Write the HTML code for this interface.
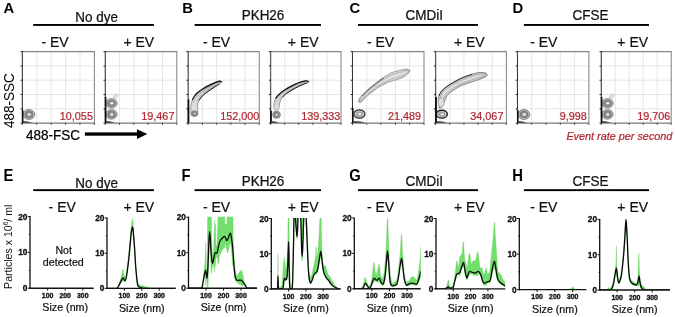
<!DOCTYPE html>
<html><head><meta charset="utf-8"><style>
html,body{margin:0;padding:0;background:#fff;}
body{width:675px;height:317px;overflow:hidden;}
svg{display:block;font-family:"Liberation Sans", sans-serif;filter:blur(0.3px);}
</style></head><body>
<svg width="675" height="317" viewBox="0 0 675 317">
<defs><linearGradient id="bg" gradientUnits="userSpaceOnUse" x1="0" y1="82" x2="0" y2="113"><stop offset="0" stop-color="#9a9a9a"/><stop offset="0.45" stop-color="#c4c4c4"/><stop offset="1" stop-color="#eeeeee"/></linearGradient><filter id="bl" filterUnits="userSpaceOnUse" x="0" y="0" width="675" height="317"><feGaussianBlur stdDeviation="0.35"/></filter></defs>
<rect width="675" height="317" fill="#fff"/>
<text transform="translate(3.6,13.1) scale(1,1.05)" x="0" y="0" font-size="14.8" text-anchor="start" font-weight="bold" font-style="normal" fill="#000" >A</text>
<text transform="translate(182.3,13.1) scale(1,1.05)" x="0" y="0" font-size="14.8" text-anchor="start" font-weight="bold" font-style="normal" fill="#000" >B</text>
<text transform="translate(349.5,13.1) scale(1,1.05)" x="0" y="0" font-size="14.8" text-anchor="start" font-weight="bold" font-style="normal" fill="#000" >C</text>
<text transform="translate(512.5,13.1) scale(1,1.05)" x="0" y="0" font-size="14.8" text-anchor="start" font-weight="bold" font-style="normal" fill="#000" >D</text>
<text transform="translate(3.6,180.9) scale(1,1.08)" x="0" y="0" font-size="14.8" text-anchor="start" font-weight="bold" font-style="normal" fill="#000" >E</text>
<text transform="translate(181.4,180.9) scale(1,1.08)" x="0" y="0" font-size="14.8" text-anchor="start" font-weight="bold" font-style="normal" fill="#000" >F</text>
<text transform="translate(349.3,180.9) scale(1,1.08)" x="0" y="0" font-size="14.8" text-anchor="start" font-weight="bold" font-style="normal" fill="#000" >G</text>
<text transform="translate(512.3,180.9) scale(1,1.08)" x="0" y="0" font-size="14.8" text-anchor="start" font-weight="bold" font-style="normal" fill="#000" >H</text>
<text transform="translate(96.6,21.7) scale(1,1.05)" x="0" y="0" font-size="13.5" text-anchor="middle" font-weight="normal" font-style="normal" fill="#111"  stroke="#111" stroke-width="0.22">No dye</text>
<rect x="33.2" y="24" width="120.7" height="1.9" fill="#000"/>
<text transform="translate(263,20.0) scale(1,1.05)" x="0" y="0" font-size="13.5" text-anchor="middle" font-weight="normal" font-style="normal" fill="#111"  stroke="#111" stroke-width="0.22">PKH26</text>
<rect x="194.6" y="24" width="126.4" height="1.9" fill="#000"/>
<text transform="translate(424.3,20.0) scale(1,1.05)" x="0" y="0" font-size="13.5" text-anchor="middle" font-weight="normal" font-style="normal" fill="#111"  stroke="#111" stroke-width="0.22">CMDiI</text>
<rect x="358" y="24" width="120" height="1.9" fill="#000"/>
<text transform="translate(590.5,20.0) scale(1,1.05)" x="0" y="0" font-size="13.5" text-anchor="middle" font-weight="normal" font-style="normal" fill="#111"  stroke="#111" stroke-width="0.22">CFSE</text>
<rect x="523.9" y="24" width="125.10000000000002" height="1.9" fill="#000"/>
<text transform="translate(96.6,187.5) scale(1,1.05)" x="0" y="0" font-size="13.5" text-anchor="middle" font-weight="normal" font-style="normal" fill="#111"  stroke="#111" stroke-width="0.22">No dye</text>
<rect x="33.2" y="189.2" width="120.7" height="1.9" fill="#000"/>
<text transform="translate(263,185.8) scale(1,1.05)" x="0" y="0" font-size="13.5" text-anchor="middle" font-weight="normal" font-style="normal" fill="#111"  stroke="#111" stroke-width="0.22">PKH26</text>
<rect x="194.6" y="189.2" width="126.4" height="1.9" fill="#000"/>
<text transform="translate(424.3,185.8) scale(1,1.05)" x="0" y="0" font-size="13.5" text-anchor="middle" font-weight="normal" font-style="normal" fill="#111"  stroke="#111" stroke-width="0.22">CMDiI</text>
<rect x="358" y="189.2" width="120" height="1.9" fill="#000"/>
<text transform="translate(590.5,185.8) scale(1,1.05)" x="0" y="0" font-size="13.5" text-anchor="middle" font-weight="normal" font-style="normal" fill="#111"  stroke="#111" stroke-width="0.22">CFSE</text>
<rect x="523.9" y="189.2" width="125.10000000000002" height="1.9" fill="#000"/>
<text transform="translate(55,46.7) scale(1,1.05)" x="0" y="0" font-size="14" text-anchor="middle" font-weight="normal" font-style="normal" fill="#111"  stroke="#111" stroke-width="0.22">- EV</text>
<text transform="translate(138.75,46.7) scale(1,1.05)" x="0" y="0" font-size="14" text-anchor="middle" font-weight="normal" font-style="normal" fill="#111"  stroke="#111" stroke-width="0.22">+ EV</text>
<text transform="translate(216.6,46.7) scale(1,1.05)" x="0" y="0" font-size="14" text-anchor="middle" font-weight="normal" font-style="normal" fill="#111"  stroke="#111" stroke-width="0.22">- EV</text>
<text transform="translate(303.2,46.7) scale(1,1.05)" x="0" y="0" font-size="14" text-anchor="middle" font-weight="normal" font-style="normal" fill="#111"  stroke="#111" stroke-width="0.22">+ EV</text>
<text transform="translate(380.5,46.7) scale(1,1.05)" x="0" y="0" font-size="14" text-anchor="middle" font-weight="normal" font-style="normal" fill="#111"  stroke="#111" stroke-width="0.22">- EV</text>
<text transform="translate(469.3,46.7) scale(1,1.05)" x="0" y="0" font-size="14" text-anchor="middle" font-weight="normal" font-style="normal" fill="#111"  stroke="#111" stroke-width="0.22">+ EV</text>
<text transform="translate(543.8,46.7) scale(1,1.05)" x="0" y="0" font-size="14" text-anchor="middle" font-weight="normal" font-style="normal" fill="#111"  stroke="#111" stroke-width="0.22">- EV</text>
<text transform="translate(632.7,46.7) scale(1,1.05)" x="0" y="0" font-size="14" text-anchor="middle" font-weight="normal" font-style="normal" fill="#111"  stroke="#111" stroke-width="0.22">+ EV</text>
<text transform="translate(62.2,212.0) scale(1,1.05)" x="0" y="0" font-size="14" text-anchor="middle" font-weight="normal" font-style="normal" fill="#111"  stroke="#111" stroke-width="0.22">- EV</text>
<text transform="translate(138.75,212.0) scale(1,1.05)" x="0" y="0" font-size="14" text-anchor="middle" font-weight="normal" font-style="normal" fill="#111"  stroke="#111" stroke-width="0.22">+ EV</text>
<text transform="translate(216.6,212.0) scale(1,1.05)" x="0" y="0" font-size="14" text-anchor="middle" font-weight="normal" font-style="normal" fill="#111"  stroke="#111" stroke-width="0.22">- EV</text>
<text transform="translate(303.2,212.0) scale(1,1.05)" x="0" y="0" font-size="14" text-anchor="middle" font-weight="normal" font-style="normal" fill="#111"  stroke="#111" stroke-width="0.22">+ EV</text>
<text transform="translate(380.5,212.0) scale(1,1.05)" x="0" y="0" font-size="14" text-anchor="middle" font-weight="normal" font-style="normal" fill="#111"  stroke="#111" stroke-width="0.22">- EV</text>
<text transform="translate(469.3,212.0) scale(1,1.05)" x="0" y="0" font-size="14" text-anchor="middle" font-weight="normal" font-style="normal" fill="#111"  stroke="#111" stroke-width="0.22">+ EV</text>
<text transform="translate(543.8,212.0) scale(1,1.05)" x="0" y="0" font-size="14" text-anchor="middle" font-weight="normal" font-style="normal" fill="#111"  stroke="#111" stroke-width="0.22">- EV</text>
<text transform="translate(632.7,212.0) scale(1,1.05)" x="0" y="0" font-size="14" text-anchor="middle" font-weight="normal" font-style="normal" fill="#111"  stroke="#111" stroke-width="0.22">+ EV</text>
<rect x="22.4" y="51.6" width="72.0" height="71.5" fill="#fff"/>
<line x1="36.80" y1="51.6" x2="36.80" y2="123.1" stroke="#e0e0e0" stroke-width="0.85"/>
<line x1="22.4" y1="65.90" x2="94.4" y2="65.90" stroke="#e0e0e0" stroke-width="0.85"/>
<line x1="51.20" y1="51.6" x2="51.20" y2="123.1" stroke="#e0e0e0" stroke-width="0.85"/>
<line x1="22.4" y1="80.20" x2="94.4" y2="80.20" stroke="#e0e0e0" stroke-width="0.85"/>
<line x1="65.60" y1="51.6" x2="65.60" y2="123.1" stroke="#e0e0e0" stroke-width="0.85"/>
<line x1="22.4" y1="94.50" x2="94.4" y2="94.50" stroke="#e0e0e0" stroke-width="0.85"/>
<line x1="80.00" y1="51.6" x2="80.00" y2="123.1" stroke="#e0e0e0" stroke-width="0.85"/>
<line x1="22.4" y1="108.80" x2="94.4" y2="108.80" stroke="#e0e0e0" stroke-width="0.85"/>
<polyline points="22.4,51.6 94.4,51.6 94.4,123.1" fill="none" stroke="#858585" stroke-width="1.05"/>
<line x1="22.4" y1="51.2" x2="22.4" y2="123.6" stroke="#2a2a2a" stroke-width="1"/>
<line x1="21.9" y1="123.1" x2="94.4" y2="123.1" stroke="#4a4a4a" stroke-width="0.9"/>
<line x1="20.599999999999998" y1="123.10" x2="22.4" y2="123.10" stroke="#222" stroke-width="1"/>
<line x1="22.40" y1="123.1" x2="22.40" y2="124.89999999999999" stroke="#333" stroke-width="0.9"/>
<line x1="21.4" y1="118.80" x2="22.4" y2="118.80" stroke="#999" stroke-width="0.5"/>
<line x1="26.73" y1="123.1" x2="26.73" y2="124.1" stroke="#888" stroke-width="0.5"/>
<line x1="21.4" y1="116.28" x2="22.4" y2="116.28" stroke="#999" stroke-width="0.5"/>
<line x1="29.27" y1="123.1" x2="29.27" y2="124.1" stroke="#888" stroke-width="0.5"/>
<line x1="21.4" y1="114.49" x2="22.4" y2="114.49" stroke="#999" stroke-width="0.5"/>
<line x1="31.07" y1="123.1" x2="31.07" y2="124.1" stroke="#888" stroke-width="0.5"/>
<line x1="21.4" y1="113.10" x2="22.4" y2="113.10" stroke="#999" stroke-width="0.5"/>
<line x1="32.47" y1="123.1" x2="32.47" y2="124.1" stroke="#888" stroke-width="0.5"/>
<line x1="21.4" y1="111.97" x2="22.4" y2="111.97" stroke="#999" stroke-width="0.5"/>
<line x1="33.61" y1="123.1" x2="33.61" y2="124.1" stroke="#888" stroke-width="0.5"/>
<line x1="21.4" y1="111.02" x2="22.4" y2="111.02" stroke="#999" stroke-width="0.5"/>
<line x1="34.57" y1="123.1" x2="34.57" y2="124.1" stroke="#888" stroke-width="0.5"/>
<line x1="21.4" y1="110.19" x2="22.4" y2="110.19" stroke="#999" stroke-width="0.5"/>
<line x1="35.40" y1="123.1" x2="35.40" y2="124.1" stroke="#888" stroke-width="0.5"/>
<line x1="21.4" y1="109.45" x2="22.4" y2="109.45" stroke="#999" stroke-width="0.5"/>
<line x1="36.14" y1="123.1" x2="36.14" y2="124.1" stroke="#888" stroke-width="0.5"/>
<line x1="20.599999999999998" y1="108.80" x2="22.4" y2="108.80" stroke="#222" stroke-width="1"/>
<line x1="36.80" y1="123.1" x2="36.80" y2="124.89999999999999" stroke="#333" stroke-width="0.9"/>
<line x1="21.4" y1="104.50" x2="22.4" y2="104.50" stroke="#999" stroke-width="0.5"/>
<line x1="41.13" y1="123.1" x2="41.13" y2="124.1" stroke="#888" stroke-width="0.5"/>
<line x1="21.4" y1="101.98" x2="22.4" y2="101.98" stroke="#999" stroke-width="0.5"/>
<line x1="43.67" y1="123.1" x2="43.67" y2="124.1" stroke="#888" stroke-width="0.5"/>
<line x1="21.4" y1="100.19" x2="22.4" y2="100.19" stroke="#999" stroke-width="0.5"/>
<line x1="45.47" y1="123.1" x2="45.47" y2="124.1" stroke="#888" stroke-width="0.5"/>
<line x1="21.4" y1="98.80" x2="22.4" y2="98.80" stroke="#999" stroke-width="0.5"/>
<line x1="46.87" y1="123.1" x2="46.87" y2="124.1" stroke="#888" stroke-width="0.5"/>
<line x1="21.4" y1="97.67" x2="22.4" y2="97.67" stroke="#999" stroke-width="0.5"/>
<line x1="48.01" y1="123.1" x2="48.01" y2="124.1" stroke="#888" stroke-width="0.5"/>
<line x1="21.4" y1="96.72" x2="22.4" y2="96.72" stroke="#999" stroke-width="0.5"/>
<line x1="48.97" y1="123.1" x2="48.97" y2="124.1" stroke="#888" stroke-width="0.5"/>
<line x1="21.4" y1="95.89" x2="22.4" y2="95.89" stroke="#999" stroke-width="0.5"/>
<line x1="49.80" y1="123.1" x2="49.80" y2="124.1" stroke="#888" stroke-width="0.5"/>
<line x1="21.4" y1="95.15" x2="22.4" y2="95.15" stroke="#999" stroke-width="0.5"/>
<line x1="50.54" y1="123.1" x2="50.54" y2="124.1" stroke="#888" stroke-width="0.5"/>
<line x1="20.599999999999998" y1="94.50" x2="22.4" y2="94.50" stroke="#222" stroke-width="1"/>
<line x1="51.20" y1="123.1" x2="51.20" y2="124.89999999999999" stroke="#333" stroke-width="0.9"/>
<line x1="21.4" y1="90.20" x2="22.4" y2="90.20" stroke="#999" stroke-width="0.5"/>
<line x1="55.53" y1="123.1" x2="55.53" y2="124.1" stroke="#888" stroke-width="0.5"/>
<line x1="21.4" y1="87.68" x2="22.4" y2="87.68" stroke="#999" stroke-width="0.5"/>
<line x1="58.07" y1="123.1" x2="58.07" y2="124.1" stroke="#888" stroke-width="0.5"/>
<line x1="21.4" y1="85.89" x2="22.4" y2="85.89" stroke="#999" stroke-width="0.5"/>
<line x1="59.87" y1="123.1" x2="59.87" y2="124.1" stroke="#888" stroke-width="0.5"/>
<line x1="21.4" y1="84.50" x2="22.4" y2="84.50" stroke="#999" stroke-width="0.5"/>
<line x1="61.27" y1="123.1" x2="61.27" y2="124.1" stroke="#888" stroke-width="0.5"/>
<line x1="21.4" y1="83.37" x2="22.4" y2="83.37" stroke="#999" stroke-width="0.5"/>
<line x1="62.41" y1="123.1" x2="62.41" y2="124.1" stroke="#888" stroke-width="0.5"/>
<line x1="21.4" y1="82.42" x2="22.4" y2="82.42" stroke="#999" stroke-width="0.5"/>
<line x1="63.37" y1="123.1" x2="63.37" y2="124.1" stroke="#888" stroke-width="0.5"/>
<line x1="21.4" y1="81.59" x2="22.4" y2="81.59" stroke="#999" stroke-width="0.5"/>
<line x1="64.20" y1="123.1" x2="64.20" y2="124.1" stroke="#888" stroke-width="0.5"/>
<line x1="21.4" y1="80.85" x2="22.4" y2="80.85" stroke="#999" stroke-width="0.5"/>
<line x1="64.94" y1="123.1" x2="64.94" y2="124.1" stroke="#888" stroke-width="0.5"/>
<line x1="20.599999999999998" y1="80.20" x2="22.4" y2="80.20" stroke="#222" stroke-width="1"/>
<line x1="65.60" y1="123.1" x2="65.60" y2="124.89999999999999" stroke="#333" stroke-width="0.9"/>
<line x1="21.4" y1="75.90" x2="22.4" y2="75.90" stroke="#999" stroke-width="0.5"/>
<line x1="69.93" y1="123.1" x2="69.93" y2="124.1" stroke="#888" stroke-width="0.5"/>
<line x1="21.4" y1="73.38" x2="22.4" y2="73.38" stroke="#999" stroke-width="0.5"/>
<line x1="72.47" y1="123.1" x2="72.47" y2="124.1" stroke="#888" stroke-width="0.5"/>
<line x1="21.4" y1="71.59" x2="22.4" y2="71.59" stroke="#999" stroke-width="0.5"/>
<line x1="74.27" y1="123.1" x2="74.27" y2="124.1" stroke="#888" stroke-width="0.5"/>
<line x1="21.4" y1="70.20" x2="22.4" y2="70.20" stroke="#999" stroke-width="0.5"/>
<line x1="75.67" y1="123.1" x2="75.67" y2="124.1" stroke="#888" stroke-width="0.5"/>
<line x1="21.4" y1="69.07" x2="22.4" y2="69.07" stroke="#999" stroke-width="0.5"/>
<line x1="76.81" y1="123.1" x2="76.81" y2="124.1" stroke="#888" stroke-width="0.5"/>
<line x1="21.4" y1="68.12" x2="22.4" y2="68.12" stroke="#999" stroke-width="0.5"/>
<line x1="77.77" y1="123.1" x2="77.77" y2="124.1" stroke="#888" stroke-width="0.5"/>
<line x1="21.4" y1="67.29" x2="22.4" y2="67.29" stroke="#999" stroke-width="0.5"/>
<line x1="78.60" y1="123.1" x2="78.60" y2="124.1" stroke="#888" stroke-width="0.5"/>
<line x1="21.4" y1="66.55" x2="22.4" y2="66.55" stroke="#999" stroke-width="0.5"/>
<line x1="79.34" y1="123.1" x2="79.34" y2="124.1" stroke="#888" stroke-width="0.5"/>
<line x1="20.599999999999998" y1="65.90" x2="22.4" y2="65.90" stroke="#222" stroke-width="1"/>
<line x1="80.00" y1="123.1" x2="80.00" y2="124.89999999999999" stroke="#333" stroke-width="0.9"/>
<line x1="21.4" y1="61.60" x2="22.4" y2="61.60" stroke="#999" stroke-width="0.5"/>
<line x1="84.33" y1="123.1" x2="84.33" y2="124.1" stroke="#888" stroke-width="0.5"/>
<line x1="21.4" y1="59.08" x2="22.4" y2="59.08" stroke="#999" stroke-width="0.5"/>
<line x1="86.87" y1="123.1" x2="86.87" y2="124.1" stroke="#888" stroke-width="0.5"/>
<line x1="21.4" y1="57.29" x2="22.4" y2="57.29" stroke="#999" stroke-width="0.5"/>
<line x1="88.67" y1="123.1" x2="88.67" y2="124.1" stroke="#888" stroke-width="0.5"/>
<line x1="21.4" y1="55.90" x2="22.4" y2="55.90" stroke="#999" stroke-width="0.5"/>
<line x1="90.07" y1="123.1" x2="90.07" y2="124.1" stroke="#888" stroke-width="0.5"/>
<line x1="21.4" y1="54.77" x2="22.4" y2="54.77" stroke="#999" stroke-width="0.5"/>
<line x1="91.21" y1="123.1" x2="91.21" y2="124.1" stroke="#888" stroke-width="0.5"/>
<line x1="21.4" y1="53.82" x2="22.4" y2="53.82" stroke="#999" stroke-width="0.5"/>
<line x1="92.17" y1="123.1" x2="92.17" y2="124.1" stroke="#888" stroke-width="0.5"/>
<line x1="21.4" y1="52.99" x2="22.4" y2="52.99" stroke="#999" stroke-width="0.5"/>
<line x1="93.00" y1="123.1" x2="93.00" y2="124.1" stroke="#888" stroke-width="0.5"/>
<line x1="21.4" y1="52.25" x2="22.4" y2="52.25" stroke="#999" stroke-width="0.5"/>
<line x1="93.74" y1="123.1" x2="93.74" y2="124.1" stroke="#888" stroke-width="0.5"/>
<line x1="20.599999999999998" y1="51.60" x2="22.4" y2="51.60" stroke="#222" stroke-width="1"/>
<line x1="94.40" y1="123.1" x2="94.40" y2="124.89999999999999" stroke="#333" stroke-width="0.9"/>
<text x="92.9" y="119.8" font-size="10.8" text-anchor="end" font-weight="normal" font-style="normal" fill="#b0242e" stroke="#b0242e" stroke-width="0.2">10,055</text>
<rect x="105.3" y="51.6" width="71.50000000000001" height="71.5" fill="#fff"/>
<line x1="119.60" y1="51.6" x2="119.60" y2="123.1" stroke="#e0e0e0" stroke-width="0.85"/>
<line x1="105.3" y1="65.90" x2="176.8" y2="65.90" stroke="#e0e0e0" stroke-width="0.85"/>
<line x1="133.90" y1="51.6" x2="133.90" y2="123.1" stroke="#e0e0e0" stroke-width="0.85"/>
<line x1="105.3" y1="80.20" x2="176.8" y2="80.20" stroke="#e0e0e0" stroke-width="0.85"/>
<line x1="148.20" y1="51.6" x2="148.20" y2="123.1" stroke="#e0e0e0" stroke-width="0.85"/>
<line x1="105.3" y1="94.50" x2="176.8" y2="94.50" stroke="#e0e0e0" stroke-width="0.85"/>
<line x1="162.50" y1="51.6" x2="162.50" y2="123.1" stroke="#e0e0e0" stroke-width="0.85"/>
<line x1="105.3" y1="108.80" x2="176.8" y2="108.80" stroke="#e0e0e0" stroke-width="0.85"/>
<polyline points="105.3,51.6 176.8,51.6 176.8,123.1" fill="none" stroke="#858585" stroke-width="1.05"/>
<line x1="105.3" y1="51.2" x2="105.3" y2="123.6" stroke="#2a2a2a" stroke-width="1"/>
<line x1="104.8" y1="123.1" x2="176.8" y2="123.1" stroke="#4a4a4a" stroke-width="0.9"/>
<line x1="103.5" y1="123.10" x2="105.3" y2="123.10" stroke="#222" stroke-width="1"/>
<line x1="105.30" y1="123.1" x2="105.30" y2="124.89999999999999" stroke="#333" stroke-width="0.9"/>
<line x1="104.3" y1="118.80" x2="105.3" y2="118.80" stroke="#999" stroke-width="0.5"/>
<line x1="109.60" y1="123.1" x2="109.60" y2="124.1" stroke="#888" stroke-width="0.5"/>
<line x1="104.3" y1="116.28" x2="105.3" y2="116.28" stroke="#999" stroke-width="0.5"/>
<line x1="112.12" y1="123.1" x2="112.12" y2="124.1" stroke="#888" stroke-width="0.5"/>
<line x1="104.3" y1="114.49" x2="105.3" y2="114.49" stroke="#999" stroke-width="0.5"/>
<line x1="113.91" y1="123.1" x2="113.91" y2="124.1" stroke="#888" stroke-width="0.5"/>
<line x1="104.3" y1="113.10" x2="105.3" y2="113.10" stroke="#999" stroke-width="0.5"/>
<line x1="115.30" y1="123.1" x2="115.30" y2="124.1" stroke="#888" stroke-width="0.5"/>
<line x1="104.3" y1="111.97" x2="105.3" y2="111.97" stroke="#999" stroke-width="0.5"/>
<line x1="116.43" y1="123.1" x2="116.43" y2="124.1" stroke="#888" stroke-width="0.5"/>
<line x1="104.3" y1="111.02" x2="105.3" y2="111.02" stroke="#999" stroke-width="0.5"/>
<line x1="117.38" y1="123.1" x2="117.38" y2="124.1" stroke="#888" stroke-width="0.5"/>
<line x1="104.3" y1="110.19" x2="105.3" y2="110.19" stroke="#999" stroke-width="0.5"/>
<line x1="118.21" y1="123.1" x2="118.21" y2="124.1" stroke="#888" stroke-width="0.5"/>
<line x1="104.3" y1="109.45" x2="105.3" y2="109.45" stroke="#999" stroke-width="0.5"/>
<line x1="118.95" y1="123.1" x2="118.95" y2="124.1" stroke="#888" stroke-width="0.5"/>
<line x1="103.5" y1="108.80" x2="105.3" y2="108.80" stroke="#222" stroke-width="1"/>
<line x1="119.60" y1="123.1" x2="119.60" y2="124.89999999999999" stroke="#333" stroke-width="0.9"/>
<line x1="104.3" y1="104.50" x2="105.3" y2="104.50" stroke="#999" stroke-width="0.5"/>
<line x1="123.90" y1="123.1" x2="123.90" y2="124.1" stroke="#888" stroke-width="0.5"/>
<line x1="104.3" y1="101.98" x2="105.3" y2="101.98" stroke="#999" stroke-width="0.5"/>
<line x1="126.42" y1="123.1" x2="126.42" y2="124.1" stroke="#888" stroke-width="0.5"/>
<line x1="104.3" y1="100.19" x2="105.3" y2="100.19" stroke="#999" stroke-width="0.5"/>
<line x1="128.21" y1="123.1" x2="128.21" y2="124.1" stroke="#888" stroke-width="0.5"/>
<line x1="104.3" y1="98.80" x2="105.3" y2="98.80" stroke="#999" stroke-width="0.5"/>
<line x1="129.60" y1="123.1" x2="129.60" y2="124.1" stroke="#888" stroke-width="0.5"/>
<line x1="104.3" y1="97.67" x2="105.3" y2="97.67" stroke="#999" stroke-width="0.5"/>
<line x1="130.73" y1="123.1" x2="130.73" y2="124.1" stroke="#888" stroke-width="0.5"/>
<line x1="104.3" y1="96.72" x2="105.3" y2="96.72" stroke="#999" stroke-width="0.5"/>
<line x1="131.68" y1="123.1" x2="131.68" y2="124.1" stroke="#888" stroke-width="0.5"/>
<line x1="104.3" y1="95.89" x2="105.3" y2="95.89" stroke="#999" stroke-width="0.5"/>
<line x1="132.51" y1="123.1" x2="132.51" y2="124.1" stroke="#888" stroke-width="0.5"/>
<line x1="104.3" y1="95.15" x2="105.3" y2="95.15" stroke="#999" stroke-width="0.5"/>
<line x1="133.25" y1="123.1" x2="133.25" y2="124.1" stroke="#888" stroke-width="0.5"/>
<line x1="103.5" y1="94.50" x2="105.3" y2="94.50" stroke="#222" stroke-width="1"/>
<line x1="133.90" y1="123.1" x2="133.90" y2="124.89999999999999" stroke="#333" stroke-width="0.9"/>
<line x1="104.3" y1="90.20" x2="105.3" y2="90.20" stroke="#999" stroke-width="0.5"/>
<line x1="138.20" y1="123.1" x2="138.20" y2="124.1" stroke="#888" stroke-width="0.5"/>
<line x1="104.3" y1="87.68" x2="105.3" y2="87.68" stroke="#999" stroke-width="0.5"/>
<line x1="140.72" y1="123.1" x2="140.72" y2="124.1" stroke="#888" stroke-width="0.5"/>
<line x1="104.3" y1="85.89" x2="105.3" y2="85.89" stroke="#999" stroke-width="0.5"/>
<line x1="142.51" y1="123.1" x2="142.51" y2="124.1" stroke="#888" stroke-width="0.5"/>
<line x1="104.3" y1="84.50" x2="105.3" y2="84.50" stroke="#999" stroke-width="0.5"/>
<line x1="143.90" y1="123.1" x2="143.90" y2="124.1" stroke="#888" stroke-width="0.5"/>
<line x1="104.3" y1="83.37" x2="105.3" y2="83.37" stroke="#999" stroke-width="0.5"/>
<line x1="145.03" y1="123.1" x2="145.03" y2="124.1" stroke="#888" stroke-width="0.5"/>
<line x1="104.3" y1="82.42" x2="105.3" y2="82.42" stroke="#999" stroke-width="0.5"/>
<line x1="145.98" y1="123.1" x2="145.98" y2="124.1" stroke="#888" stroke-width="0.5"/>
<line x1="104.3" y1="81.59" x2="105.3" y2="81.59" stroke="#999" stroke-width="0.5"/>
<line x1="146.81" y1="123.1" x2="146.81" y2="124.1" stroke="#888" stroke-width="0.5"/>
<line x1="104.3" y1="80.85" x2="105.3" y2="80.85" stroke="#999" stroke-width="0.5"/>
<line x1="147.55" y1="123.1" x2="147.55" y2="124.1" stroke="#888" stroke-width="0.5"/>
<line x1="103.5" y1="80.20" x2="105.3" y2="80.20" stroke="#222" stroke-width="1"/>
<line x1="148.20" y1="123.1" x2="148.20" y2="124.89999999999999" stroke="#333" stroke-width="0.9"/>
<line x1="104.3" y1="75.90" x2="105.3" y2="75.90" stroke="#999" stroke-width="0.5"/>
<line x1="152.50" y1="123.1" x2="152.50" y2="124.1" stroke="#888" stroke-width="0.5"/>
<line x1="104.3" y1="73.38" x2="105.3" y2="73.38" stroke="#999" stroke-width="0.5"/>
<line x1="155.02" y1="123.1" x2="155.02" y2="124.1" stroke="#888" stroke-width="0.5"/>
<line x1="104.3" y1="71.59" x2="105.3" y2="71.59" stroke="#999" stroke-width="0.5"/>
<line x1="156.81" y1="123.1" x2="156.81" y2="124.1" stroke="#888" stroke-width="0.5"/>
<line x1="104.3" y1="70.20" x2="105.3" y2="70.20" stroke="#999" stroke-width="0.5"/>
<line x1="158.20" y1="123.1" x2="158.20" y2="124.1" stroke="#888" stroke-width="0.5"/>
<line x1="104.3" y1="69.07" x2="105.3" y2="69.07" stroke="#999" stroke-width="0.5"/>
<line x1="159.33" y1="123.1" x2="159.33" y2="124.1" stroke="#888" stroke-width="0.5"/>
<line x1="104.3" y1="68.12" x2="105.3" y2="68.12" stroke="#999" stroke-width="0.5"/>
<line x1="160.28" y1="123.1" x2="160.28" y2="124.1" stroke="#888" stroke-width="0.5"/>
<line x1="104.3" y1="67.29" x2="105.3" y2="67.29" stroke="#999" stroke-width="0.5"/>
<line x1="161.11" y1="123.1" x2="161.11" y2="124.1" stroke="#888" stroke-width="0.5"/>
<line x1="104.3" y1="66.55" x2="105.3" y2="66.55" stroke="#999" stroke-width="0.5"/>
<line x1="161.85" y1="123.1" x2="161.85" y2="124.1" stroke="#888" stroke-width="0.5"/>
<line x1="103.5" y1="65.90" x2="105.3" y2="65.90" stroke="#222" stroke-width="1"/>
<line x1="162.50" y1="123.1" x2="162.50" y2="124.89999999999999" stroke="#333" stroke-width="0.9"/>
<line x1="104.3" y1="61.60" x2="105.3" y2="61.60" stroke="#999" stroke-width="0.5"/>
<line x1="166.80" y1="123.1" x2="166.80" y2="124.1" stroke="#888" stroke-width="0.5"/>
<line x1="104.3" y1="59.08" x2="105.3" y2="59.08" stroke="#999" stroke-width="0.5"/>
<line x1="169.32" y1="123.1" x2="169.32" y2="124.1" stroke="#888" stroke-width="0.5"/>
<line x1="104.3" y1="57.29" x2="105.3" y2="57.29" stroke="#999" stroke-width="0.5"/>
<line x1="171.11" y1="123.1" x2="171.11" y2="124.1" stroke="#888" stroke-width="0.5"/>
<line x1="104.3" y1="55.90" x2="105.3" y2="55.90" stroke="#999" stroke-width="0.5"/>
<line x1="172.50" y1="123.1" x2="172.50" y2="124.1" stroke="#888" stroke-width="0.5"/>
<line x1="104.3" y1="54.77" x2="105.3" y2="54.77" stroke="#999" stroke-width="0.5"/>
<line x1="173.63" y1="123.1" x2="173.63" y2="124.1" stroke="#888" stroke-width="0.5"/>
<line x1="104.3" y1="53.82" x2="105.3" y2="53.82" stroke="#999" stroke-width="0.5"/>
<line x1="174.58" y1="123.1" x2="174.58" y2="124.1" stroke="#888" stroke-width="0.5"/>
<line x1="104.3" y1="52.99" x2="105.3" y2="52.99" stroke="#999" stroke-width="0.5"/>
<line x1="175.41" y1="123.1" x2="175.41" y2="124.1" stroke="#888" stroke-width="0.5"/>
<line x1="104.3" y1="52.25" x2="105.3" y2="52.25" stroke="#999" stroke-width="0.5"/>
<line x1="176.15" y1="123.1" x2="176.15" y2="124.1" stroke="#888" stroke-width="0.5"/>
<line x1="103.5" y1="51.60" x2="105.3" y2="51.60" stroke="#222" stroke-width="1"/>
<line x1="176.80" y1="123.1" x2="176.80" y2="124.89999999999999" stroke="#333" stroke-width="0.9"/>
<text x="174.4" y="119.8" font-size="10.8" text-anchor="end" font-weight="normal" font-style="normal" fill="#b0242e" stroke="#b0242e" stroke-width="0.2">19,467</text>
<rect x="188.2" y="51.6" width="71.10000000000002" height="71.5" fill="#fff"/>
<line x1="202.42" y1="51.6" x2="202.42" y2="123.1" stroke="#e0e0e0" stroke-width="0.85"/>
<line x1="188.2" y1="65.90" x2="259.3" y2="65.90" stroke="#e0e0e0" stroke-width="0.85"/>
<line x1="216.64" y1="51.6" x2="216.64" y2="123.1" stroke="#e0e0e0" stroke-width="0.85"/>
<line x1="188.2" y1="80.20" x2="259.3" y2="80.20" stroke="#e0e0e0" stroke-width="0.85"/>
<line x1="230.86" y1="51.6" x2="230.86" y2="123.1" stroke="#e0e0e0" stroke-width="0.85"/>
<line x1="188.2" y1="94.50" x2="259.3" y2="94.50" stroke="#e0e0e0" stroke-width="0.85"/>
<line x1="245.08" y1="51.6" x2="245.08" y2="123.1" stroke="#e0e0e0" stroke-width="0.85"/>
<line x1="188.2" y1="108.80" x2="259.3" y2="108.80" stroke="#e0e0e0" stroke-width="0.85"/>
<polyline points="188.2,51.6 259.3,51.6 259.3,123.1" fill="none" stroke="#858585" stroke-width="1.05"/>
<line x1="188.2" y1="51.2" x2="188.2" y2="123.6" stroke="#2a2a2a" stroke-width="1"/>
<line x1="187.7" y1="123.1" x2="259.3" y2="123.1" stroke="#4a4a4a" stroke-width="0.9"/>
<line x1="186.39999999999998" y1="123.10" x2="188.2" y2="123.10" stroke="#222" stroke-width="1"/>
<line x1="188.20" y1="123.1" x2="188.20" y2="124.89999999999999" stroke="#333" stroke-width="0.9"/>
<line x1="187.2" y1="118.80" x2="188.2" y2="118.80" stroke="#999" stroke-width="0.5"/>
<line x1="192.48" y1="123.1" x2="192.48" y2="124.1" stroke="#888" stroke-width="0.5"/>
<line x1="187.2" y1="116.28" x2="188.2" y2="116.28" stroke="#999" stroke-width="0.5"/>
<line x1="194.98" y1="123.1" x2="194.98" y2="124.1" stroke="#888" stroke-width="0.5"/>
<line x1="187.2" y1="114.49" x2="188.2" y2="114.49" stroke="#999" stroke-width="0.5"/>
<line x1="196.76" y1="123.1" x2="196.76" y2="124.1" stroke="#888" stroke-width="0.5"/>
<line x1="187.2" y1="113.10" x2="188.2" y2="113.10" stroke="#999" stroke-width="0.5"/>
<line x1="198.14" y1="123.1" x2="198.14" y2="124.1" stroke="#888" stroke-width="0.5"/>
<line x1="187.2" y1="111.97" x2="188.2" y2="111.97" stroke="#999" stroke-width="0.5"/>
<line x1="199.27" y1="123.1" x2="199.27" y2="124.1" stroke="#888" stroke-width="0.5"/>
<line x1="187.2" y1="111.02" x2="188.2" y2="111.02" stroke="#999" stroke-width="0.5"/>
<line x1="200.22" y1="123.1" x2="200.22" y2="124.1" stroke="#888" stroke-width="0.5"/>
<line x1="187.2" y1="110.19" x2="188.2" y2="110.19" stroke="#999" stroke-width="0.5"/>
<line x1="201.04" y1="123.1" x2="201.04" y2="124.1" stroke="#888" stroke-width="0.5"/>
<line x1="187.2" y1="109.45" x2="188.2" y2="109.45" stroke="#999" stroke-width="0.5"/>
<line x1="201.77" y1="123.1" x2="201.77" y2="124.1" stroke="#888" stroke-width="0.5"/>
<line x1="186.39999999999998" y1="108.80" x2="188.2" y2="108.80" stroke="#222" stroke-width="1"/>
<line x1="202.42" y1="123.1" x2="202.42" y2="124.89999999999999" stroke="#333" stroke-width="0.9"/>
<line x1="187.2" y1="104.50" x2="188.2" y2="104.50" stroke="#999" stroke-width="0.5"/>
<line x1="206.70" y1="123.1" x2="206.70" y2="124.1" stroke="#888" stroke-width="0.5"/>
<line x1="187.2" y1="101.98" x2="188.2" y2="101.98" stroke="#999" stroke-width="0.5"/>
<line x1="209.20" y1="123.1" x2="209.20" y2="124.1" stroke="#888" stroke-width="0.5"/>
<line x1="187.2" y1="100.19" x2="188.2" y2="100.19" stroke="#999" stroke-width="0.5"/>
<line x1="210.98" y1="123.1" x2="210.98" y2="124.1" stroke="#888" stroke-width="0.5"/>
<line x1="187.2" y1="98.80" x2="188.2" y2="98.80" stroke="#999" stroke-width="0.5"/>
<line x1="212.36" y1="123.1" x2="212.36" y2="124.1" stroke="#888" stroke-width="0.5"/>
<line x1="187.2" y1="97.67" x2="188.2" y2="97.67" stroke="#999" stroke-width="0.5"/>
<line x1="213.49" y1="123.1" x2="213.49" y2="124.1" stroke="#888" stroke-width="0.5"/>
<line x1="187.2" y1="96.72" x2="188.2" y2="96.72" stroke="#999" stroke-width="0.5"/>
<line x1="214.44" y1="123.1" x2="214.44" y2="124.1" stroke="#888" stroke-width="0.5"/>
<line x1="187.2" y1="95.89" x2="188.2" y2="95.89" stroke="#999" stroke-width="0.5"/>
<line x1="215.26" y1="123.1" x2="215.26" y2="124.1" stroke="#888" stroke-width="0.5"/>
<line x1="187.2" y1="95.15" x2="188.2" y2="95.15" stroke="#999" stroke-width="0.5"/>
<line x1="215.99" y1="123.1" x2="215.99" y2="124.1" stroke="#888" stroke-width="0.5"/>
<line x1="186.39999999999998" y1="94.50" x2="188.2" y2="94.50" stroke="#222" stroke-width="1"/>
<line x1="216.64" y1="123.1" x2="216.64" y2="124.89999999999999" stroke="#333" stroke-width="0.9"/>
<line x1="187.2" y1="90.20" x2="188.2" y2="90.20" stroke="#999" stroke-width="0.5"/>
<line x1="220.92" y1="123.1" x2="220.92" y2="124.1" stroke="#888" stroke-width="0.5"/>
<line x1="187.2" y1="87.68" x2="188.2" y2="87.68" stroke="#999" stroke-width="0.5"/>
<line x1="223.42" y1="123.1" x2="223.42" y2="124.1" stroke="#888" stroke-width="0.5"/>
<line x1="187.2" y1="85.89" x2="188.2" y2="85.89" stroke="#999" stroke-width="0.5"/>
<line x1="225.20" y1="123.1" x2="225.20" y2="124.1" stroke="#888" stroke-width="0.5"/>
<line x1="187.2" y1="84.50" x2="188.2" y2="84.50" stroke="#999" stroke-width="0.5"/>
<line x1="226.58" y1="123.1" x2="226.58" y2="124.1" stroke="#888" stroke-width="0.5"/>
<line x1="187.2" y1="83.37" x2="188.2" y2="83.37" stroke="#999" stroke-width="0.5"/>
<line x1="227.71" y1="123.1" x2="227.71" y2="124.1" stroke="#888" stroke-width="0.5"/>
<line x1="187.2" y1="82.42" x2="188.2" y2="82.42" stroke="#999" stroke-width="0.5"/>
<line x1="228.66" y1="123.1" x2="228.66" y2="124.1" stroke="#888" stroke-width="0.5"/>
<line x1="187.2" y1="81.59" x2="188.2" y2="81.59" stroke="#999" stroke-width="0.5"/>
<line x1="229.48" y1="123.1" x2="229.48" y2="124.1" stroke="#888" stroke-width="0.5"/>
<line x1="187.2" y1="80.85" x2="188.2" y2="80.85" stroke="#999" stroke-width="0.5"/>
<line x1="230.21" y1="123.1" x2="230.21" y2="124.1" stroke="#888" stroke-width="0.5"/>
<line x1="186.39999999999998" y1="80.20" x2="188.2" y2="80.20" stroke="#222" stroke-width="1"/>
<line x1="230.86" y1="123.1" x2="230.86" y2="124.89999999999999" stroke="#333" stroke-width="0.9"/>
<line x1="187.2" y1="75.90" x2="188.2" y2="75.90" stroke="#999" stroke-width="0.5"/>
<line x1="235.14" y1="123.1" x2="235.14" y2="124.1" stroke="#888" stroke-width="0.5"/>
<line x1="187.2" y1="73.38" x2="188.2" y2="73.38" stroke="#999" stroke-width="0.5"/>
<line x1="237.64" y1="123.1" x2="237.64" y2="124.1" stroke="#888" stroke-width="0.5"/>
<line x1="187.2" y1="71.59" x2="188.2" y2="71.59" stroke="#999" stroke-width="0.5"/>
<line x1="239.42" y1="123.1" x2="239.42" y2="124.1" stroke="#888" stroke-width="0.5"/>
<line x1="187.2" y1="70.20" x2="188.2" y2="70.20" stroke="#999" stroke-width="0.5"/>
<line x1="240.80" y1="123.1" x2="240.80" y2="124.1" stroke="#888" stroke-width="0.5"/>
<line x1="187.2" y1="69.07" x2="188.2" y2="69.07" stroke="#999" stroke-width="0.5"/>
<line x1="241.93" y1="123.1" x2="241.93" y2="124.1" stroke="#888" stroke-width="0.5"/>
<line x1="187.2" y1="68.12" x2="188.2" y2="68.12" stroke="#999" stroke-width="0.5"/>
<line x1="242.88" y1="123.1" x2="242.88" y2="124.1" stroke="#888" stroke-width="0.5"/>
<line x1="187.2" y1="67.29" x2="188.2" y2="67.29" stroke="#999" stroke-width="0.5"/>
<line x1="243.70" y1="123.1" x2="243.70" y2="124.1" stroke="#888" stroke-width="0.5"/>
<line x1="187.2" y1="66.55" x2="188.2" y2="66.55" stroke="#999" stroke-width="0.5"/>
<line x1="244.43" y1="123.1" x2="244.43" y2="124.1" stroke="#888" stroke-width="0.5"/>
<line x1="186.39999999999998" y1="65.90" x2="188.2" y2="65.90" stroke="#222" stroke-width="1"/>
<line x1="245.08" y1="123.1" x2="245.08" y2="124.89999999999999" stroke="#333" stroke-width="0.9"/>
<line x1="187.2" y1="61.60" x2="188.2" y2="61.60" stroke="#999" stroke-width="0.5"/>
<line x1="249.36" y1="123.1" x2="249.36" y2="124.1" stroke="#888" stroke-width="0.5"/>
<line x1="187.2" y1="59.08" x2="188.2" y2="59.08" stroke="#999" stroke-width="0.5"/>
<line x1="251.86" y1="123.1" x2="251.86" y2="124.1" stroke="#888" stroke-width="0.5"/>
<line x1="187.2" y1="57.29" x2="188.2" y2="57.29" stroke="#999" stroke-width="0.5"/>
<line x1="253.64" y1="123.1" x2="253.64" y2="124.1" stroke="#888" stroke-width="0.5"/>
<line x1="187.2" y1="55.90" x2="188.2" y2="55.90" stroke="#999" stroke-width="0.5"/>
<line x1="255.02" y1="123.1" x2="255.02" y2="124.1" stroke="#888" stroke-width="0.5"/>
<line x1="187.2" y1="54.77" x2="188.2" y2="54.77" stroke="#999" stroke-width="0.5"/>
<line x1="256.15" y1="123.1" x2="256.15" y2="124.1" stroke="#888" stroke-width="0.5"/>
<line x1="187.2" y1="53.82" x2="188.2" y2="53.82" stroke="#999" stroke-width="0.5"/>
<line x1="257.10" y1="123.1" x2="257.10" y2="124.1" stroke="#888" stroke-width="0.5"/>
<line x1="187.2" y1="52.99" x2="188.2" y2="52.99" stroke="#999" stroke-width="0.5"/>
<line x1="257.92" y1="123.1" x2="257.92" y2="124.1" stroke="#888" stroke-width="0.5"/>
<line x1="187.2" y1="52.25" x2="188.2" y2="52.25" stroke="#999" stroke-width="0.5"/>
<line x1="258.65" y1="123.1" x2="258.65" y2="124.1" stroke="#888" stroke-width="0.5"/>
<line x1="186.39999999999998" y1="51.60" x2="188.2" y2="51.60" stroke="#222" stroke-width="1"/>
<line x1="259.30" y1="123.1" x2="259.30" y2="124.89999999999999" stroke="#333" stroke-width="0.9"/>
<text x="259.2" y="119.8" font-size="10.8" text-anchor="end" font-weight="normal" font-style="normal" fill="#b0242e" stroke="#b0242e" stroke-width="0.2">152,000</text>
<rect x="270.7" y="51.6" width="70.30000000000001" height="71.5" fill="#fff"/>
<line x1="284.76" y1="51.6" x2="284.76" y2="123.1" stroke="#e0e0e0" stroke-width="0.85"/>
<line x1="270.7" y1="65.90" x2="341.0" y2="65.90" stroke="#e0e0e0" stroke-width="0.85"/>
<line x1="298.82" y1="51.6" x2="298.82" y2="123.1" stroke="#e0e0e0" stroke-width="0.85"/>
<line x1="270.7" y1="80.20" x2="341.0" y2="80.20" stroke="#e0e0e0" stroke-width="0.85"/>
<line x1="312.88" y1="51.6" x2="312.88" y2="123.1" stroke="#e0e0e0" stroke-width="0.85"/>
<line x1="270.7" y1="94.50" x2="341.0" y2="94.50" stroke="#e0e0e0" stroke-width="0.85"/>
<line x1="326.94" y1="51.6" x2="326.94" y2="123.1" stroke="#e0e0e0" stroke-width="0.85"/>
<line x1="270.7" y1="108.80" x2="341.0" y2="108.80" stroke="#e0e0e0" stroke-width="0.85"/>
<polyline points="270.7,51.6 341.0,51.6 341.0,123.1" fill="none" stroke="#858585" stroke-width="1.05"/>
<line x1="270.7" y1="51.2" x2="270.7" y2="123.6" stroke="#2a2a2a" stroke-width="1"/>
<line x1="270.2" y1="123.1" x2="341.0" y2="123.1" stroke="#4a4a4a" stroke-width="0.9"/>
<line x1="268.9" y1="123.10" x2="270.7" y2="123.10" stroke="#222" stroke-width="1"/>
<line x1="270.70" y1="123.1" x2="270.70" y2="124.89999999999999" stroke="#333" stroke-width="0.9"/>
<line x1="269.7" y1="118.80" x2="270.7" y2="118.80" stroke="#999" stroke-width="0.5"/>
<line x1="274.93" y1="123.1" x2="274.93" y2="124.1" stroke="#888" stroke-width="0.5"/>
<line x1="269.7" y1="116.28" x2="270.7" y2="116.28" stroke="#999" stroke-width="0.5"/>
<line x1="277.41" y1="123.1" x2="277.41" y2="124.1" stroke="#888" stroke-width="0.5"/>
<line x1="269.7" y1="114.49" x2="270.7" y2="114.49" stroke="#999" stroke-width="0.5"/>
<line x1="279.16" y1="123.1" x2="279.16" y2="124.1" stroke="#888" stroke-width="0.5"/>
<line x1="269.7" y1="113.10" x2="270.7" y2="113.10" stroke="#999" stroke-width="0.5"/>
<line x1="280.53" y1="123.1" x2="280.53" y2="124.1" stroke="#888" stroke-width="0.5"/>
<line x1="269.7" y1="111.97" x2="270.7" y2="111.97" stroke="#999" stroke-width="0.5"/>
<line x1="281.64" y1="123.1" x2="281.64" y2="124.1" stroke="#888" stroke-width="0.5"/>
<line x1="269.7" y1="111.02" x2="270.7" y2="111.02" stroke="#999" stroke-width="0.5"/>
<line x1="282.58" y1="123.1" x2="282.58" y2="124.1" stroke="#888" stroke-width="0.5"/>
<line x1="269.7" y1="110.19" x2="270.7" y2="110.19" stroke="#999" stroke-width="0.5"/>
<line x1="283.40" y1="123.1" x2="283.40" y2="124.1" stroke="#888" stroke-width="0.5"/>
<line x1="269.7" y1="109.45" x2="270.7" y2="109.45" stroke="#999" stroke-width="0.5"/>
<line x1="284.12" y1="123.1" x2="284.12" y2="124.1" stroke="#888" stroke-width="0.5"/>
<line x1="268.9" y1="108.80" x2="270.7" y2="108.80" stroke="#222" stroke-width="1"/>
<line x1="284.76" y1="123.1" x2="284.76" y2="124.89999999999999" stroke="#333" stroke-width="0.9"/>
<line x1="269.7" y1="104.50" x2="270.7" y2="104.50" stroke="#999" stroke-width="0.5"/>
<line x1="288.99" y1="123.1" x2="288.99" y2="124.1" stroke="#888" stroke-width="0.5"/>
<line x1="269.7" y1="101.98" x2="270.7" y2="101.98" stroke="#999" stroke-width="0.5"/>
<line x1="291.47" y1="123.1" x2="291.47" y2="124.1" stroke="#888" stroke-width="0.5"/>
<line x1="269.7" y1="100.19" x2="270.7" y2="100.19" stroke="#999" stroke-width="0.5"/>
<line x1="293.22" y1="123.1" x2="293.22" y2="124.1" stroke="#888" stroke-width="0.5"/>
<line x1="269.7" y1="98.80" x2="270.7" y2="98.80" stroke="#999" stroke-width="0.5"/>
<line x1="294.59" y1="123.1" x2="294.59" y2="124.1" stroke="#888" stroke-width="0.5"/>
<line x1="269.7" y1="97.67" x2="270.7" y2="97.67" stroke="#999" stroke-width="0.5"/>
<line x1="295.70" y1="123.1" x2="295.70" y2="124.1" stroke="#888" stroke-width="0.5"/>
<line x1="269.7" y1="96.72" x2="270.7" y2="96.72" stroke="#999" stroke-width="0.5"/>
<line x1="296.64" y1="123.1" x2="296.64" y2="124.1" stroke="#888" stroke-width="0.5"/>
<line x1="269.7" y1="95.89" x2="270.7" y2="95.89" stroke="#999" stroke-width="0.5"/>
<line x1="297.46" y1="123.1" x2="297.46" y2="124.1" stroke="#888" stroke-width="0.5"/>
<line x1="269.7" y1="95.15" x2="270.7" y2="95.15" stroke="#999" stroke-width="0.5"/>
<line x1="298.18" y1="123.1" x2="298.18" y2="124.1" stroke="#888" stroke-width="0.5"/>
<line x1="268.9" y1="94.50" x2="270.7" y2="94.50" stroke="#222" stroke-width="1"/>
<line x1="298.82" y1="123.1" x2="298.82" y2="124.89999999999999" stroke="#333" stroke-width="0.9"/>
<line x1="269.7" y1="90.20" x2="270.7" y2="90.20" stroke="#999" stroke-width="0.5"/>
<line x1="303.05" y1="123.1" x2="303.05" y2="124.1" stroke="#888" stroke-width="0.5"/>
<line x1="269.7" y1="87.68" x2="270.7" y2="87.68" stroke="#999" stroke-width="0.5"/>
<line x1="305.53" y1="123.1" x2="305.53" y2="124.1" stroke="#888" stroke-width="0.5"/>
<line x1="269.7" y1="85.89" x2="270.7" y2="85.89" stroke="#999" stroke-width="0.5"/>
<line x1="307.28" y1="123.1" x2="307.28" y2="124.1" stroke="#888" stroke-width="0.5"/>
<line x1="269.7" y1="84.50" x2="270.7" y2="84.50" stroke="#999" stroke-width="0.5"/>
<line x1="308.65" y1="123.1" x2="308.65" y2="124.1" stroke="#888" stroke-width="0.5"/>
<line x1="269.7" y1="83.37" x2="270.7" y2="83.37" stroke="#999" stroke-width="0.5"/>
<line x1="309.76" y1="123.1" x2="309.76" y2="124.1" stroke="#888" stroke-width="0.5"/>
<line x1="269.7" y1="82.42" x2="270.7" y2="82.42" stroke="#999" stroke-width="0.5"/>
<line x1="310.70" y1="123.1" x2="310.70" y2="124.1" stroke="#888" stroke-width="0.5"/>
<line x1="269.7" y1="81.59" x2="270.7" y2="81.59" stroke="#999" stroke-width="0.5"/>
<line x1="311.52" y1="123.1" x2="311.52" y2="124.1" stroke="#888" stroke-width="0.5"/>
<line x1="269.7" y1="80.85" x2="270.7" y2="80.85" stroke="#999" stroke-width="0.5"/>
<line x1="312.24" y1="123.1" x2="312.24" y2="124.1" stroke="#888" stroke-width="0.5"/>
<line x1="268.9" y1="80.20" x2="270.7" y2="80.20" stroke="#222" stroke-width="1"/>
<line x1="312.88" y1="123.1" x2="312.88" y2="124.89999999999999" stroke="#333" stroke-width="0.9"/>
<line x1="269.7" y1="75.90" x2="270.7" y2="75.90" stroke="#999" stroke-width="0.5"/>
<line x1="317.11" y1="123.1" x2="317.11" y2="124.1" stroke="#888" stroke-width="0.5"/>
<line x1="269.7" y1="73.38" x2="270.7" y2="73.38" stroke="#999" stroke-width="0.5"/>
<line x1="319.59" y1="123.1" x2="319.59" y2="124.1" stroke="#888" stroke-width="0.5"/>
<line x1="269.7" y1="71.59" x2="270.7" y2="71.59" stroke="#999" stroke-width="0.5"/>
<line x1="321.34" y1="123.1" x2="321.34" y2="124.1" stroke="#888" stroke-width="0.5"/>
<line x1="269.7" y1="70.20" x2="270.7" y2="70.20" stroke="#999" stroke-width="0.5"/>
<line x1="322.71" y1="123.1" x2="322.71" y2="124.1" stroke="#888" stroke-width="0.5"/>
<line x1="269.7" y1="69.07" x2="270.7" y2="69.07" stroke="#999" stroke-width="0.5"/>
<line x1="323.82" y1="123.1" x2="323.82" y2="124.1" stroke="#888" stroke-width="0.5"/>
<line x1="269.7" y1="68.12" x2="270.7" y2="68.12" stroke="#999" stroke-width="0.5"/>
<line x1="324.76" y1="123.1" x2="324.76" y2="124.1" stroke="#888" stroke-width="0.5"/>
<line x1="269.7" y1="67.29" x2="270.7" y2="67.29" stroke="#999" stroke-width="0.5"/>
<line x1="325.58" y1="123.1" x2="325.58" y2="124.1" stroke="#888" stroke-width="0.5"/>
<line x1="269.7" y1="66.55" x2="270.7" y2="66.55" stroke="#999" stroke-width="0.5"/>
<line x1="326.30" y1="123.1" x2="326.30" y2="124.1" stroke="#888" stroke-width="0.5"/>
<line x1="268.9" y1="65.90" x2="270.7" y2="65.90" stroke="#222" stroke-width="1"/>
<line x1="326.94" y1="123.1" x2="326.94" y2="124.89999999999999" stroke="#333" stroke-width="0.9"/>
<line x1="269.7" y1="61.60" x2="270.7" y2="61.60" stroke="#999" stroke-width="0.5"/>
<line x1="331.17" y1="123.1" x2="331.17" y2="124.1" stroke="#888" stroke-width="0.5"/>
<line x1="269.7" y1="59.08" x2="270.7" y2="59.08" stroke="#999" stroke-width="0.5"/>
<line x1="333.65" y1="123.1" x2="333.65" y2="124.1" stroke="#888" stroke-width="0.5"/>
<line x1="269.7" y1="57.29" x2="270.7" y2="57.29" stroke="#999" stroke-width="0.5"/>
<line x1="335.40" y1="123.1" x2="335.40" y2="124.1" stroke="#888" stroke-width="0.5"/>
<line x1="269.7" y1="55.90" x2="270.7" y2="55.90" stroke="#999" stroke-width="0.5"/>
<line x1="336.77" y1="123.1" x2="336.77" y2="124.1" stroke="#888" stroke-width="0.5"/>
<line x1="269.7" y1="54.77" x2="270.7" y2="54.77" stroke="#999" stroke-width="0.5"/>
<line x1="337.88" y1="123.1" x2="337.88" y2="124.1" stroke="#888" stroke-width="0.5"/>
<line x1="269.7" y1="53.82" x2="270.7" y2="53.82" stroke="#999" stroke-width="0.5"/>
<line x1="338.82" y1="123.1" x2="338.82" y2="124.1" stroke="#888" stroke-width="0.5"/>
<line x1="269.7" y1="52.99" x2="270.7" y2="52.99" stroke="#999" stroke-width="0.5"/>
<line x1="339.64" y1="123.1" x2="339.64" y2="124.1" stroke="#888" stroke-width="0.5"/>
<line x1="269.7" y1="52.25" x2="270.7" y2="52.25" stroke="#999" stroke-width="0.5"/>
<line x1="340.36" y1="123.1" x2="340.36" y2="124.1" stroke="#888" stroke-width="0.5"/>
<line x1="268.9" y1="51.60" x2="270.7" y2="51.60" stroke="#222" stroke-width="1"/>
<line x1="341.00" y1="123.1" x2="341.00" y2="124.89999999999999" stroke="#333" stroke-width="0.9"/>
<text x="340.3" y="119.8" font-size="10.8" text-anchor="end" font-weight="normal" font-style="normal" fill="#b0242e" stroke="#b0242e" stroke-width="0.2">139,333</text>
<rect x="352.5" y="51.6" width="71.5" height="71.5" fill="#fff"/>
<line x1="366.80" y1="51.6" x2="366.80" y2="123.1" stroke="#e0e0e0" stroke-width="0.85"/>
<line x1="352.5" y1="65.90" x2="424.0" y2="65.90" stroke="#e0e0e0" stroke-width="0.85"/>
<line x1="381.10" y1="51.6" x2="381.10" y2="123.1" stroke="#e0e0e0" stroke-width="0.85"/>
<line x1="352.5" y1="80.20" x2="424.0" y2="80.20" stroke="#e0e0e0" stroke-width="0.85"/>
<line x1="395.40" y1="51.6" x2="395.40" y2="123.1" stroke="#e0e0e0" stroke-width="0.85"/>
<line x1="352.5" y1="94.50" x2="424.0" y2="94.50" stroke="#e0e0e0" stroke-width="0.85"/>
<line x1="409.70" y1="51.6" x2="409.70" y2="123.1" stroke="#e0e0e0" stroke-width="0.85"/>
<line x1="352.5" y1="108.80" x2="424.0" y2="108.80" stroke="#e0e0e0" stroke-width="0.85"/>
<polyline points="352.5,51.6 424.0,51.6 424.0,123.1" fill="none" stroke="#858585" stroke-width="1.05"/>
<line x1="352.5" y1="51.2" x2="352.5" y2="123.6" stroke="#2a2a2a" stroke-width="1"/>
<line x1="352.0" y1="123.1" x2="424.0" y2="123.1" stroke="#4a4a4a" stroke-width="0.9"/>
<line x1="350.7" y1="123.10" x2="352.5" y2="123.10" stroke="#222" stroke-width="1"/>
<line x1="352.50" y1="123.1" x2="352.50" y2="124.89999999999999" stroke="#333" stroke-width="0.9"/>
<line x1="351.5" y1="118.80" x2="352.5" y2="118.80" stroke="#999" stroke-width="0.5"/>
<line x1="356.80" y1="123.1" x2="356.80" y2="124.1" stroke="#888" stroke-width="0.5"/>
<line x1="351.5" y1="116.28" x2="352.5" y2="116.28" stroke="#999" stroke-width="0.5"/>
<line x1="359.32" y1="123.1" x2="359.32" y2="124.1" stroke="#888" stroke-width="0.5"/>
<line x1="351.5" y1="114.49" x2="352.5" y2="114.49" stroke="#999" stroke-width="0.5"/>
<line x1="361.11" y1="123.1" x2="361.11" y2="124.1" stroke="#888" stroke-width="0.5"/>
<line x1="351.5" y1="113.10" x2="352.5" y2="113.10" stroke="#999" stroke-width="0.5"/>
<line x1="362.50" y1="123.1" x2="362.50" y2="124.1" stroke="#888" stroke-width="0.5"/>
<line x1="351.5" y1="111.97" x2="352.5" y2="111.97" stroke="#999" stroke-width="0.5"/>
<line x1="363.63" y1="123.1" x2="363.63" y2="124.1" stroke="#888" stroke-width="0.5"/>
<line x1="351.5" y1="111.02" x2="352.5" y2="111.02" stroke="#999" stroke-width="0.5"/>
<line x1="364.58" y1="123.1" x2="364.58" y2="124.1" stroke="#888" stroke-width="0.5"/>
<line x1="351.5" y1="110.19" x2="352.5" y2="110.19" stroke="#999" stroke-width="0.5"/>
<line x1="365.41" y1="123.1" x2="365.41" y2="124.1" stroke="#888" stroke-width="0.5"/>
<line x1="351.5" y1="109.45" x2="352.5" y2="109.45" stroke="#999" stroke-width="0.5"/>
<line x1="366.15" y1="123.1" x2="366.15" y2="124.1" stroke="#888" stroke-width="0.5"/>
<line x1="350.7" y1="108.80" x2="352.5" y2="108.80" stroke="#222" stroke-width="1"/>
<line x1="366.80" y1="123.1" x2="366.80" y2="124.89999999999999" stroke="#333" stroke-width="0.9"/>
<line x1="351.5" y1="104.50" x2="352.5" y2="104.50" stroke="#999" stroke-width="0.5"/>
<line x1="371.10" y1="123.1" x2="371.10" y2="124.1" stroke="#888" stroke-width="0.5"/>
<line x1="351.5" y1="101.98" x2="352.5" y2="101.98" stroke="#999" stroke-width="0.5"/>
<line x1="373.62" y1="123.1" x2="373.62" y2="124.1" stroke="#888" stroke-width="0.5"/>
<line x1="351.5" y1="100.19" x2="352.5" y2="100.19" stroke="#999" stroke-width="0.5"/>
<line x1="375.41" y1="123.1" x2="375.41" y2="124.1" stroke="#888" stroke-width="0.5"/>
<line x1="351.5" y1="98.80" x2="352.5" y2="98.80" stroke="#999" stroke-width="0.5"/>
<line x1="376.80" y1="123.1" x2="376.80" y2="124.1" stroke="#888" stroke-width="0.5"/>
<line x1="351.5" y1="97.67" x2="352.5" y2="97.67" stroke="#999" stroke-width="0.5"/>
<line x1="377.93" y1="123.1" x2="377.93" y2="124.1" stroke="#888" stroke-width="0.5"/>
<line x1="351.5" y1="96.72" x2="352.5" y2="96.72" stroke="#999" stroke-width="0.5"/>
<line x1="378.88" y1="123.1" x2="378.88" y2="124.1" stroke="#888" stroke-width="0.5"/>
<line x1="351.5" y1="95.89" x2="352.5" y2="95.89" stroke="#999" stroke-width="0.5"/>
<line x1="379.71" y1="123.1" x2="379.71" y2="124.1" stroke="#888" stroke-width="0.5"/>
<line x1="351.5" y1="95.15" x2="352.5" y2="95.15" stroke="#999" stroke-width="0.5"/>
<line x1="380.45" y1="123.1" x2="380.45" y2="124.1" stroke="#888" stroke-width="0.5"/>
<line x1="350.7" y1="94.50" x2="352.5" y2="94.50" stroke="#222" stroke-width="1"/>
<line x1="381.10" y1="123.1" x2="381.10" y2="124.89999999999999" stroke="#333" stroke-width="0.9"/>
<line x1="351.5" y1="90.20" x2="352.5" y2="90.20" stroke="#999" stroke-width="0.5"/>
<line x1="385.40" y1="123.1" x2="385.40" y2="124.1" stroke="#888" stroke-width="0.5"/>
<line x1="351.5" y1="87.68" x2="352.5" y2="87.68" stroke="#999" stroke-width="0.5"/>
<line x1="387.92" y1="123.1" x2="387.92" y2="124.1" stroke="#888" stroke-width="0.5"/>
<line x1="351.5" y1="85.89" x2="352.5" y2="85.89" stroke="#999" stroke-width="0.5"/>
<line x1="389.71" y1="123.1" x2="389.71" y2="124.1" stroke="#888" stroke-width="0.5"/>
<line x1="351.5" y1="84.50" x2="352.5" y2="84.50" stroke="#999" stroke-width="0.5"/>
<line x1="391.10" y1="123.1" x2="391.10" y2="124.1" stroke="#888" stroke-width="0.5"/>
<line x1="351.5" y1="83.37" x2="352.5" y2="83.37" stroke="#999" stroke-width="0.5"/>
<line x1="392.23" y1="123.1" x2="392.23" y2="124.1" stroke="#888" stroke-width="0.5"/>
<line x1="351.5" y1="82.42" x2="352.5" y2="82.42" stroke="#999" stroke-width="0.5"/>
<line x1="393.18" y1="123.1" x2="393.18" y2="124.1" stroke="#888" stroke-width="0.5"/>
<line x1="351.5" y1="81.59" x2="352.5" y2="81.59" stroke="#999" stroke-width="0.5"/>
<line x1="394.01" y1="123.1" x2="394.01" y2="124.1" stroke="#888" stroke-width="0.5"/>
<line x1="351.5" y1="80.85" x2="352.5" y2="80.85" stroke="#999" stroke-width="0.5"/>
<line x1="394.75" y1="123.1" x2="394.75" y2="124.1" stroke="#888" stroke-width="0.5"/>
<line x1="350.7" y1="80.20" x2="352.5" y2="80.20" stroke="#222" stroke-width="1"/>
<line x1="395.40" y1="123.1" x2="395.40" y2="124.89999999999999" stroke="#333" stroke-width="0.9"/>
<line x1="351.5" y1="75.90" x2="352.5" y2="75.90" stroke="#999" stroke-width="0.5"/>
<line x1="399.70" y1="123.1" x2="399.70" y2="124.1" stroke="#888" stroke-width="0.5"/>
<line x1="351.5" y1="73.38" x2="352.5" y2="73.38" stroke="#999" stroke-width="0.5"/>
<line x1="402.22" y1="123.1" x2="402.22" y2="124.1" stroke="#888" stroke-width="0.5"/>
<line x1="351.5" y1="71.59" x2="352.5" y2="71.59" stroke="#999" stroke-width="0.5"/>
<line x1="404.01" y1="123.1" x2="404.01" y2="124.1" stroke="#888" stroke-width="0.5"/>
<line x1="351.5" y1="70.20" x2="352.5" y2="70.20" stroke="#999" stroke-width="0.5"/>
<line x1="405.40" y1="123.1" x2="405.40" y2="124.1" stroke="#888" stroke-width="0.5"/>
<line x1="351.5" y1="69.07" x2="352.5" y2="69.07" stroke="#999" stroke-width="0.5"/>
<line x1="406.53" y1="123.1" x2="406.53" y2="124.1" stroke="#888" stroke-width="0.5"/>
<line x1="351.5" y1="68.12" x2="352.5" y2="68.12" stroke="#999" stroke-width="0.5"/>
<line x1="407.48" y1="123.1" x2="407.48" y2="124.1" stroke="#888" stroke-width="0.5"/>
<line x1="351.5" y1="67.29" x2="352.5" y2="67.29" stroke="#999" stroke-width="0.5"/>
<line x1="408.31" y1="123.1" x2="408.31" y2="124.1" stroke="#888" stroke-width="0.5"/>
<line x1="351.5" y1="66.55" x2="352.5" y2="66.55" stroke="#999" stroke-width="0.5"/>
<line x1="409.05" y1="123.1" x2="409.05" y2="124.1" stroke="#888" stroke-width="0.5"/>
<line x1="350.7" y1="65.90" x2="352.5" y2="65.90" stroke="#222" stroke-width="1"/>
<line x1="409.70" y1="123.1" x2="409.70" y2="124.89999999999999" stroke="#333" stroke-width="0.9"/>
<line x1="351.5" y1="61.60" x2="352.5" y2="61.60" stroke="#999" stroke-width="0.5"/>
<line x1="414.00" y1="123.1" x2="414.00" y2="124.1" stroke="#888" stroke-width="0.5"/>
<line x1="351.5" y1="59.08" x2="352.5" y2="59.08" stroke="#999" stroke-width="0.5"/>
<line x1="416.52" y1="123.1" x2="416.52" y2="124.1" stroke="#888" stroke-width="0.5"/>
<line x1="351.5" y1="57.29" x2="352.5" y2="57.29" stroke="#999" stroke-width="0.5"/>
<line x1="418.31" y1="123.1" x2="418.31" y2="124.1" stroke="#888" stroke-width="0.5"/>
<line x1="351.5" y1="55.90" x2="352.5" y2="55.90" stroke="#999" stroke-width="0.5"/>
<line x1="419.70" y1="123.1" x2="419.70" y2="124.1" stroke="#888" stroke-width="0.5"/>
<line x1="351.5" y1="54.77" x2="352.5" y2="54.77" stroke="#999" stroke-width="0.5"/>
<line x1="420.83" y1="123.1" x2="420.83" y2="124.1" stroke="#888" stroke-width="0.5"/>
<line x1="351.5" y1="53.82" x2="352.5" y2="53.82" stroke="#999" stroke-width="0.5"/>
<line x1="421.78" y1="123.1" x2="421.78" y2="124.1" stroke="#888" stroke-width="0.5"/>
<line x1="351.5" y1="52.99" x2="352.5" y2="52.99" stroke="#999" stroke-width="0.5"/>
<line x1="422.61" y1="123.1" x2="422.61" y2="124.1" stroke="#888" stroke-width="0.5"/>
<line x1="351.5" y1="52.25" x2="352.5" y2="52.25" stroke="#999" stroke-width="0.5"/>
<line x1="423.35" y1="123.1" x2="423.35" y2="124.1" stroke="#888" stroke-width="0.5"/>
<line x1="350.7" y1="51.60" x2="352.5" y2="51.60" stroke="#222" stroke-width="1"/>
<line x1="424.00" y1="123.1" x2="424.00" y2="124.89999999999999" stroke="#333" stroke-width="0.9"/>
<text x="421.1" y="119.8" font-size="10.8" text-anchor="end" font-weight="normal" font-style="normal" fill="#b0242e" stroke="#b0242e" stroke-width="0.2">21,489</text>
<rect x="435.7" y="51.6" width="70.69999999999999" height="71.5" fill="#fff"/>
<line x1="449.84" y1="51.6" x2="449.84" y2="123.1" stroke="#e0e0e0" stroke-width="0.85"/>
<line x1="435.7" y1="65.90" x2="506.4" y2="65.90" stroke="#e0e0e0" stroke-width="0.85"/>
<line x1="463.98" y1="51.6" x2="463.98" y2="123.1" stroke="#e0e0e0" stroke-width="0.85"/>
<line x1="435.7" y1="80.20" x2="506.4" y2="80.20" stroke="#e0e0e0" stroke-width="0.85"/>
<line x1="478.12" y1="51.6" x2="478.12" y2="123.1" stroke="#e0e0e0" stroke-width="0.85"/>
<line x1="435.7" y1="94.50" x2="506.4" y2="94.50" stroke="#e0e0e0" stroke-width="0.85"/>
<line x1="492.26" y1="51.6" x2="492.26" y2="123.1" stroke="#e0e0e0" stroke-width="0.85"/>
<line x1="435.7" y1="108.80" x2="506.4" y2="108.80" stroke="#e0e0e0" stroke-width="0.85"/>
<polyline points="435.7,51.6 506.4,51.6 506.4,123.1" fill="none" stroke="#858585" stroke-width="1.05"/>
<line x1="435.7" y1="51.2" x2="435.7" y2="123.6" stroke="#2a2a2a" stroke-width="1"/>
<line x1="435.2" y1="123.1" x2="506.4" y2="123.1" stroke="#4a4a4a" stroke-width="0.9"/>
<line x1="433.9" y1="123.10" x2="435.7" y2="123.10" stroke="#222" stroke-width="1"/>
<line x1="435.70" y1="123.1" x2="435.70" y2="124.89999999999999" stroke="#333" stroke-width="0.9"/>
<line x1="434.7" y1="118.80" x2="435.7" y2="118.80" stroke="#999" stroke-width="0.5"/>
<line x1="439.96" y1="123.1" x2="439.96" y2="124.1" stroke="#888" stroke-width="0.5"/>
<line x1="434.7" y1="116.28" x2="435.7" y2="116.28" stroke="#999" stroke-width="0.5"/>
<line x1="442.45" y1="123.1" x2="442.45" y2="124.1" stroke="#888" stroke-width="0.5"/>
<line x1="434.7" y1="114.49" x2="435.7" y2="114.49" stroke="#999" stroke-width="0.5"/>
<line x1="444.21" y1="123.1" x2="444.21" y2="124.1" stroke="#888" stroke-width="0.5"/>
<line x1="434.7" y1="113.10" x2="435.7" y2="113.10" stroke="#999" stroke-width="0.5"/>
<line x1="445.58" y1="123.1" x2="445.58" y2="124.1" stroke="#888" stroke-width="0.5"/>
<line x1="434.7" y1="111.97" x2="435.7" y2="111.97" stroke="#999" stroke-width="0.5"/>
<line x1="446.70" y1="123.1" x2="446.70" y2="124.1" stroke="#888" stroke-width="0.5"/>
<line x1="434.7" y1="111.02" x2="435.7" y2="111.02" stroke="#999" stroke-width="0.5"/>
<line x1="447.65" y1="123.1" x2="447.65" y2="124.1" stroke="#888" stroke-width="0.5"/>
<line x1="434.7" y1="110.19" x2="435.7" y2="110.19" stroke="#999" stroke-width="0.5"/>
<line x1="448.47" y1="123.1" x2="448.47" y2="124.1" stroke="#888" stroke-width="0.5"/>
<line x1="434.7" y1="109.45" x2="435.7" y2="109.45" stroke="#999" stroke-width="0.5"/>
<line x1="449.19" y1="123.1" x2="449.19" y2="124.1" stroke="#888" stroke-width="0.5"/>
<line x1="433.9" y1="108.80" x2="435.7" y2="108.80" stroke="#222" stroke-width="1"/>
<line x1="449.84" y1="123.1" x2="449.84" y2="124.89999999999999" stroke="#333" stroke-width="0.9"/>
<line x1="434.7" y1="104.50" x2="435.7" y2="104.50" stroke="#999" stroke-width="0.5"/>
<line x1="454.10" y1="123.1" x2="454.10" y2="124.1" stroke="#888" stroke-width="0.5"/>
<line x1="434.7" y1="101.98" x2="435.7" y2="101.98" stroke="#999" stroke-width="0.5"/>
<line x1="456.59" y1="123.1" x2="456.59" y2="124.1" stroke="#888" stroke-width="0.5"/>
<line x1="434.7" y1="100.19" x2="435.7" y2="100.19" stroke="#999" stroke-width="0.5"/>
<line x1="458.35" y1="123.1" x2="458.35" y2="124.1" stroke="#888" stroke-width="0.5"/>
<line x1="434.7" y1="98.80" x2="435.7" y2="98.80" stroke="#999" stroke-width="0.5"/>
<line x1="459.72" y1="123.1" x2="459.72" y2="124.1" stroke="#888" stroke-width="0.5"/>
<line x1="434.7" y1="97.67" x2="435.7" y2="97.67" stroke="#999" stroke-width="0.5"/>
<line x1="460.84" y1="123.1" x2="460.84" y2="124.1" stroke="#888" stroke-width="0.5"/>
<line x1="434.7" y1="96.72" x2="435.7" y2="96.72" stroke="#999" stroke-width="0.5"/>
<line x1="461.79" y1="123.1" x2="461.79" y2="124.1" stroke="#888" stroke-width="0.5"/>
<line x1="434.7" y1="95.89" x2="435.7" y2="95.89" stroke="#999" stroke-width="0.5"/>
<line x1="462.61" y1="123.1" x2="462.61" y2="124.1" stroke="#888" stroke-width="0.5"/>
<line x1="434.7" y1="95.15" x2="435.7" y2="95.15" stroke="#999" stroke-width="0.5"/>
<line x1="463.33" y1="123.1" x2="463.33" y2="124.1" stroke="#888" stroke-width="0.5"/>
<line x1="433.9" y1="94.50" x2="435.7" y2="94.50" stroke="#222" stroke-width="1"/>
<line x1="463.98" y1="123.1" x2="463.98" y2="124.89999999999999" stroke="#333" stroke-width="0.9"/>
<line x1="434.7" y1="90.20" x2="435.7" y2="90.20" stroke="#999" stroke-width="0.5"/>
<line x1="468.24" y1="123.1" x2="468.24" y2="124.1" stroke="#888" stroke-width="0.5"/>
<line x1="434.7" y1="87.68" x2="435.7" y2="87.68" stroke="#999" stroke-width="0.5"/>
<line x1="470.73" y1="123.1" x2="470.73" y2="124.1" stroke="#888" stroke-width="0.5"/>
<line x1="434.7" y1="85.89" x2="435.7" y2="85.89" stroke="#999" stroke-width="0.5"/>
<line x1="472.49" y1="123.1" x2="472.49" y2="124.1" stroke="#888" stroke-width="0.5"/>
<line x1="434.7" y1="84.50" x2="435.7" y2="84.50" stroke="#999" stroke-width="0.5"/>
<line x1="473.86" y1="123.1" x2="473.86" y2="124.1" stroke="#888" stroke-width="0.5"/>
<line x1="434.7" y1="83.37" x2="435.7" y2="83.37" stroke="#999" stroke-width="0.5"/>
<line x1="474.98" y1="123.1" x2="474.98" y2="124.1" stroke="#888" stroke-width="0.5"/>
<line x1="434.7" y1="82.42" x2="435.7" y2="82.42" stroke="#999" stroke-width="0.5"/>
<line x1="475.93" y1="123.1" x2="475.93" y2="124.1" stroke="#888" stroke-width="0.5"/>
<line x1="434.7" y1="81.59" x2="435.7" y2="81.59" stroke="#999" stroke-width="0.5"/>
<line x1="476.75" y1="123.1" x2="476.75" y2="124.1" stroke="#888" stroke-width="0.5"/>
<line x1="434.7" y1="80.85" x2="435.7" y2="80.85" stroke="#999" stroke-width="0.5"/>
<line x1="477.47" y1="123.1" x2="477.47" y2="124.1" stroke="#888" stroke-width="0.5"/>
<line x1="433.9" y1="80.20" x2="435.7" y2="80.20" stroke="#222" stroke-width="1"/>
<line x1="478.12" y1="123.1" x2="478.12" y2="124.89999999999999" stroke="#333" stroke-width="0.9"/>
<line x1="434.7" y1="75.90" x2="435.7" y2="75.90" stroke="#999" stroke-width="0.5"/>
<line x1="482.38" y1="123.1" x2="482.38" y2="124.1" stroke="#888" stroke-width="0.5"/>
<line x1="434.7" y1="73.38" x2="435.7" y2="73.38" stroke="#999" stroke-width="0.5"/>
<line x1="484.87" y1="123.1" x2="484.87" y2="124.1" stroke="#888" stroke-width="0.5"/>
<line x1="434.7" y1="71.59" x2="435.7" y2="71.59" stroke="#999" stroke-width="0.5"/>
<line x1="486.63" y1="123.1" x2="486.63" y2="124.1" stroke="#888" stroke-width="0.5"/>
<line x1="434.7" y1="70.20" x2="435.7" y2="70.20" stroke="#999" stroke-width="0.5"/>
<line x1="488.00" y1="123.1" x2="488.00" y2="124.1" stroke="#888" stroke-width="0.5"/>
<line x1="434.7" y1="69.07" x2="435.7" y2="69.07" stroke="#999" stroke-width="0.5"/>
<line x1="489.12" y1="123.1" x2="489.12" y2="124.1" stroke="#888" stroke-width="0.5"/>
<line x1="434.7" y1="68.12" x2="435.7" y2="68.12" stroke="#999" stroke-width="0.5"/>
<line x1="490.07" y1="123.1" x2="490.07" y2="124.1" stroke="#888" stroke-width="0.5"/>
<line x1="434.7" y1="67.29" x2="435.7" y2="67.29" stroke="#999" stroke-width="0.5"/>
<line x1="490.89" y1="123.1" x2="490.89" y2="124.1" stroke="#888" stroke-width="0.5"/>
<line x1="434.7" y1="66.55" x2="435.7" y2="66.55" stroke="#999" stroke-width="0.5"/>
<line x1="491.61" y1="123.1" x2="491.61" y2="124.1" stroke="#888" stroke-width="0.5"/>
<line x1="433.9" y1="65.90" x2="435.7" y2="65.90" stroke="#222" stroke-width="1"/>
<line x1="492.26" y1="123.1" x2="492.26" y2="124.89999999999999" stroke="#333" stroke-width="0.9"/>
<line x1="434.7" y1="61.60" x2="435.7" y2="61.60" stroke="#999" stroke-width="0.5"/>
<line x1="496.52" y1="123.1" x2="496.52" y2="124.1" stroke="#888" stroke-width="0.5"/>
<line x1="434.7" y1="59.08" x2="435.7" y2="59.08" stroke="#999" stroke-width="0.5"/>
<line x1="499.01" y1="123.1" x2="499.01" y2="124.1" stroke="#888" stroke-width="0.5"/>
<line x1="434.7" y1="57.29" x2="435.7" y2="57.29" stroke="#999" stroke-width="0.5"/>
<line x1="500.77" y1="123.1" x2="500.77" y2="124.1" stroke="#888" stroke-width="0.5"/>
<line x1="434.7" y1="55.90" x2="435.7" y2="55.90" stroke="#999" stroke-width="0.5"/>
<line x1="502.14" y1="123.1" x2="502.14" y2="124.1" stroke="#888" stroke-width="0.5"/>
<line x1="434.7" y1="54.77" x2="435.7" y2="54.77" stroke="#999" stroke-width="0.5"/>
<line x1="503.26" y1="123.1" x2="503.26" y2="124.1" stroke="#888" stroke-width="0.5"/>
<line x1="434.7" y1="53.82" x2="435.7" y2="53.82" stroke="#999" stroke-width="0.5"/>
<line x1="504.21" y1="123.1" x2="504.21" y2="124.1" stroke="#888" stroke-width="0.5"/>
<line x1="434.7" y1="52.99" x2="435.7" y2="52.99" stroke="#999" stroke-width="0.5"/>
<line x1="505.03" y1="123.1" x2="505.03" y2="124.1" stroke="#888" stroke-width="0.5"/>
<line x1="434.7" y1="52.25" x2="435.7" y2="52.25" stroke="#999" stroke-width="0.5"/>
<line x1="505.75" y1="123.1" x2="505.75" y2="124.1" stroke="#888" stroke-width="0.5"/>
<line x1="433.9" y1="51.60" x2="435.7" y2="51.60" stroke="#222" stroke-width="1"/>
<line x1="506.40" y1="123.1" x2="506.40" y2="124.89999999999999" stroke="#333" stroke-width="0.9"/>
<text x="503.4" y="119.8" font-size="10.8" text-anchor="end" font-weight="normal" font-style="normal" fill="#b0242e" stroke="#b0242e" stroke-width="0.2">34,067</text>
<rect x="517.5" y="51.6" width="71.39999999999998" height="71.5" fill="#fff"/>
<line x1="531.78" y1="51.6" x2="531.78" y2="123.1" stroke="#e0e0e0" stroke-width="0.85"/>
<line x1="517.5" y1="65.90" x2="588.9" y2="65.90" stroke="#e0e0e0" stroke-width="0.85"/>
<line x1="546.06" y1="51.6" x2="546.06" y2="123.1" stroke="#e0e0e0" stroke-width="0.85"/>
<line x1="517.5" y1="80.20" x2="588.9" y2="80.20" stroke="#e0e0e0" stroke-width="0.85"/>
<line x1="560.34" y1="51.6" x2="560.34" y2="123.1" stroke="#e0e0e0" stroke-width="0.85"/>
<line x1="517.5" y1="94.50" x2="588.9" y2="94.50" stroke="#e0e0e0" stroke-width="0.85"/>
<line x1="574.62" y1="51.6" x2="574.62" y2="123.1" stroke="#e0e0e0" stroke-width="0.85"/>
<line x1="517.5" y1="108.80" x2="588.9" y2="108.80" stroke="#e0e0e0" stroke-width="0.85"/>
<polyline points="517.5,51.6 588.9,51.6 588.9,123.1" fill="none" stroke="#858585" stroke-width="1.05"/>
<line x1="517.5" y1="51.2" x2="517.5" y2="123.6" stroke="#2a2a2a" stroke-width="1"/>
<line x1="517.0" y1="123.1" x2="588.9" y2="123.1" stroke="#4a4a4a" stroke-width="0.9"/>
<line x1="515.7" y1="123.10" x2="517.5" y2="123.10" stroke="#222" stroke-width="1"/>
<line x1="517.50" y1="123.1" x2="517.50" y2="124.89999999999999" stroke="#333" stroke-width="0.9"/>
<line x1="516.5" y1="118.80" x2="517.5" y2="118.80" stroke="#999" stroke-width="0.5"/>
<line x1="521.80" y1="123.1" x2="521.80" y2="124.1" stroke="#888" stroke-width="0.5"/>
<line x1="516.5" y1="116.28" x2="517.5" y2="116.28" stroke="#999" stroke-width="0.5"/>
<line x1="524.31" y1="123.1" x2="524.31" y2="124.1" stroke="#888" stroke-width="0.5"/>
<line x1="516.5" y1="114.49" x2="517.5" y2="114.49" stroke="#999" stroke-width="0.5"/>
<line x1="526.10" y1="123.1" x2="526.10" y2="124.1" stroke="#888" stroke-width="0.5"/>
<line x1="516.5" y1="113.10" x2="517.5" y2="113.10" stroke="#999" stroke-width="0.5"/>
<line x1="527.48" y1="123.1" x2="527.48" y2="124.1" stroke="#888" stroke-width="0.5"/>
<line x1="516.5" y1="111.97" x2="517.5" y2="111.97" stroke="#999" stroke-width="0.5"/>
<line x1="528.61" y1="123.1" x2="528.61" y2="124.1" stroke="#888" stroke-width="0.5"/>
<line x1="516.5" y1="111.02" x2="517.5" y2="111.02" stroke="#999" stroke-width="0.5"/>
<line x1="529.57" y1="123.1" x2="529.57" y2="124.1" stroke="#888" stroke-width="0.5"/>
<line x1="516.5" y1="110.19" x2="517.5" y2="110.19" stroke="#999" stroke-width="0.5"/>
<line x1="530.40" y1="123.1" x2="530.40" y2="124.1" stroke="#888" stroke-width="0.5"/>
<line x1="516.5" y1="109.45" x2="517.5" y2="109.45" stroke="#999" stroke-width="0.5"/>
<line x1="531.13" y1="123.1" x2="531.13" y2="124.1" stroke="#888" stroke-width="0.5"/>
<line x1="515.7" y1="108.80" x2="517.5" y2="108.80" stroke="#222" stroke-width="1"/>
<line x1="531.78" y1="123.1" x2="531.78" y2="124.89999999999999" stroke="#333" stroke-width="0.9"/>
<line x1="516.5" y1="104.50" x2="517.5" y2="104.50" stroke="#999" stroke-width="0.5"/>
<line x1="536.08" y1="123.1" x2="536.08" y2="124.1" stroke="#888" stroke-width="0.5"/>
<line x1="516.5" y1="101.98" x2="517.5" y2="101.98" stroke="#999" stroke-width="0.5"/>
<line x1="538.59" y1="123.1" x2="538.59" y2="124.1" stroke="#888" stroke-width="0.5"/>
<line x1="516.5" y1="100.19" x2="517.5" y2="100.19" stroke="#999" stroke-width="0.5"/>
<line x1="540.38" y1="123.1" x2="540.38" y2="124.1" stroke="#888" stroke-width="0.5"/>
<line x1="516.5" y1="98.80" x2="517.5" y2="98.80" stroke="#999" stroke-width="0.5"/>
<line x1="541.76" y1="123.1" x2="541.76" y2="124.1" stroke="#888" stroke-width="0.5"/>
<line x1="516.5" y1="97.67" x2="517.5" y2="97.67" stroke="#999" stroke-width="0.5"/>
<line x1="542.89" y1="123.1" x2="542.89" y2="124.1" stroke="#888" stroke-width="0.5"/>
<line x1="516.5" y1="96.72" x2="517.5" y2="96.72" stroke="#999" stroke-width="0.5"/>
<line x1="543.85" y1="123.1" x2="543.85" y2="124.1" stroke="#888" stroke-width="0.5"/>
<line x1="516.5" y1="95.89" x2="517.5" y2="95.89" stroke="#999" stroke-width="0.5"/>
<line x1="544.68" y1="123.1" x2="544.68" y2="124.1" stroke="#888" stroke-width="0.5"/>
<line x1="516.5" y1="95.15" x2="517.5" y2="95.15" stroke="#999" stroke-width="0.5"/>
<line x1="545.41" y1="123.1" x2="545.41" y2="124.1" stroke="#888" stroke-width="0.5"/>
<line x1="515.7" y1="94.50" x2="517.5" y2="94.50" stroke="#222" stroke-width="1"/>
<line x1="546.06" y1="123.1" x2="546.06" y2="124.89999999999999" stroke="#333" stroke-width="0.9"/>
<line x1="516.5" y1="90.20" x2="517.5" y2="90.20" stroke="#999" stroke-width="0.5"/>
<line x1="550.36" y1="123.1" x2="550.36" y2="124.1" stroke="#888" stroke-width="0.5"/>
<line x1="516.5" y1="87.68" x2="517.5" y2="87.68" stroke="#999" stroke-width="0.5"/>
<line x1="552.87" y1="123.1" x2="552.87" y2="124.1" stroke="#888" stroke-width="0.5"/>
<line x1="516.5" y1="85.89" x2="517.5" y2="85.89" stroke="#999" stroke-width="0.5"/>
<line x1="554.66" y1="123.1" x2="554.66" y2="124.1" stroke="#888" stroke-width="0.5"/>
<line x1="516.5" y1="84.50" x2="517.5" y2="84.50" stroke="#999" stroke-width="0.5"/>
<line x1="556.04" y1="123.1" x2="556.04" y2="124.1" stroke="#888" stroke-width="0.5"/>
<line x1="516.5" y1="83.37" x2="517.5" y2="83.37" stroke="#999" stroke-width="0.5"/>
<line x1="557.17" y1="123.1" x2="557.17" y2="124.1" stroke="#888" stroke-width="0.5"/>
<line x1="516.5" y1="82.42" x2="517.5" y2="82.42" stroke="#999" stroke-width="0.5"/>
<line x1="558.13" y1="123.1" x2="558.13" y2="124.1" stroke="#888" stroke-width="0.5"/>
<line x1="516.5" y1="81.59" x2="517.5" y2="81.59" stroke="#999" stroke-width="0.5"/>
<line x1="558.96" y1="123.1" x2="558.96" y2="124.1" stroke="#888" stroke-width="0.5"/>
<line x1="516.5" y1="80.85" x2="517.5" y2="80.85" stroke="#999" stroke-width="0.5"/>
<line x1="559.69" y1="123.1" x2="559.69" y2="124.1" stroke="#888" stroke-width="0.5"/>
<line x1="515.7" y1="80.20" x2="517.5" y2="80.20" stroke="#222" stroke-width="1"/>
<line x1="560.34" y1="123.1" x2="560.34" y2="124.89999999999999" stroke="#333" stroke-width="0.9"/>
<line x1="516.5" y1="75.90" x2="517.5" y2="75.90" stroke="#999" stroke-width="0.5"/>
<line x1="564.64" y1="123.1" x2="564.64" y2="124.1" stroke="#888" stroke-width="0.5"/>
<line x1="516.5" y1="73.38" x2="517.5" y2="73.38" stroke="#999" stroke-width="0.5"/>
<line x1="567.15" y1="123.1" x2="567.15" y2="124.1" stroke="#888" stroke-width="0.5"/>
<line x1="516.5" y1="71.59" x2="517.5" y2="71.59" stroke="#999" stroke-width="0.5"/>
<line x1="568.94" y1="123.1" x2="568.94" y2="124.1" stroke="#888" stroke-width="0.5"/>
<line x1="516.5" y1="70.20" x2="517.5" y2="70.20" stroke="#999" stroke-width="0.5"/>
<line x1="570.32" y1="123.1" x2="570.32" y2="124.1" stroke="#888" stroke-width="0.5"/>
<line x1="516.5" y1="69.07" x2="517.5" y2="69.07" stroke="#999" stroke-width="0.5"/>
<line x1="571.45" y1="123.1" x2="571.45" y2="124.1" stroke="#888" stroke-width="0.5"/>
<line x1="516.5" y1="68.12" x2="517.5" y2="68.12" stroke="#999" stroke-width="0.5"/>
<line x1="572.41" y1="123.1" x2="572.41" y2="124.1" stroke="#888" stroke-width="0.5"/>
<line x1="516.5" y1="67.29" x2="517.5" y2="67.29" stroke="#999" stroke-width="0.5"/>
<line x1="573.24" y1="123.1" x2="573.24" y2="124.1" stroke="#888" stroke-width="0.5"/>
<line x1="516.5" y1="66.55" x2="517.5" y2="66.55" stroke="#999" stroke-width="0.5"/>
<line x1="573.97" y1="123.1" x2="573.97" y2="124.1" stroke="#888" stroke-width="0.5"/>
<line x1="515.7" y1="65.90" x2="517.5" y2="65.90" stroke="#222" stroke-width="1"/>
<line x1="574.62" y1="123.1" x2="574.62" y2="124.89999999999999" stroke="#333" stroke-width="0.9"/>
<line x1="516.5" y1="61.60" x2="517.5" y2="61.60" stroke="#999" stroke-width="0.5"/>
<line x1="578.92" y1="123.1" x2="578.92" y2="124.1" stroke="#888" stroke-width="0.5"/>
<line x1="516.5" y1="59.08" x2="517.5" y2="59.08" stroke="#999" stroke-width="0.5"/>
<line x1="581.43" y1="123.1" x2="581.43" y2="124.1" stroke="#888" stroke-width="0.5"/>
<line x1="516.5" y1="57.29" x2="517.5" y2="57.29" stroke="#999" stroke-width="0.5"/>
<line x1="583.22" y1="123.1" x2="583.22" y2="124.1" stroke="#888" stroke-width="0.5"/>
<line x1="516.5" y1="55.90" x2="517.5" y2="55.90" stroke="#999" stroke-width="0.5"/>
<line x1="584.60" y1="123.1" x2="584.60" y2="124.1" stroke="#888" stroke-width="0.5"/>
<line x1="516.5" y1="54.77" x2="517.5" y2="54.77" stroke="#999" stroke-width="0.5"/>
<line x1="585.73" y1="123.1" x2="585.73" y2="124.1" stroke="#888" stroke-width="0.5"/>
<line x1="516.5" y1="53.82" x2="517.5" y2="53.82" stroke="#999" stroke-width="0.5"/>
<line x1="586.69" y1="123.1" x2="586.69" y2="124.1" stroke="#888" stroke-width="0.5"/>
<line x1="516.5" y1="52.99" x2="517.5" y2="52.99" stroke="#999" stroke-width="0.5"/>
<line x1="587.52" y1="123.1" x2="587.52" y2="124.1" stroke="#888" stroke-width="0.5"/>
<line x1="516.5" y1="52.25" x2="517.5" y2="52.25" stroke="#999" stroke-width="0.5"/>
<line x1="588.25" y1="123.1" x2="588.25" y2="124.1" stroke="#888" stroke-width="0.5"/>
<line x1="515.7" y1="51.60" x2="517.5" y2="51.60" stroke="#222" stroke-width="1"/>
<line x1="588.90" y1="123.1" x2="588.90" y2="124.89999999999999" stroke="#333" stroke-width="0.9"/>
<text x="586.7" y="119.8" font-size="10.8" text-anchor="end" font-weight="normal" font-style="normal" fill="#b0242e" stroke="#b0242e" stroke-width="0.2">9,998</text>
<rect x="601.3" y="51.6" width="69.90000000000009" height="71.5" fill="#fff"/>
<line x1="615.28" y1="51.6" x2="615.28" y2="123.1" stroke="#e0e0e0" stroke-width="0.85"/>
<line x1="601.3" y1="65.90" x2="671.2" y2="65.90" stroke="#e0e0e0" stroke-width="0.85"/>
<line x1="629.26" y1="51.6" x2="629.26" y2="123.1" stroke="#e0e0e0" stroke-width="0.85"/>
<line x1="601.3" y1="80.20" x2="671.2" y2="80.20" stroke="#e0e0e0" stroke-width="0.85"/>
<line x1="643.24" y1="51.6" x2="643.24" y2="123.1" stroke="#e0e0e0" stroke-width="0.85"/>
<line x1="601.3" y1="94.50" x2="671.2" y2="94.50" stroke="#e0e0e0" stroke-width="0.85"/>
<line x1="657.22" y1="51.6" x2="657.22" y2="123.1" stroke="#e0e0e0" stroke-width="0.85"/>
<line x1="601.3" y1="108.80" x2="671.2" y2="108.80" stroke="#e0e0e0" stroke-width="0.85"/>
<polyline points="601.3,51.6 671.2,51.6 671.2,123.1" fill="none" stroke="#858585" stroke-width="1.05"/>
<line x1="601.3" y1="51.2" x2="601.3" y2="123.6" stroke="#2a2a2a" stroke-width="1"/>
<line x1="600.8" y1="123.1" x2="671.2" y2="123.1" stroke="#4a4a4a" stroke-width="0.9"/>
<line x1="599.5" y1="123.10" x2="601.3" y2="123.10" stroke="#222" stroke-width="1"/>
<line x1="601.30" y1="123.1" x2="601.30" y2="124.89999999999999" stroke="#333" stroke-width="0.9"/>
<line x1="600.3" y1="118.80" x2="601.3" y2="118.80" stroke="#999" stroke-width="0.5"/>
<line x1="605.51" y1="123.1" x2="605.51" y2="124.1" stroke="#888" stroke-width="0.5"/>
<line x1="600.3" y1="116.28" x2="601.3" y2="116.28" stroke="#999" stroke-width="0.5"/>
<line x1="607.97" y1="123.1" x2="607.97" y2="124.1" stroke="#888" stroke-width="0.5"/>
<line x1="600.3" y1="114.49" x2="601.3" y2="114.49" stroke="#999" stroke-width="0.5"/>
<line x1="609.72" y1="123.1" x2="609.72" y2="124.1" stroke="#888" stroke-width="0.5"/>
<line x1="600.3" y1="113.10" x2="601.3" y2="113.10" stroke="#999" stroke-width="0.5"/>
<line x1="611.07" y1="123.1" x2="611.07" y2="124.1" stroke="#888" stroke-width="0.5"/>
<line x1="600.3" y1="111.97" x2="601.3" y2="111.97" stroke="#999" stroke-width="0.5"/>
<line x1="612.18" y1="123.1" x2="612.18" y2="124.1" stroke="#888" stroke-width="0.5"/>
<line x1="600.3" y1="111.02" x2="601.3" y2="111.02" stroke="#999" stroke-width="0.5"/>
<line x1="613.11" y1="123.1" x2="613.11" y2="124.1" stroke="#888" stroke-width="0.5"/>
<line x1="600.3" y1="110.19" x2="601.3" y2="110.19" stroke="#999" stroke-width="0.5"/>
<line x1="613.93" y1="123.1" x2="613.93" y2="124.1" stroke="#888" stroke-width="0.5"/>
<line x1="600.3" y1="109.45" x2="601.3" y2="109.45" stroke="#999" stroke-width="0.5"/>
<line x1="614.64" y1="123.1" x2="614.64" y2="124.1" stroke="#888" stroke-width="0.5"/>
<line x1="599.5" y1="108.80" x2="601.3" y2="108.80" stroke="#222" stroke-width="1"/>
<line x1="615.28" y1="123.1" x2="615.28" y2="124.89999999999999" stroke="#333" stroke-width="0.9"/>
<line x1="600.3" y1="104.50" x2="601.3" y2="104.50" stroke="#999" stroke-width="0.5"/>
<line x1="619.49" y1="123.1" x2="619.49" y2="124.1" stroke="#888" stroke-width="0.5"/>
<line x1="600.3" y1="101.98" x2="601.3" y2="101.98" stroke="#999" stroke-width="0.5"/>
<line x1="621.95" y1="123.1" x2="621.95" y2="124.1" stroke="#888" stroke-width="0.5"/>
<line x1="600.3" y1="100.19" x2="601.3" y2="100.19" stroke="#999" stroke-width="0.5"/>
<line x1="623.70" y1="123.1" x2="623.70" y2="124.1" stroke="#888" stroke-width="0.5"/>
<line x1="600.3" y1="98.80" x2="601.3" y2="98.80" stroke="#999" stroke-width="0.5"/>
<line x1="625.05" y1="123.1" x2="625.05" y2="124.1" stroke="#888" stroke-width="0.5"/>
<line x1="600.3" y1="97.67" x2="601.3" y2="97.67" stroke="#999" stroke-width="0.5"/>
<line x1="626.16" y1="123.1" x2="626.16" y2="124.1" stroke="#888" stroke-width="0.5"/>
<line x1="600.3" y1="96.72" x2="601.3" y2="96.72" stroke="#999" stroke-width="0.5"/>
<line x1="627.09" y1="123.1" x2="627.09" y2="124.1" stroke="#888" stroke-width="0.5"/>
<line x1="600.3" y1="95.89" x2="601.3" y2="95.89" stroke="#999" stroke-width="0.5"/>
<line x1="627.91" y1="123.1" x2="627.91" y2="124.1" stroke="#888" stroke-width="0.5"/>
<line x1="600.3" y1="95.15" x2="601.3" y2="95.15" stroke="#999" stroke-width="0.5"/>
<line x1="628.62" y1="123.1" x2="628.62" y2="124.1" stroke="#888" stroke-width="0.5"/>
<line x1="599.5" y1="94.50" x2="601.3" y2="94.50" stroke="#222" stroke-width="1"/>
<line x1="629.26" y1="123.1" x2="629.26" y2="124.89999999999999" stroke="#333" stroke-width="0.9"/>
<line x1="600.3" y1="90.20" x2="601.3" y2="90.20" stroke="#999" stroke-width="0.5"/>
<line x1="633.47" y1="123.1" x2="633.47" y2="124.1" stroke="#888" stroke-width="0.5"/>
<line x1="600.3" y1="87.68" x2="601.3" y2="87.68" stroke="#999" stroke-width="0.5"/>
<line x1="635.93" y1="123.1" x2="635.93" y2="124.1" stroke="#888" stroke-width="0.5"/>
<line x1="600.3" y1="85.89" x2="601.3" y2="85.89" stroke="#999" stroke-width="0.5"/>
<line x1="637.68" y1="123.1" x2="637.68" y2="124.1" stroke="#888" stroke-width="0.5"/>
<line x1="600.3" y1="84.50" x2="601.3" y2="84.50" stroke="#999" stroke-width="0.5"/>
<line x1="639.03" y1="123.1" x2="639.03" y2="124.1" stroke="#888" stroke-width="0.5"/>
<line x1="600.3" y1="83.37" x2="601.3" y2="83.37" stroke="#999" stroke-width="0.5"/>
<line x1="640.14" y1="123.1" x2="640.14" y2="124.1" stroke="#888" stroke-width="0.5"/>
<line x1="600.3" y1="82.42" x2="601.3" y2="82.42" stroke="#999" stroke-width="0.5"/>
<line x1="641.07" y1="123.1" x2="641.07" y2="124.1" stroke="#888" stroke-width="0.5"/>
<line x1="600.3" y1="81.59" x2="601.3" y2="81.59" stroke="#999" stroke-width="0.5"/>
<line x1="641.89" y1="123.1" x2="641.89" y2="124.1" stroke="#888" stroke-width="0.5"/>
<line x1="600.3" y1="80.85" x2="601.3" y2="80.85" stroke="#999" stroke-width="0.5"/>
<line x1="642.60" y1="123.1" x2="642.60" y2="124.1" stroke="#888" stroke-width="0.5"/>
<line x1="599.5" y1="80.20" x2="601.3" y2="80.20" stroke="#222" stroke-width="1"/>
<line x1="643.24" y1="123.1" x2="643.24" y2="124.89999999999999" stroke="#333" stroke-width="0.9"/>
<line x1="600.3" y1="75.90" x2="601.3" y2="75.90" stroke="#999" stroke-width="0.5"/>
<line x1="647.45" y1="123.1" x2="647.45" y2="124.1" stroke="#888" stroke-width="0.5"/>
<line x1="600.3" y1="73.38" x2="601.3" y2="73.38" stroke="#999" stroke-width="0.5"/>
<line x1="649.91" y1="123.1" x2="649.91" y2="124.1" stroke="#888" stroke-width="0.5"/>
<line x1="600.3" y1="71.59" x2="601.3" y2="71.59" stroke="#999" stroke-width="0.5"/>
<line x1="651.66" y1="123.1" x2="651.66" y2="124.1" stroke="#888" stroke-width="0.5"/>
<line x1="600.3" y1="70.20" x2="601.3" y2="70.20" stroke="#999" stroke-width="0.5"/>
<line x1="653.01" y1="123.1" x2="653.01" y2="124.1" stroke="#888" stroke-width="0.5"/>
<line x1="600.3" y1="69.07" x2="601.3" y2="69.07" stroke="#999" stroke-width="0.5"/>
<line x1="654.12" y1="123.1" x2="654.12" y2="124.1" stroke="#888" stroke-width="0.5"/>
<line x1="600.3" y1="68.12" x2="601.3" y2="68.12" stroke="#999" stroke-width="0.5"/>
<line x1="655.05" y1="123.1" x2="655.05" y2="124.1" stroke="#888" stroke-width="0.5"/>
<line x1="600.3" y1="67.29" x2="601.3" y2="67.29" stroke="#999" stroke-width="0.5"/>
<line x1="655.87" y1="123.1" x2="655.87" y2="124.1" stroke="#888" stroke-width="0.5"/>
<line x1="600.3" y1="66.55" x2="601.3" y2="66.55" stroke="#999" stroke-width="0.5"/>
<line x1="656.58" y1="123.1" x2="656.58" y2="124.1" stroke="#888" stroke-width="0.5"/>
<line x1="599.5" y1="65.90" x2="601.3" y2="65.90" stroke="#222" stroke-width="1"/>
<line x1="657.22" y1="123.1" x2="657.22" y2="124.89999999999999" stroke="#333" stroke-width="0.9"/>
<line x1="600.3" y1="61.60" x2="601.3" y2="61.60" stroke="#999" stroke-width="0.5"/>
<line x1="661.43" y1="123.1" x2="661.43" y2="124.1" stroke="#888" stroke-width="0.5"/>
<line x1="600.3" y1="59.08" x2="601.3" y2="59.08" stroke="#999" stroke-width="0.5"/>
<line x1="663.89" y1="123.1" x2="663.89" y2="124.1" stroke="#888" stroke-width="0.5"/>
<line x1="600.3" y1="57.29" x2="601.3" y2="57.29" stroke="#999" stroke-width="0.5"/>
<line x1="665.64" y1="123.1" x2="665.64" y2="124.1" stroke="#888" stroke-width="0.5"/>
<line x1="600.3" y1="55.90" x2="601.3" y2="55.90" stroke="#999" stroke-width="0.5"/>
<line x1="666.99" y1="123.1" x2="666.99" y2="124.1" stroke="#888" stroke-width="0.5"/>
<line x1="600.3" y1="54.77" x2="601.3" y2="54.77" stroke="#999" stroke-width="0.5"/>
<line x1="668.10" y1="123.1" x2="668.10" y2="124.1" stroke="#888" stroke-width="0.5"/>
<line x1="600.3" y1="53.82" x2="601.3" y2="53.82" stroke="#999" stroke-width="0.5"/>
<line x1="669.03" y1="123.1" x2="669.03" y2="124.1" stroke="#888" stroke-width="0.5"/>
<line x1="600.3" y1="52.99" x2="601.3" y2="52.99" stroke="#999" stroke-width="0.5"/>
<line x1="669.85" y1="123.1" x2="669.85" y2="124.1" stroke="#888" stroke-width="0.5"/>
<line x1="600.3" y1="52.25" x2="601.3" y2="52.25" stroke="#999" stroke-width="0.5"/>
<line x1="670.56" y1="123.1" x2="670.56" y2="124.1" stroke="#888" stroke-width="0.5"/>
<line x1="599.5" y1="51.60" x2="601.3" y2="51.60" stroke="#222" stroke-width="1"/>
<line x1="671.20" y1="123.1" x2="671.20" y2="124.89999999999999" stroke="#333" stroke-width="0.9"/>
<text x="670.2" y="119.8" font-size="10.8" text-anchor="end" font-weight="normal" font-style="normal" fill="#b0242e" stroke="#b0242e" stroke-width="0.2">19,706</text>
<g filter="url(#bl)"><ellipse cx="28.9" cy="114.5" rx="5.9" ry="5.0" fill="#b4b4b4" stroke="#777" stroke-width="0.8"/><ellipse cx="28.9" cy="114.5" rx="3.8940000000000006" ry="3.3000000000000003" fill="#8e8e8e" stroke="#6a6a6a" stroke-width="0.7"/><ellipse cx="29.2" cy="114.5" rx="1.5340000000000003" ry="1.3" fill="#f2f2f2"/></g>
<line x1="22.7" y1="110" x2="22.7" y2="122.5" stroke="#111" stroke-width="1.6" filter="url(#bl)"/>
<path d="M22.4,121.5 Q25.2,120.89999999999999 32,122.5 L22.4,122.69999999999999 Z" fill="#222" filter="url(#bl)"/>
<g filter="url(#bl)"><ellipse cx="111.5" cy="103.3" rx="5.7" ry="4.7" fill="#b4b4b4" stroke="#777" stroke-width="0.8"/><ellipse cx="111.5" cy="103.3" rx="3.7620000000000005" ry="3.1020000000000003" fill="#8e8e8e" stroke="#6a6a6a" stroke-width="0.7"/><ellipse cx="111.8" cy="103.3" rx="1.4820000000000002" ry="1.2220000000000002" fill="#f2f2f2"/></g>
<g filter="url(#bl)"><ellipse cx="111.5" cy="114.4" rx="5.7" ry="4.8" fill="#b4b4b4" stroke="#777" stroke-width="0.8"/><ellipse cx="111.5" cy="114.4" rx="3.7620000000000005" ry="3.168" fill="#8e8e8e" stroke="#6a6a6a" stroke-width="0.7"/><ellipse cx="111.8" cy="114.4" rx="1.4820000000000002" ry="1.248" fill="#f2f2f2"/></g>
<line x1="105.6" y1="97" x2="105.6" y2="122.5" stroke="#111" stroke-width="1.6" filter="url(#bl)"/>
<path d="M105.3,121.5 Q108.15,120.89999999999999 115,122.5 L105.3,122.69999999999999 Z" fill="#222" filter="url(#bl)"/>
<ellipse cx="115.6" cy="96.6" rx="2.8" ry="1.5" transform="rotate(-55 115.6 96.6)" fill="#eee" stroke="#aaa" stroke-width="0.7" filter="url(#bl)"/>
<g filter="url(#bl)"><ellipse cx="524.0" cy="114.5" rx="5.9" ry="5.0" fill="#b4b4b4" stroke="#777" stroke-width="0.8"/><ellipse cx="524.0" cy="114.5" rx="3.8940000000000006" ry="3.3000000000000003" fill="#8e8e8e" stroke="#6a6a6a" stroke-width="0.7"/><ellipse cx="524.3" cy="114.5" rx="1.5340000000000003" ry="1.3" fill="#f2f2f2"/></g>
<line x1="517.8" y1="110" x2="517.8" y2="122.5" stroke="#111" stroke-width="1.6" filter="url(#bl)"/>
<path d="M517.5,121.5 Q520.25,120.89999999999999 527,122.5 L517.5,122.69999999999999 Z" fill="#222" filter="url(#bl)"/>
<g filter="url(#bl)"><ellipse cx="607.5" cy="103.3" rx="5.7" ry="4.7" fill="#b4b4b4" stroke="#777" stroke-width="0.8"/><ellipse cx="607.5" cy="103.3" rx="3.7620000000000005" ry="3.1020000000000003" fill="#8e8e8e" stroke="#6a6a6a" stroke-width="0.7"/><ellipse cx="607.8" cy="103.3" rx="1.4820000000000002" ry="1.2220000000000002" fill="#f2f2f2"/></g>
<g filter="url(#bl)"><ellipse cx="607.5" cy="114.4" rx="5.7" ry="4.8" fill="#b4b4b4" stroke="#777" stroke-width="0.8"/><ellipse cx="607.5" cy="114.4" rx="3.7620000000000005" ry="3.168" fill="#8e8e8e" stroke="#6a6a6a" stroke-width="0.7"/><ellipse cx="607.8" cy="114.4" rx="1.4820000000000002" ry="1.248" fill="#f2f2f2"/></g>
<line x1="601.5999999999999" y1="97" x2="601.5999999999999" y2="122.5" stroke="#111" stroke-width="1.6" filter="url(#bl)"/>
<path d="M601.3,121.5 Q604.15,120.89999999999999 611,122.5 L601.3,122.69999999999999 Z" fill="#222" filter="url(#bl)"/>
<ellipse cx="611.6" cy="96.6" rx="2.8" ry="1.5" transform="rotate(-55 611.6 96.6)" fill="#eee" stroke="#aaa" stroke-width="0.7" filter="url(#bl)"/>
<g filter="url(#bl)"><path d="M221.80,81.80 C221.67,81.45 220.63,81.07 219.50,81.20 C218.37,81.33 216.75,81.90 215.00,82.60 C213.25,83.30 211.00,84.38 209.00,85.40 C207.00,86.42 204.83,87.57 203.00,88.70 C201.17,89.83 199.42,90.98 198.00,92.20 C196.58,93.42 195.45,94.70 194.50,96.00 C193.55,97.30 192.85,98.58 192.30,100.00 C191.75,101.42 191.43,103.00 191.20,104.50 C190.97,106.00 190.87,107.58 190.90,109.00 C190.93,110.42 190.32,112.33 191.40,113.00 C192.48,113.67 196.37,113.83 197.40,113.00 C198.43,112.17 197.53,109.50 197.60,108.00 C197.67,106.50 197.57,105.25 197.80,104.00 C198.03,102.75 198.38,101.67 199.00,100.50 C199.62,99.33 200.42,98.20 201.50,97.00 C202.58,95.80 203.92,94.55 205.50,93.30 C207.08,92.05 209.17,90.75 211.00,89.50 C212.83,88.25 214.95,86.83 216.50,85.80 C218.05,84.77 219.42,83.97 220.30,83.30 C221.18,82.63 221.93,82.15 221.80,81.80 Z" fill="url(#bg)" stroke="#777" stroke-width="0.7"/><path d="M221.80,81.80 C221.42,81.70 220.63,81.07 219.50,81.20 C218.37,81.33 216.75,81.90 215.00,82.60 C213.25,83.30 211.00,84.38 209.00,85.40 C207.00,86.42 204.83,87.57 203.00,88.70 C201.17,89.83 199.42,90.98 198.00,92.20 C196.58,93.42 195.45,94.70 194.50,96.00 C193.55,97.30 192.67,99.33 192.30,100.00" fill="none" stroke="#111" stroke-width="1.2"/><path d="M199.00,100.50 C199.42,99.92 200.42,98.20 201.50,97.00 C202.58,95.80 203.92,94.55 205.50,93.30 C207.08,92.05 209.17,90.75 211.00,89.50 C212.83,88.25 214.95,86.83 216.50,85.80 C218.05,84.77 219.67,83.72 220.30,83.30" fill="none" stroke="#222" stroke-width="1.0"/><path d="M221.05,82.55 C220.54,82.71 219.34,82.92 218.00,83.50 C216.66,84.08 214.79,85.08 213.00,86.05 C211.21,87.02 209.04,88.22 207.25,89.35 C205.46,90.48 203.71,91.68 202.25,92.85 C200.79,94.02 199.52,95.16 198.50,96.35 C197.48,97.54 196.74,98.72 196.15,100.00 C195.56,101.28 195.15,103.33 194.95,104.00" fill="none" stroke="#e8e8e8" stroke-width="0.6"/></g>
<g filter="url(#bl)"><ellipse cx="194.4" cy="113.6" rx="3.6" ry="2.9" fill="#b4b4b4" stroke="#777" stroke-width="0.8"/><ellipse cx="194.4" cy="113.6" rx="2.3760000000000003" ry="1.914" fill="#8e8e8e" stroke="#6a6a6a" stroke-width="0.7"/><ellipse cx="194.70000000000002" cy="113.6" rx="0.936" ry="0.754" fill="#f2f2f2"/></g>
<line x1="188.5" y1="99.5" x2="188.5" y2="122.5" stroke="#111" stroke-width="1.7" filter="url(#bl)"/>
<g filter="url(#bl)"><path d="M309.00,81.80 C308.72,81.50 307.33,80.82 305.80,80.90 C304.27,80.98 302.07,81.52 299.80,82.30 C297.53,83.08 294.73,84.30 292.20,85.60 C289.67,86.90 286.80,88.62 284.60,90.10 C282.40,91.58 280.50,93.10 279.00,94.50 C277.50,95.90 276.42,97.08 275.60,98.50 C274.78,99.92 274.38,101.67 274.10,103.00 C273.82,104.33 273.78,105.42 273.90,106.50 C274.02,107.58 274.07,109.00 274.80,109.50 C275.53,110.00 277.55,110.25 278.30,109.50 C279.05,108.75 278.93,106.50 279.30,105.00 C279.67,103.50 279.95,101.83 280.50,100.50 C281.05,99.17 281.60,98.17 282.60,97.00 C283.60,95.83 284.93,94.67 286.50,93.50 C288.07,92.33 290.00,91.17 292.00,90.00 C294.00,88.83 296.50,87.50 298.50,86.50 C300.50,85.50 302.50,84.63 304.00,84.00 C305.50,83.37 306.67,83.07 307.50,82.70 C308.33,82.33 309.28,82.10 309.00,81.80 Z" fill="url(#bg)" stroke="#777" stroke-width="0.7"/><path d="M309.00,81.80 C308.47,81.65 307.33,80.82 305.80,80.90 C304.27,80.98 302.07,81.52 299.80,82.30 C297.53,83.08 294.73,84.30 292.20,85.60 C289.67,86.90 286.80,88.62 284.60,90.10 C282.40,91.58 280.50,93.10 279.00,94.50 C277.50,95.90 276.17,97.83 275.60,98.50" fill="none" stroke="#111" stroke-width="1.2"/><path d="M282.60,97.00 C283.25,96.42 284.93,94.67 286.50,93.50 C288.07,92.33 290.00,91.17 292.00,90.00 C294.00,88.83 296.50,87.50 298.50,86.50 C300.50,85.50 302.50,84.63 304.00,84.00 C305.50,83.37 306.92,82.92 307.50,82.70" fill="none" stroke="#222" stroke-width="1.0"/><path d="M308.25,82.25 C307.69,82.28 306.42,82.09 304.90,82.45 C303.38,82.81 301.28,83.51 299.15,84.40 C297.02,85.29 294.37,86.57 292.10,87.80 C289.83,89.03 287.43,90.47 285.55,91.80 C283.67,93.12 282.05,94.47 280.80,95.75 C279.55,97.03 278.51,98.88 278.05,99.50" fill="none" stroke="#e8e8e8" stroke-width="0.6"/></g>
<g filter="url(#bl)"><ellipse cx="276.5" cy="114.7" rx="3.9" ry="3.7" fill="#b4b4b4" stroke="#777" stroke-width="0.8"/><ellipse cx="276.5" cy="114.7" rx="2.574" ry="2.442" fill="#8e8e8e" stroke="#6a6a6a" stroke-width="0.7"/><ellipse cx="276.8" cy="114.7" rx="1.014" ry="0.9620000000000001" fill="#f2f2f2"/></g>
<line x1="271.0" y1="110.5" x2="271.0" y2="122.5" stroke="#111" stroke-width="1.7" filter="url(#bl)"/>
<path d="M270.7,121.5 Q272.85,120.89999999999999 279,122.5 L270.7,122.69999999999999 Z" fill="#222" filter="url(#bl)"/>
<g filter="url(#bl)"><path d="M358.40,101.40 C358.19,100.88 358.80,99.97 359.08,99.30 C359.36,98.63 359.66,97.98 360.08,97.40 C360.51,96.82 361.11,96.35 361.62,95.82 C362.14,95.29 362.64,94.76 363.16,94.24 C363.68,93.72 364.21,93.21 364.73,92.69 C365.26,92.18 365.78,91.66 366.31,91.15 C366.83,90.63 367.34,90.10 367.88,89.60 C368.42,89.11 368.98,88.63 369.54,88.15 C370.11,87.68 370.69,87.23 371.26,86.77 C371.83,86.30 372.40,85.84 372.97,85.38 C373.54,84.91 374.11,84.45 374.68,83.99 C375.26,83.53 375.83,83.06 376.40,82.60 C376.97,82.14 377.53,81.67 378.11,81.22 C378.69,80.76 379.28,80.32 379.88,79.90 C380.48,79.47 381.09,79.06 381.70,78.65 C382.30,78.23 382.90,77.80 383.52,77.40 C384.13,77.00 384.76,76.62 385.39,76.23 C386.02,75.85 386.65,75.48 387.28,75.11 C387.92,74.73 388.55,74.36 389.18,73.98 C389.81,73.60 390.41,73.16 391.08,72.85 C391.74,72.55 392.45,72.35 393.15,72.13 C393.85,71.92 394.56,71.74 395.27,71.54 C395.98,71.34 396.68,71.14 397.39,70.94 C398.10,70.74 398.80,70.52 399.51,70.34 C400.23,70.16 400.95,70.02 401.67,69.87 C402.39,69.72 403.11,69.54 403.83,69.43 C404.56,69.32 405.30,69.19 406.01,69.20 C406.73,69.21 407.49,69.19 408.12,69.47 C408.75,69.75 409.68,70.34 409.80,70.90 C409.92,71.46 409.29,72.25 408.87,72.82 C408.45,73.38 407.82,73.79 407.29,74.28 C406.76,74.77 406.27,75.31 405.71,75.75 C405.15,76.18 404.56,76.57 403.92,76.89 C403.29,77.21 402.59,77.42 401.92,77.68 C401.25,77.95 400.59,78.21 399.92,78.48 C399.25,78.74 398.59,79.04 397.92,79.27 C397.24,79.51 396.55,79.70 395.86,79.91 C395.17,80.11 394.48,80.31 393.79,80.51 C393.10,80.71 392.41,80.91 391.72,81.11 C391.03,81.31 390.32,81.47 389.65,81.71 C388.98,81.95 388.33,82.26 387.68,82.56 C387.03,82.86 386.39,83.20 385.75,83.53 C385.11,83.85 384.46,84.17 383.82,84.49 C383.18,84.81 382.54,85.13 381.89,85.45 C381.25,85.77 380.59,86.06 379.97,86.42 C379.34,86.77 378.75,87.17 378.16,87.57 C377.57,87.98 377.01,88.43 376.43,88.86 C375.86,89.29 375.28,89.72 374.70,90.15 C374.13,90.58 373.55,91.01 372.98,91.44 C372.40,91.87 371.82,92.29 371.25,92.72 C370.67,93.15 370.07,93.56 369.52,94.01 C368.96,94.47 368.45,94.97 367.91,95.45 C367.38,95.93 366.85,96.41 366.32,96.90 C365.79,97.38 365.23,97.84 364.72,98.34 C364.21,98.85 363.72,99.37 363.24,99.90 C362.76,100.44 362.35,101.14 361.86,101.56 C361.37,101.97 360.89,102.42 360.31,102.39 C359.74,102.37 358.61,101.92 358.40,101.40 Z" fill="#f6f6f6" stroke="#777" stroke-width="0.7" stroke-linejoin="round"/><path d="M358.40,101.40 C358.25,101.01 358.92,100.27 359.23,99.69 C359.55,99.11 359.87,98.48 360.31,97.92 C360.74,97.36 361.32,96.86 361.83,96.33 C362.33,95.80 362.84,95.27 363.36,94.75 C363.88,94.23 364.41,93.73 364.93,93.22 C365.46,92.71 365.98,92.20 366.51,91.69 C367.04,91.18 367.55,90.65 368.09,90.16 C368.63,89.66 369.19,89.19 369.76,88.73 C370.32,88.26 370.90,87.81 371.47,87.35 C372.04,86.89 372.62,86.43 373.19,85.97 C373.76,85.52 374.33,85.06 374.90,84.60 C375.47,84.14 376.05,83.68 376.62,83.22 C377.19,82.77 377.76,82.30 378.35,81.87 C378.93,81.43 379.53,81.01 380.13,80.59 C380.73,80.18 381.35,79.78 381.96,79.38 C382.57,78.97 383.18,78.56 383.80,78.17 C384.41,77.77 385.04,77.40 385.67,77.03 C386.30,76.65 386.94,76.29 387.58,75.93 C388.22,75.57 388.86,75.22 389.50,74.87 C390.14,74.52 390.75,74.10 391.41,73.81 C392.08,73.52 392.79,73.32 393.49,73.11 C394.18,72.89 394.90,72.71 395.60,72.50 C396.30,72.30 397.01,72.09 397.71,71.88 C398.41,71.67 399.11,71.44 399.82,71.26 C400.52,71.07 401.24,70.92 401.95,70.74 C402.66,70.57 403.36,70.37 404.07,70.22 C404.77,70.07 405.48,69.89 406.17,69.84 C406.86,69.78 407.61,69.71 408.21,69.89 C408.82,70.07 409.71,70.48 409.80,70.90 C409.89,71.32 409.22,71.94 408.77,72.40 C408.33,72.86 407.68,73.22 407.13,73.65 C406.58,74.07 406.06,74.56 405.47,74.96 C404.89,75.35 404.28,75.71 403.64,76.01 C403.00,76.31 402.29,76.51 401.62,76.76 C400.95,77.02 400.28,77.28 399.60,77.54 C398.93,77.79 398.27,78.07 397.59,78.31 C396.90,78.54 396.21,78.73 395.52,78.94 C394.83,79.14 394.14,79.34 393.45,79.55 C392.76,79.77 392.08,80.00 391.40,80.22 C390.72,80.44 390.02,80.63 389.35,80.89 C388.69,81.14 388.04,81.46 387.39,81.77 C386.74,82.08 386.11,82.43 385.47,82.76 C384.83,83.09 384.19,83.43 383.56,83.76 C382.92,84.09 382.28,84.42 381.64,84.76 C381.01,85.09 380.35,85.40 379.74,85.77 C379.12,86.13 378.53,86.54 377.94,86.95 C377.35,87.37 376.79,87.82 376.21,88.25 C375.64,88.69 375.06,89.12 374.49,89.55 C373.91,89.99 373.34,90.42 372.76,90.85 C372.19,91.29 371.61,91.72 371.03,92.15 C370.46,92.59 369.87,93.00 369.31,93.46 C368.76,93.92 368.25,94.43 367.71,94.91 C367.18,95.40 366.65,95.88 366.12,96.37 C365.59,96.86 365.04,97.33 364.53,97.83 C364.01,98.34 363.52,98.86 363.04,99.39 C362.56,99.93 362.12,100.60 361.64,101.04 C361.16,101.47 360.70,101.95 360.16,102.01 C359.62,102.07 358.55,101.79 358.40,101.40 Z" fill="none" stroke="#999" stroke-width="0.5" stroke-linejoin="round"/><path d="M358.40,101.40 C358.30,101.14 359.03,100.57 359.39,100.07 C359.74,99.58 360.09,98.98 360.53,98.44 C360.97,97.90 361.52,97.37 362.03,96.84 C362.53,96.31 363.04,95.78 363.55,95.27 C364.07,94.75 364.60,94.25 365.13,93.74 C365.66,93.24 366.18,92.73 366.71,92.22 C367.24,91.72 367.75,91.19 368.29,90.71 C368.84,90.22 369.40,89.76 369.97,89.30 C370.53,88.84 371.11,88.39 371.69,87.93 C372.26,87.48 372.83,87.02 373.40,86.57 C373.98,86.12 374.55,85.66 375.12,85.21 C375.69,84.75 376.26,84.29 376.84,83.85 C377.42,83.40 377.99,82.94 378.58,82.52 C379.17,82.09 379.77,81.69 380.38,81.29 C380.99,80.88 381.61,80.50 382.23,80.11 C382.84,79.72 383.45,79.31 384.08,78.93 C384.70,78.55 385.33,78.18 385.96,77.82 C386.59,77.45 387.23,77.10 387.88,76.76 C388.52,76.42 389.17,76.09 389.81,75.76 C390.46,75.43 391.09,75.05 391.75,74.77 C392.42,74.49 393.13,74.29 393.82,74.08 C394.52,73.86 395.23,73.68 395.93,73.47 C396.63,73.26 397.33,73.04 398.02,72.82 C398.72,72.61 399.42,72.37 400.12,72.17 C400.82,71.97 401.54,71.82 402.23,71.62 C402.93,71.43 403.62,71.20 404.30,71.01 C404.98,70.82 405.66,70.59 406.33,70.47 C407.00,70.35 407.73,70.24 408.31,70.31 C408.88,70.38 409.74,70.62 409.80,70.90 C409.86,71.18 409.15,71.63 408.68,71.98 C408.21,72.33 407.54,72.65 406.97,73.01 C406.40,73.38 405.84,73.82 405.24,74.17 C404.64,74.52 404.01,74.85 403.36,75.13 C402.71,75.41 402.00,75.60 401.32,75.85 C400.64,76.09 399.96,76.34 399.29,76.59 C398.61,76.84 397.94,77.11 397.25,77.34 C396.57,77.57 395.87,77.75 395.18,77.96 C394.49,78.17 393.79,78.37 393.11,78.59 C392.43,78.82 391.76,79.08 391.08,79.33 C390.41,79.57 389.72,79.78 389.06,80.06 C388.39,80.34 387.75,80.66 387.10,80.98 C386.46,81.30 385.83,81.65 385.19,81.99 C384.56,82.34 383.92,82.68 383.29,83.03 C382.66,83.37 382.02,83.72 381.39,84.06 C380.76,84.41 380.12,84.74 379.50,85.12 C378.89,85.49 378.30,85.91 377.72,86.33 C377.13,86.75 376.57,87.21 375.99,87.64 C375.42,88.08 374.85,88.52 374.27,88.96 C373.70,89.39 373.12,89.83 372.55,90.27 C371.97,90.71 371.39,91.14 370.82,91.58 C370.25,92.02 369.66,92.44 369.11,92.91 C368.56,93.37 368.04,93.88 367.51,94.37 C366.98,94.86 366.45,95.35 365.92,95.85 C365.39,96.34 364.85,96.81 364.33,97.32 C363.82,97.82 363.32,98.35 362.84,98.88 C362.35,99.42 361.89,100.06 361.41,100.52 C360.94,100.97 360.51,101.47 360.00,101.62 C359.50,101.77 358.50,101.66 358.40,101.40 Z" fill="none" stroke="#888" stroke-width="0.5" stroke-linejoin="round"/><path d="M358.40,101.40 C358.35,101.27 359.15,100.87 359.54,100.46 C359.93,100.05 360.30,99.48 360.75,98.96 C361.20,98.44 361.73,97.88 362.23,97.35 C362.73,96.82 363.23,96.29 363.75,95.78 C364.26,95.27 364.80,94.77 365.33,94.27 C365.86,93.77 366.38,93.26 366.91,92.76 C367.44,92.26 367.95,91.74 368.50,91.26 C369.04,90.77 369.61,90.32 370.18,89.87 C370.75,89.41 371.33,88.97 371.90,88.52 C372.47,88.07 373.05,87.62 373.62,87.17 C374.19,86.72 374.77,86.27 375.34,85.82 C375.91,85.37 376.48,84.91 377.06,84.47 C377.64,84.03 378.21,83.58 378.81,83.17 C379.41,82.75 380.02,82.37 380.64,81.98 C381.25,81.59 381.88,81.22 382.49,80.84 C383.11,80.46 383.73,80.07 384.35,79.70 C384.98,79.33 385.61,78.96 386.25,78.61 C386.88,78.25 387.52,77.91 388.17,77.58 C388.82,77.26 389.48,76.96 390.13,76.65 C390.79,76.34 391.42,75.99 392.09,75.72 C392.76,75.46 393.47,75.26 394.16,75.05 C394.86,74.84 395.57,74.65 396.26,74.44 C396.96,74.22 397.65,73.99 398.34,73.76 C399.03,73.54 399.72,73.30 400.42,73.09 C401.11,72.88 401.83,72.71 402.51,72.50 C403.20,72.28 403.87,72.03 404.54,71.80 C405.20,71.57 405.85,71.29 406.49,71.11 C407.14,70.93 407.85,70.76 408.40,70.73 C408.95,70.69 409.77,70.76 409.80,70.90 C409.83,71.04 409.09,71.32 408.59,71.56 C408.09,71.81 407.41,72.07 406.81,72.38 C406.21,72.68 405.63,73.07 405.01,73.38 C404.38,73.69 403.74,74.00 403.08,74.25 C402.41,74.51 401.70,74.70 401.02,74.93 C400.33,75.16 399.65,75.41 398.97,75.65 C398.29,75.89 397.61,76.15 396.92,76.37 C396.24,76.60 395.53,76.78 394.84,76.99 C394.15,77.20 393.45,77.40 392.77,77.64 C392.09,77.88 391.43,78.17 390.77,78.44 C390.10,78.70 389.42,78.94 388.76,79.23 C388.10,79.53 387.46,79.86 386.82,80.19 C386.18,80.52 385.54,80.88 384.91,81.23 C384.28,81.58 383.65,81.94 383.03,82.30 C382.40,82.66 381.76,83.01 381.14,83.37 C380.51,83.73 379.88,84.08 379.27,84.47 C378.67,84.86 378.08,85.28 377.50,85.71 C376.92,86.14 376.35,86.59 375.78,87.03 C375.20,87.48 374.63,87.92 374.05,88.36 C373.48,88.80 372.91,89.24 372.33,89.69 C371.76,90.13 371.18,90.57 370.61,91.01 C370.04,91.46 369.46,91.89 368.91,92.36 C368.36,92.83 367.84,93.34 367.31,93.84 C366.78,94.33 366.25,94.83 365.72,95.32 C365.20,95.82 364.65,96.30 364.14,96.81 C363.62,97.31 363.13,97.84 362.64,98.37 C362.14,98.90 361.66,99.52 361.19,100.00 C360.73,100.47 360.32,101.00 359.85,101.23 C359.38,101.47 358.45,101.53 358.40,101.40 Z" fill="none" stroke="#999" stroke-width="0.5" stroke-linejoin="round"/></g>
<path d="M362,96 C368,89.5 375,84 384,77.8" fill="none" stroke="#555" stroke-width="0.9" filter="url(#bl)"/>
<g filter="url(#bl)"><ellipse cx="359.4" cy="114.0" rx="5.6" ry="4.2" fill="#cfcfcf" stroke="#333" stroke-width="1.2"/><ellipse cx="359.4" cy="114.0" rx="3.36" ry="2.3100000000000005" fill="#a8a8a8" stroke="#888" stroke-width="0.5"/><ellipse cx="359.79999999999995" cy="114.0" rx="1.568" ry="1.05" fill="#f4f4f4"/></g>
<line x1="352.8" y1="108" x2="352.8" y2="122.5" stroke="#111" stroke-width="1.6" filter="url(#bl)"/>
<path d="M352.5,121.5 Q357.25,120.89999999999999 366,122.5 L352.5,122.69999999999999 Z" fill="#222" filter="url(#bl)"/>
<g filter="url(#bl)"><path d="M439.50,108.00 C439.09,107.76 439.13,106.45 438.94,105.67 C438.76,104.90 438.50,104.13 438.38,103.35 C438.27,102.56 438.26,101.76 438.25,100.96 C438.24,100.17 438.20,99.37 438.32,98.59 C438.44,97.81 438.75,97.05 438.98,96.29 C439.22,95.53 439.43,94.76 439.73,94.02 C440.03,93.29 440.36,92.53 440.78,91.87 C441.20,91.21 441.68,90.60 442.24,90.05 C442.79,89.49 443.48,89.05 444.10,88.55 C444.72,88.05 445.33,87.53 445.97,87.05 C446.60,86.57 447.27,86.13 447.93,85.69 C448.59,85.24 449.26,84.81 449.93,84.37 C450.59,83.93 451.24,83.46 451.92,83.05 C452.60,82.63 453.31,82.26 454.02,81.89 C454.72,81.52 455.44,81.18 456.16,80.82 C456.87,80.47 457.58,80.11 458.30,79.75 C459.01,79.40 459.71,79.01 460.44,78.68 C461.16,78.35 461.90,78.06 462.64,77.76 C463.38,77.46 464.12,77.16 464.86,76.87 C465.60,76.57 466.34,76.27 467.08,75.97 C467.82,75.68 468.56,75.37 469.30,75.08 C470.05,74.80 470.79,74.50 471.55,74.26 C472.31,74.03 473.09,73.87 473.87,73.67 C474.64,73.48 475.41,73.28 476.19,73.09 C476.96,72.89 477.73,72.61 478.51,72.50 C479.29,72.39 480.08,72.39 480.87,72.40 C481.66,72.41 482.48,72.48 483.26,72.56 C484.04,72.64 484.93,72.52 485.55,72.90 C486.17,73.27 486.91,74.19 487.00,74.80 C487.09,75.41 486.57,76.14 486.09,76.58 C485.61,77.01 484.79,77.14 484.14,77.42 C483.49,77.70 482.84,77.98 482.19,78.26 C481.54,78.54 480.89,78.83 480.24,79.10 C479.58,79.36 478.92,79.61 478.25,79.84 C477.58,80.08 476.90,80.28 476.23,80.50 C475.56,80.72 474.88,80.94 474.21,81.16 C473.54,81.37 472.86,81.59 472.19,81.81 C471.52,82.03 470.85,82.26 470.18,82.48 C469.51,82.71 468.84,82.94 468.17,83.17 C467.50,83.40 466.83,83.63 466.16,83.86 C465.49,84.09 464.82,84.32 464.15,84.55 C463.48,84.78 462.80,84.99 462.14,85.24 C461.48,85.49 460.82,85.75 460.20,86.07 C459.58,86.40 459.00,86.82 458.40,87.19 C457.80,87.57 457.19,87.94 456.59,88.32 C455.99,88.69 455.39,89.06 454.79,89.44 C454.19,89.81 453.57,90.16 452.99,90.56 C452.41,90.96 451.86,91.41 451.30,91.85 C450.74,92.28 450.20,92.73 449.64,93.18 C449.09,93.62 448.46,94.00 447.99,94.51 C447.52,95.02 447.18,95.63 446.82,96.23 C446.47,96.84 446.18,97.50 445.86,98.13 C445.54,98.76 445.18,99.37 444.90,100.02 C444.62,100.67 444.38,101.33 444.19,102.00 C444.00,102.68 443.89,103.39 443.75,104.08 C443.60,104.77 443.70,105.66 443.31,106.16 C442.92,106.66 442.05,106.78 441.42,107.09 C440.78,107.40 439.91,108.24 439.50,108.00 Z" fill="#f2f2f2" stroke="#555" stroke-width="0.7" stroke-linejoin="round"/><path d="M439.50,108.00 C439.19,107.82 439.33,106.57 439.25,105.85 C439.17,105.13 439.05,104.45 439.00,103.70 C438.95,102.95 438.93,102.13 438.94,101.35 C438.95,100.57 438.92,99.78 439.05,99.02 C439.18,98.25 439.48,97.50 439.72,96.76 C439.96,96.01 440.20,95.26 440.50,94.54 C440.80,93.81 441.12,93.07 441.53,92.42 C441.94,91.76 442.41,91.15 442.96,90.60 C443.50,90.06 444.18,89.62 444.79,89.13 C445.41,88.63 446.00,88.12 446.63,87.65 C447.26,87.18 447.91,86.74 448.56,86.30 C449.21,85.85 449.88,85.43 450.54,85.00 C451.19,84.57 451.84,84.11 452.51,83.71 C453.18,83.30 453.87,82.93 454.56,82.56 C455.26,82.18 455.96,81.83 456.66,81.48 C457.36,81.13 458.07,80.78 458.78,80.44 C459.48,80.09 460.18,79.73 460.90,79.42 C461.62,79.10 462.35,78.82 463.08,78.52 C463.81,78.23 464.54,77.94 465.28,77.66 C466.01,77.37 466.74,77.08 467.47,76.79 C468.20,76.50 468.93,76.20 469.66,75.92 C470.40,75.65 471.13,75.36 471.88,75.12 C472.63,74.89 473.40,74.73 474.16,74.53 C474.92,74.33 475.68,74.13 476.44,73.93 C477.20,73.73 477.96,73.46 478.72,73.33 C479.49,73.19 480.26,73.16 481.04,73.13 C481.81,73.11 482.61,73.13 483.37,73.17 C484.13,73.20 485.01,73.08 485.62,73.36 C486.22,73.63 486.93,74.34 487.00,74.80 C487.07,75.26 486.52,75.78 486.02,76.12 C485.53,76.45 484.69,76.57 484.03,76.81 C483.36,77.04 482.69,77.28 482.02,77.52 C481.36,77.77 480.69,78.03 480.02,78.27 C479.35,78.52 478.67,78.77 477.99,79.00 C477.31,79.23 476.62,79.43 475.94,79.65 C475.25,79.86 474.56,80.07 473.88,80.29 C473.19,80.51 472.51,80.74 471.83,80.97 C471.15,81.20 470.47,81.43 469.79,81.67 C469.11,81.90 468.43,82.15 467.75,82.38 C467.08,82.62 466.40,82.86 465.72,83.10 C465.04,83.34 464.36,83.57 463.69,83.82 C463.01,84.06 462.33,84.29 461.66,84.55 C461.00,84.82 460.33,85.09 459.69,85.42 C459.06,85.75 458.46,86.16 457.85,86.53 C457.24,86.91 456.62,87.28 456.01,87.66 C455.40,88.04 454.79,88.42 454.18,88.80 C453.57,89.19 452.95,89.54 452.36,89.95 C451.76,90.36 451.20,90.80 450.63,91.25 C450.07,91.69 449.51,92.15 448.95,92.60 C448.39,93.05 447.75,93.43 447.27,93.95 C446.79,94.46 446.43,95.08 446.07,95.69 C445.70,96.30 445.41,96.97 445.09,97.61 C444.78,98.26 444.43,98.89 444.16,99.55 C443.89,100.21 443.64,100.89 443.45,101.58 C443.27,102.27 443.19,102.99 443.06,103.69 C442.93,104.40 443.02,105.27 442.69,105.81 C442.37,106.34 441.64,106.55 441.11,106.91 C440.58,107.28 439.81,108.18 439.50,108.00 Z" fill="none" stroke="#888" stroke-width="0.5" stroke-linejoin="round"/><path d="M439.50,108.00 C439.29,107.88 439.54,106.69 439.56,106.03 C439.58,105.37 439.60,104.76 439.61,104.05 C439.63,103.34 439.60,102.51 439.62,101.74 C439.65,100.98 439.65,100.20 439.79,99.44 C439.93,98.69 440.22,97.95 440.46,97.22 C440.71,96.49 440.96,95.76 441.26,95.05 C441.57,94.34 441.89,93.61 442.29,92.96 C442.69,92.31 443.14,91.70 443.67,91.16 C444.21,90.62 444.88,90.19 445.49,89.70 C446.09,89.22 446.68,88.71 447.30,88.25 C447.92,87.78 448.55,87.34 449.20,86.91 C449.84,86.47 450.49,86.06 451.14,85.63 C451.79,85.21 452.43,84.77 453.09,84.36 C453.75,83.96 454.43,83.59 455.11,83.22 C455.79,82.85 456.48,82.48 457.17,82.13 C457.86,81.79 458.56,81.46 459.26,81.12 C459.96,80.79 460.65,80.46 461.36,80.15 C462.08,79.84 462.80,79.57 463.52,79.28 C464.24,79.00 464.97,78.72 465.69,78.44 C466.41,78.16 467.13,77.88 467.86,77.60 C468.58,77.32 469.30,77.03 470.03,76.76 C470.75,76.50 471.47,76.22 472.21,75.99 C472.95,75.75 473.71,75.58 474.46,75.38 C475.21,75.18 475.96,74.98 476.70,74.78 C477.45,74.57 478.19,74.30 478.94,74.15 C479.69,74.00 480.44,73.93 481.20,73.87 C481.96,73.80 482.73,73.78 483.48,73.77 C484.23,73.77 485.10,73.65 485.68,73.82 C486.27,73.99 486.96,74.49 487.00,74.80 C487.04,75.11 486.47,75.42 485.95,75.66 C485.44,75.89 484.60,76.01 483.92,76.20 C483.24,76.39 482.54,76.59 481.86,76.79 C481.17,77.00 480.49,77.22 479.80,77.45 C479.12,77.67 478.43,77.93 477.73,78.15 C477.04,78.38 476.34,78.58 475.64,78.79 C474.94,79.01 474.24,79.21 473.55,79.43 C472.85,79.65 472.16,79.89 471.47,80.13 C470.78,80.37 470.09,80.61 469.40,80.86 C468.72,81.10 468.03,81.35 467.34,81.60 C466.65,81.84 465.97,82.09 465.28,82.34 C464.59,82.58 463.90,82.83 463.22,83.08 C462.54,83.34 461.85,83.59 461.18,83.87 C460.51,84.15 459.84,84.43 459.19,84.76 C458.54,85.09 457.93,85.50 457.30,85.87 C456.67,86.24 456.05,86.62 455.43,87.00 C454.81,87.38 454.19,87.78 453.57,88.17 C452.96,88.56 452.32,88.93 451.72,89.34 C451.12,89.75 450.54,90.20 449.97,90.65 C449.39,91.09 448.83,91.56 448.26,92.02 C447.69,92.48 447.04,92.87 446.55,93.39 C446.06,93.91 445.68,94.52 445.31,95.14 C444.94,95.76 444.64,96.44 444.33,97.10 C444.01,97.76 443.69,98.41 443.42,99.09 C443.15,99.76 442.89,100.45 442.72,101.15 C442.55,101.85 442.48,102.58 442.37,103.30 C442.27,104.02 442.34,104.88 442.08,105.46 C441.82,106.03 441.23,106.31 440.80,106.74 C440.37,107.16 439.71,108.12 439.50,108.00 Z" fill="none" stroke="#777" stroke-width="0.5" stroke-linejoin="round"/><path d="M439.50,108.00 C439.40,107.94 439.75,106.80 439.87,106.20 C439.99,105.60 440.16,105.08 440.23,104.40 C440.30,103.72 440.26,102.89 440.31,102.13 C440.36,101.38 440.37,100.61 440.52,99.87 C440.67,99.13 440.95,98.41 441.20,97.69 C441.45,96.97 441.72,96.26 442.03,95.56 C442.34,94.87 442.65,94.15 443.05,93.51 C443.44,92.87 443.87,92.26 444.39,91.72 C444.92,91.18 445.58,90.76 446.18,90.28 C446.78,89.80 447.36,89.31 447.97,88.85 C448.57,88.39 449.20,87.94 449.83,87.51 C450.46,87.08 451.11,86.68 451.75,86.27 C452.39,85.85 453.02,85.42 453.67,85.02 C454.33,84.63 454.99,84.25 455.66,83.88 C456.32,83.51 456.99,83.14 457.67,82.79 C458.35,82.45 459.05,82.13 459.74,81.81 C460.43,81.49 461.12,81.18 461.83,80.88 C462.53,80.59 463.25,80.32 463.96,80.05 C464.67,79.77 465.39,79.50 466.10,79.23 C466.82,78.96 467.53,78.69 468.24,78.41 C468.96,78.14 469.67,77.87 470.39,77.61 C471.10,77.34 471.82,77.08 472.55,76.85 C473.27,76.62 474.02,76.44 474.75,76.23 C475.49,76.03 476.23,75.83 476.96,75.62 C477.69,75.41 478.42,75.14 479.16,74.97 C479.89,74.80 480.63,74.70 481.36,74.60 C482.10,74.50 482.86,74.43 483.59,74.38 C484.32,74.33 485.18,74.21 485.75,74.28 C486.32,74.35 486.98,74.65 487.00,74.80 C487.02,74.95 486.42,75.06 485.89,75.20 C485.35,75.33 484.51,75.45 483.81,75.60 C483.11,75.74 482.40,75.89 481.69,76.06 C480.99,76.23 480.29,76.42 479.59,76.62 C478.89,76.83 478.18,77.09 477.48,77.31 C476.77,77.53 476.06,77.73 475.34,77.94 C474.63,78.15 473.92,78.35 473.21,78.57 C472.51,78.80 471.81,79.04 471.11,79.29 C470.41,79.53 469.71,79.79 469.02,80.04 C468.32,80.30 467.62,80.55 466.93,80.81 C466.23,81.06 465.54,81.32 464.84,81.57 C464.15,81.83 463.45,82.08 462.76,82.35 C462.07,82.62 461.38,82.89 460.70,83.18 C460.02,83.47 459.34,83.77 458.68,84.10 C458.03,84.44 457.39,84.83 456.75,85.21 C456.11,85.58 455.47,85.95 454.84,86.34 C454.21,86.73 453.59,87.14 452.97,87.54 C452.34,87.93 451.70,88.31 451.09,88.73 C450.48,89.15 449.89,89.60 449.30,90.05 C448.71,90.50 448.14,90.98 447.57,91.44 C446.99,91.91 446.33,92.31 445.83,92.83 C445.33,93.36 444.93,93.97 444.56,94.60 C444.18,95.22 443.87,95.92 443.56,96.59 C443.25,97.26 442.94,97.93 442.68,98.62 C442.42,99.31 442.15,100.01 441.99,100.72 C441.82,101.44 441.77,102.18 441.69,102.91 C441.60,103.64 441.66,104.50 441.46,105.10 C441.26,105.71 440.82,106.08 440.49,106.56 C440.16,107.04 439.60,108.06 439.50,108.00 Z" fill="none" stroke="#999" stroke-width="0.5" stroke-linejoin="round"/></g>
<path d="M439,96 C441,90 447,86 455,81.5 S465,76.5 472,74.5" fill="none" stroke="#333" stroke-width="1" filter="url(#bl)"/>
<ellipse cx="441.2" cy="102.5" rx="2.8" ry="4.6" fill="#e0e0e0" stroke="#999" stroke-width="0.6" filter="url(#bl)"/>
<g filter="url(#bl)"><ellipse cx="441.8" cy="114.2" rx="5.5" ry="3.9" fill="#cfcfcf" stroke="#1a1a1a" stroke-width="1.4"/><ellipse cx="441.8" cy="114.2" rx="3.3" ry="2.145" fill="#a8a8a8" stroke="#888" stroke-width="0.5"/><ellipse cx="442.2" cy="114.2" rx="1.54" ry="0.975" fill="#f4f4f4"/></g>
<line x1="436.0" y1="97" x2="436.0" y2="122.5" stroke="#111" stroke-width="1.8" filter="url(#bl)"/>
<path d="M435.7,121.5 Q439.35,120.89999999999999 447,122.5 L435.7,122.69999999999999 Z" fill="#222" filter="url(#bl)"/>
<text transform="translate(26,139.5) scale(1,1.06)" x="0" y="0" font-size="13.5" text-anchor="start" font-weight="normal" font-style="normal" fill="#000"  stroke="#000" stroke-width="0.22">488-FSC</text>
<rect x="84.9" y="132.4" width="53" height="3.3" fill="#000"/>
<path d="M137,129.2 L147.3,134.05 L137,138.9 Z" fill="#000"/>
<text transform="translate(14.4,128.1) rotate(-90) scale(1,1.06)" font-size="13.5" fill="#000">488-SSC</text>
<text x="672.4" y="140.2" font-size="11.6" text-anchor="end" font-weight="normal" font-style="italic" fill="#b0242e" textLength="106" lengthAdjust="spacingAndGlyphs" stroke="#b0242e" stroke-width="0.22">Event rate per second</text>
<clipPath id="cEm"><rect x="30.0" y="216.2" width="63.7" height="72.0"/></clipPath>
<g clip-path="url(#cEm)"></g>
<line x1="30.0" y1="216.1" x2="30.0" y2="288.9" stroke="#111" stroke-width="1.3"/>
<line x1="29.4" y1="288.2" x2="93.7" y2="288.2" stroke="#111" stroke-width="1.4"/>
<line x1="27.8" y1="288.20" x2="30.0" y2="288.20" stroke="#111" stroke-width="1"/>
<text x="27.4" y="291.20" font-size="8.3" text-anchor="end" font-weight="bold" font-style="normal" fill="#111" stroke="#111" stroke-width="0.3">0</text>
<line x1="27.8" y1="252.40" x2="30.0" y2="252.40" stroke="#111" stroke-width="1"/>
<text x="27.4" y="255.40" font-size="8.3" text-anchor="end" font-weight="bold" font-style="normal" fill="#111" stroke="#111" stroke-width="0.3">10</text>
<line x1="27.8" y1="216.60" x2="30.0" y2="216.60" stroke="#111" stroke-width="1"/>
<text x="27.4" y="219.60" font-size="8.3" text-anchor="end" font-weight="bold" font-style="normal" fill="#111" stroke="#111" stroke-width="0.3">20</text>
<line x1="28.8" y1="270.30" x2="30.0" y2="270.30" stroke="#111" stroke-width="0.9"/>
<line x1="28.8" y1="234.50" x2="30.0" y2="234.50" stroke="#111" stroke-width="0.9"/>
<line x1="47.60" y1="288.2" x2="47.60" y2="290.59999999999997" stroke="#111" stroke-width="1"/>
<text x="47.60" y="297.8" font-size="8.0" text-anchor="middle" font-weight="bold" font-style="normal" fill="#111" textLength="11.6" lengthAdjust="spacingAndGlyphs" stroke="#111" stroke-width="0.35">100</text>
<line x1="65.20" y1="288.2" x2="65.20" y2="290.59999999999997" stroke="#111" stroke-width="1"/>
<text x="65.20" y="297.8" font-size="8.0" text-anchor="middle" font-weight="bold" font-style="normal" fill="#111" textLength="11.6" lengthAdjust="spacingAndGlyphs" stroke="#111" stroke-width="0.35">200</text>
<line x1="82.80" y1="288.2" x2="82.80" y2="290.59999999999997" stroke="#111" stroke-width="1"/>
<text x="82.80" y="297.8" font-size="8.0" text-anchor="middle" font-weight="bold" font-style="normal" fill="#111" textLength="11.6" lengthAdjust="spacingAndGlyphs" stroke="#111" stroke-width="0.35">300</text>
<text x="65.20" y="311.3" font-size="10.7" text-anchor="middle" font-weight="normal" font-style="normal" fill="#111"  stroke="#111" stroke-width="0.22">Size (nm)</text>
<clipPath id="cEp"><rect x="107.0" y="217.6" width="68.69999999999999" height="70.79999999999998"/></clipPath>
<g clip-path="url(#cEp)"><path d="M116.57,288.40 C116.86,287.81 117.15,287.23 117.44,286.64 C117.50,286.52 117.56,286.41 117.61,286.29 C118.14,285.23 118.66,284.43 119.18,283.12 C119.76,281.67 120.34,279.84 120.92,277.84 C121.38,276.24 121.85,274.71 122.31,272.56 C122.54,271.48 122.78,269.04 123.01,269.04 C123.24,269.04 123.47,272.69 123.70,273.62 C123.82,274.08 123.94,274.24 124.05,274.55 C124.46,275.65 124.86,277.84 125.27,277.84 C125.68,277.84 126.08,275.22 126.49,272.56 C126.84,270.28 127.18,266.76 127.53,263.76 C128.00,259.77 128.46,256.22 128.92,251.44 C129.33,247.26 129.74,241.76 130.14,237.36 C130.55,232.96 130.95,228.19 131.36,225.04 C131.65,222.79 131.94,220.79 132.23,219.76 C132.40,219.14 132.58,218.70 132.75,218.70 C132.98,218.70 133.22,223.69 133.45,226.80 C133.68,229.91 133.91,234.06 134.14,237.36 C134.32,239.83 134.49,241.74 134.67,244.40 C134.90,247.95 135.13,253.00 135.36,256.72 C135.71,262.29 136.06,266.81 136.41,270.80 C136.64,273.46 136.87,275.96 137.10,277.84 C137.33,279.72 137.57,281.13 137.80,282.06 C138.26,283.94 138.73,284.61 139.19,284.88 C140.00,285.35 140.81,285.37 141.63,285.58 C142.26,285.76 142.90,285.91 143.54,286.07 C143.83,286.14 144.12,286.21 144.41,286.29 C145.57,286.59 146.73,286.76 147.89,287.34 C148.47,287.64 149.05,288.05 149.63,288.40 L149.63,288.40 C149.05,288.40 148.47,288.40 147.89,288.40 C146.73,288.40 145.57,288.40 144.41,288.40 C144.12,288.40 143.83,288.40 143.54,288.40 C142.90,288.40 142.26,288.40 141.63,288.40 C140.81,288.40 140.00,288.21 139.19,287.84 C138.73,287.62 138.26,287.39 137.80,286.50 C137.57,286.05 137.33,284.40 137.10,282.77 C136.87,281.14 136.64,279.04 136.41,276.71 C136.06,273.22 135.71,269.49 135.36,264.11 C135.13,260.53 134.90,255.34 134.67,251.79 C134.49,249.13 134.32,246.96 134.14,244.75 C133.91,241.81 133.68,239.03 133.45,236.66 C133.22,234.29 132.98,230.53 132.75,230.53 C132.58,230.53 132.40,230.55 132.23,230.60 C131.94,230.68 131.65,232.84 131.36,234.90 C130.95,237.78 130.55,242.98 130.14,247.22 C129.74,251.45 129.33,256.51 128.92,260.31 C128.46,264.66 128.00,267.99 127.53,271.15 C127.18,273.52 126.84,275.78 126.49,277.49 C126.08,279.48 125.68,281.78 125.27,281.78 C124.86,281.78 124.46,281.73 124.05,281.62 C123.94,281.59 123.82,281.17 123.70,281.17 C123.47,281.17 123.24,281.36 123.01,281.36 C122.78,281.36 122.54,280.94 122.31,280.94 C121.85,280.94 121.38,282.10 120.92,282.77 C120.34,283.61 119.76,284.62 119.18,285.58 C118.66,286.45 118.14,288.12 117.61,288.26 C117.56,288.27 117.50,288.27 117.44,288.28 C117.15,288.32 116.86,288.36 116.57,288.40 Z" fill="#70df6c" stroke="#66c856" stroke-width="0.3"/><path d="M107.00,288.40 C110.19,288.40 113.38,288.40 116.57,288.40 C116.92,288.40 117.27,288.09 117.61,287.70 C118.14,287.11 118.66,285.87 119.18,284.88 C119.76,283.78 120.34,282.53 120.92,281.36 C121.38,280.42 121.85,279.17 122.31,278.54 C122.54,278.23 122.78,277.84 123.01,277.84 C123.36,277.84 123.70,279.14 124.05,279.60 C124.46,280.13 124.86,280.66 125.27,280.66 C125.68,280.66 126.08,278.26 126.49,276.08 C126.84,274.21 127.18,271.59 127.53,269.04 C128.00,265.64 128.46,262.25 128.92,257.78 C129.33,253.86 129.74,248.68 130.14,244.40 C130.55,240.12 130.95,235.04 131.36,232.08 C131.65,229.97 131.94,227.90 132.23,227.50 C132.40,227.27 132.58,227.15 132.75,227.15 C132.98,227.15 133.22,231.26 133.45,233.84 C133.68,236.42 133.91,239.59 134.14,242.64 C134.32,244.92 134.49,247.02 134.67,249.68 C134.90,253.23 135.13,258.38 135.36,262.00 C135.71,267.43 136.06,271.39 136.41,275.02 C136.64,277.45 136.87,279.66 137.10,281.36 C137.33,283.06 137.57,284.65 137.80,285.23 C138.26,286.41 138.73,286.72 139.19,286.99 C140.00,287.46 140.81,287.43 141.63,287.70 C142.26,287.91 142.90,288.40 143.54,288.40 C154.56,288.40 165.58,288.40 176.60,288.40" fill="none" stroke="#0a0a0a" stroke-width="1.3" stroke-linejoin="round"/></g>
<line x1="107.0" y1="217.5" x2="107.0" y2="289.09999999999997" stroke="#111" stroke-width="1.3"/>
<line x1="106.4" y1="288.4" x2="175.7" y2="288.4" stroke="#111" stroke-width="1.4"/>
<line x1="104.8" y1="288.40" x2="107.0" y2="288.40" stroke="#111" stroke-width="1"/>
<text x="104.4" y="291.40" font-size="8.3" text-anchor="end" font-weight="bold" font-style="normal" fill="#111" stroke="#111" stroke-width="0.3">0</text>
<line x1="104.8" y1="253.20" x2="107.0" y2="253.20" stroke="#111" stroke-width="1"/>
<text x="104.4" y="256.20" font-size="8.3" text-anchor="end" font-weight="bold" font-style="normal" fill="#111" stroke="#111" stroke-width="0.3">10</text>
<line x1="104.8" y1="218.00" x2="107.0" y2="218.00" stroke="#111" stroke-width="1"/>
<text x="104.4" y="221.00" font-size="8.3" text-anchor="end" font-weight="bold" font-style="normal" fill="#111" stroke="#111" stroke-width="0.3">20</text>
<line x1="105.8" y1="270.80" x2="107.0" y2="270.80" stroke="#111" stroke-width="0.9"/>
<line x1="105.8" y1="235.60" x2="107.0" y2="235.60" stroke="#111" stroke-width="0.9"/>
<line x1="124.40" y1="288.4" x2="124.40" y2="290.79999999999995" stroke="#111" stroke-width="1"/>
<text x="124.40" y="298.0" font-size="8.0" text-anchor="middle" font-weight="bold" font-style="normal" fill="#111" textLength="11.6" lengthAdjust="spacingAndGlyphs" stroke="#111" stroke-width="0.35">100</text>
<line x1="141.80" y1="288.4" x2="141.80" y2="290.79999999999995" stroke="#111" stroke-width="1"/>
<text x="141.80" y="298.0" font-size="8.0" text-anchor="middle" font-weight="bold" font-style="normal" fill="#111" textLength="11.6" lengthAdjust="spacingAndGlyphs" stroke="#111" stroke-width="0.35">200</text>
<line x1="159.20" y1="288.4" x2="159.20" y2="290.79999999999995" stroke="#111" stroke-width="1"/>
<text x="159.20" y="298.0" font-size="8.0" text-anchor="middle" font-weight="bold" font-style="normal" fill="#111" textLength="11.6" lengthAdjust="spacingAndGlyphs" stroke="#111" stroke-width="0.35">300</text>
<text x="141.80" y="311.5" font-size="10.7" text-anchor="middle" font-weight="normal" font-style="normal" fill="#111"  stroke="#111" stroke-width="0.22">Size (nm)</text>
<clipPath id="cFm"><rect x="188.5" y="216.79999999999998" width="68.5" height="71.4"/></clipPath>
<g clip-path="url(#cFm)"><path d="M201.10,288.20 C201.45,287.31 201.80,286.42 202.15,285.54 C202.27,285.24 202.38,285.09 202.50,284.65 C202.85,283.32 203.20,279.32 203.55,276.66 C203.67,275.77 203.78,275.04 203.90,274.00 C204.13,271.92 204.37,268.59 204.60,265.89 C204.78,263.86 204.95,263.22 205.12,259.80 C205.24,257.52 205.36,254.00 205.47,251.10 C205.59,248.20 205.71,242.40 205.82,242.40 C206.00,242.40 206.17,265.12 206.35,266.90 C206.58,269.27 206.82,270.45 207.05,270.45 C207.28,270.45 207.52,213.65 207.75,213.65 C207.81,213.65 207.87,213.65 207.93,213.65 C208.16,213.65 208.39,213.65 208.62,213.65 C208.92,213.65 209.21,213.65 209.50,213.65 C209.73,213.65 209.97,213.65 210.20,213.65 C210.43,213.65 210.67,213.65 210.90,213.65 C211.02,213.65 211.13,213.65 211.25,213.65 C211.43,213.65 211.60,229.62 211.78,237.61 C211.83,240.27 211.89,244.12 211.95,245.60 C212.18,251.52 212.42,254.47 212.65,254.47 C213.00,254.47 213.35,252.70 213.70,249.15 C213.76,248.56 213.82,245.36 213.88,243.47 C214.11,235.90 214.34,220.75 214.57,220.75 C214.75,220.75 214.92,245.60 215.10,245.60 C215.16,245.60 215.22,240.87 215.28,238.50 C215.39,233.77 215.51,224.30 215.62,224.30 C215.80,224.30 215.97,245.60 216.15,245.60 C216.38,245.60 216.62,245.60 216.85,245.60 C216.91,245.60 216.97,245.60 217.03,245.60 C217.43,245.60 217.84,213.65 218.25,213.65 C218.66,213.65 219.07,213.65 219.47,213.65 C220.29,213.65 221.11,213.65 221.93,213.65 C222.74,213.65 223.56,213.65 224.38,213.65 C224.49,213.65 224.61,213.65 224.72,213.65 C224.84,213.65 224.96,224.30 225.07,224.30 C225.25,224.30 225.42,224.30 225.60,224.30 C225.95,224.30 226.30,224.30 226.65,224.30 C226.71,224.30 226.77,224.30 226.82,224.30 C226.94,224.30 227.06,213.65 227.18,213.65 C227.41,213.65 227.64,213.65 227.88,213.65 C228.28,213.65 228.69,213.65 229.10,213.65 C229.57,213.65 230.03,213.65 230.50,213.65 C230.85,213.65 231.20,213.65 231.55,213.65 C231.96,213.65 232.37,213.65 232.78,213.65 C232.95,213.65 233.12,234.95 233.30,242.05 C233.59,253.88 233.88,255.29 234.18,259.80 C234.58,266.11 234.99,268.19 235.40,270.45 C236.04,274.00 236.68,275.77 237.32,275.77 C237.85,275.77 238.38,273.84 238.90,272.87 C239.02,272.66 239.13,272.41 239.25,272.22 C239.60,271.66 239.95,271.57 240.30,271.24 C240.71,270.86 241.12,270.09 241.53,270.09 C241.93,270.09 242.34,272.34 242.75,274.00 C243.22,275.90 243.68,279.27 244.15,281.10 C244.56,282.70 244.97,283.64 245.38,284.65 C245.78,285.66 246.19,286.55 246.60,287.13 C246.78,287.39 246.95,287.55 247.12,287.76 L247.12,287.76 C246.95,287.73 246.78,287.73 246.60,287.67 C246.19,287.53 245.78,286.19 245.38,285.71 C244.97,285.24 244.56,284.83 244.15,284.83 C243.68,284.83 243.22,285.71 242.75,285.71 C242.34,285.71 241.93,285.66 241.53,285.54 C241.12,285.42 240.71,284.50 240.30,284.43 C239.95,284.37 239.60,284.40 239.25,284.34 C239.13,284.32 239.02,284.22 238.90,284.15 C238.38,283.83 237.85,283.16 237.32,282.70 C236.68,282.13 236.04,282.16 235.40,281.10 C234.99,280.42 234.58,276.42 234.18,272.58 C233.88,269.84 233.59,262.82 233.30,262.82 C233.12,262.82 232.95,265.83 232.78,265.83 C232.37,265.83 231.96,254.89 231.55,250.92 C231.20,247.53 230.85,242.94 230.50,242.94 C230.03,242.94 229.57,245.00 229.10,246.66 C228.69,248.12 228.28,250.89 227.88,251.99 C227.64,252.62 227.41,253.21 227.18,253.21 C227.06,253.21 226.94,248.49 226.82,248.49 C226.77,248.49 226.71,248.79 226.65,248.79 C226.30,248.79 225.95,245.41 225.60,244.53 C225.42,244.10 225.25,243.62 225.07,243.62 C224.96,243.62 224.84,248.34 224.72,248.34 C224.61,248.34 224.49,247.73 224.38,247.73 C223.56,247.73 222.74,249.42 221.93,250.92 C221.11,252.43 220.29,252.88 219.47,256.78 C219.07,258.73 218.66,264.24 218.25,264.24 C217.84,264.24 217.43,256.18 217.03,256.18 C216.97,256.18 216.91,257.31 216.85,257.31 C216.62,257.31 216.38,256.61 216.15,256.61 C215.97,256.61 215.80,266.72 215.62,266.72 C215.51,266.72 215.39,261.20 215.28,259.27 C215.22,258.30 215.16,256.78 215.10,256.78 C214.92,256.78 214.75,272.40 214.57,272.40 C214.34,272.40 214.11,267.59 213.88,265.30 C213.82,264.73 213.76,263.60 213.70,263.60 C213.35,263.60 213.00,267.61 212.65,267.79 C212.42,267.91 212.18,267.85 211.95,267.96 C211.89,267.99 211.83,270.36 211.78,270.89 C211.60,272.49 211.43,273.29 211.25,273.29 C211.13,273.29 211.02,269.36 210.90,266.90 C210.67,261.99 210.43,252.61 210.20,248.26 C209.97,243.91 209.73,240.81 209.50,240.81 C209.21,240.81 208.92,258.10 208.62,266.90 C208.39,273.94 208.16,288.20 207.93,288.20 C207.87,288.20 207.81,288.20 207.75,288.20 C207.52,288.20 207.28,284.47 207.05,282.70 C206.82,280.92 206.58,277.55 206.35,277.55 C206.17,277.55 206.00,286.28 205.82,286.28 C205.71,286.28 205.59,281.11 205.47,279.59 C205.36,278.07 205.24,277.23 205.12,277.16 C204.95,277.05 204.78,276.99 204.60,276.99 C204.37,276.99 204.13,278.00 203.90,278.97 C203.78,279.45 203.67,280.10 203.55,280.66 C203.20,282.32 202.85,283.19 202.50,285.45 C202.38,286.20 202.27,287.87 202.15,287.93 C201.80,288.11 201.45,288.11 201.10,288.20 Z" fill="#70df6c" stroke="#66c856" stroke-width="0.3"/><path d="M188.50,288.20 C192.70,288.20 196.90,288.20 201.10,288.20 C201.45,288.20 201.80,287.84 202.15,287.13 C202.62,286.19 203.08,281.97 203.55,279.32 C203.90,277.34 204.25,274.90 204.60,273.29 C204.89,271.95 205.18,270.09 205.47,270.09 C205.77,270.09 206.06,272.35 206.35,274.00 C206.58,275.32 206.82,278.62 207.05,278.62 C207.34,278.62 207.63,272.74 207.93,266.90 C208.16,262.22 208.39,254.50 208.62,249.15 C208.92,242.46 209.21,231.75 209.50,231.75 C209.73,231.75 209.97,233.83 210.20,236.72 C210.43,239.62 210.67,245.59 210.90,249.15 C211.19,253.60 211.48,257.43 211.78,259.80 C212.07,262.17 212.36,263.35 212.65,263.35 C213.06,263.35 213.47,259.74 213.88,258.02 C214.34,256.06 214.81,252.34 215.28,252.34 C215.80,252.34 216.32,253.41 216.85,253.41 C217.32,253.41 217.78,249.32 218.25,247.38 C218.66,245.67 219.07,243.71 219.47,242.40 C220.29,239.80 221.11,239.51 221.93,238.50 C222.74,237.49 223.56,236.37 224.38,236.37 C224.78,236.37 225.19,236.98 225.60,237.79 C225.95,238.49 226.30,240.63 226.65,240.63 C227.06,240.63 227.47,240.04 227.88,239.21 C228.28,238.38 228.69,236.63 229.10,235.66 C229.57,234.55 230.03,233.17 230.50,233.17 C230.85,233.17 231.20,236.23 231.55,238.50 C231.96,241.14 232.37,243.97 232.78,248.44 C233.24,253.55 233.71,263.35 234.18,268.32 C234.58,272.67 234.99,276.35 235.40,277.55 C236.04,279.44 236.68,280.39 237.32,280.39 C237.85,280.39 238.38,280.39 238.90,280.39 C239.37,280.39 239.83,280.03 240.30,280.03 C240.71,280.03 241.12,280.15 241.53,280.39 C241.93,280.63 242.34,281.32 242.75,281.81 C243.22,282.37 243.68,282.95 244.15,283.58 C244.56,284.14 244.97,284.71 245.38,285.36 C245.78,286.01 246.19,287.08 246.60,287.49 C247.07,287.96 247.53,288.20 248.00,288.20 C251.21,288.20 254.42,288.20 257.62,288.20" fill="none" stroke="#0a0a0a" stroke-width="1.3" stroke-linejoin="round"/></g>
<line x1="188.5" y1="216.7" x2="188.5" y2="288.9" stroke="#111" stroke-width="1.3"/>
<line x1="187.9" y1="288.2" x2="257.0" y2="288.2" stroke="#111" stroke-width="1.4"/>
<line x1="186.3" y1="288.20" x2="188.5" y2="288.20" stroke="#111" stroke-width="1"/>
<text x="185.9" y="291.20" font-size="8.3" text-anchor="end" font-weight="bold" font-style="normal" fill="#111" stroke="#111" stroke-width="0.3">0</text>
<line x1="186.3" y1="252.70" x2="188.5" y2="252.70" stroke="#111" stroke-width="1"/>
<text x="185.9" y="255.70" font-size="8.3" text-anchor="end" font-weight="bold" font-style="normal" fill="#111" stroke="#111" stroke-width="0.3">10</text>
<line x1="186.3" y1="217.20" x2="188.5" y2="217.20" stroke="#111" stroke-width="1"/>
<text x="185.9" y="220.20" font-size="8.3" text-anchor="end" font-weight="bold" font-style="normal" fill="#111" stroke="#111" stroke-width="0.3">20</text>
<line x1="187.3" y1="270.45" x2="188.5" y2="270.45" stroke="#111" stroke-width="0.9"/>
<line x1="187.3" y1="234.95" x2="188.5" y2="234.95" stroke="#111" stroke-width="0.9"/>
<line x1="206.00" y1="288.2" x2="206.00" y2="290.59999999999997" stroke="#111" stroke-width="1"/>
<text x="206.00" y="297.8" font-size="8.0" text-anchor="middle" font-weight="bold" font-style="normal" fill="#111" textLength="11.6" lengthAdjust="spacingAndGlyphs" stroke="#111" stroke-width="0.35">100</text>
<line x1="223.50" y1="288.2" x2="223.50" y2="290.59999999999997" stroke="#111" stroke-width="1"/>
<text x="223.50" y="297.8" font-size="8.0" text-anchor="middle" font-weight="bold" font-style="normal" fill="#111" textLength="11.6" lengthAdjust="spacingAndGlyphs" stroke="#111" stroke-width="0.35">200</text>
<line x1="241.00" y1="288.2" x2="241.00" y2="290.59999999999997" stroke="#111" stroke-width="1"/>
<text x="241.00" y="297.8" font-size="8.0" text-anchor="middle" font-weight="bold" font-style="normal" fill="#111" textLength="11.6" lengthAdjust="spacingAndGlyphs" stroke="#111" stroke-width="0.35">300</text>
<text x="223.50" y="311.3" font-size="10.7" text-anchor="middle" font-weight="normal" font-style="normal" fill="#111"  stroke="#111" stroke-width="0.22">Size (nm)</text>
<clipPath id="cFp"><rect x="271.3" y="218.1" width="69.39999999999998" height="70.9"/></clipPath>
<g clip-path="url(#cFp)"><path d="M276.49,289.00 C276.84,288.41 277.18,288.41 277.53,287.24 C277.67,286.75 277.82,253.75 277.96,253.75 C278.10,253.75 278.25,285.11 278.39,285.48 C278.85,286.65 279.32,287.24 279.78,287.24 C280.41,287.24 281.05,286.65 281.68,285.48 C281.97,284.94 282.26,279.60 282.55,276.66 C282.60,276.07 282.66,275.55 282.72,274.90 C282.95,272.31 283.18,266.91 283.41,264.32 C283.58,262.39 283.76,261.51 283.93,260.10 C284.04,259.16 284.16,257.27 284.28,257.27 C284.39,257.27 284.51,259.15 284.62,260.10 C284.79,261.50 284.97,263.03 285.14,264.32 C285.31,265.62 285.49,266.68 285.66,267.85 C285.83,269.03 286.00,271.38 286.18,271.38 C286.29,271.38 286.41,267.85 286.52,266.09 C286.64,264.32 286.75,262.62 286.87,260.80 C286.99,258.98 287.10,257.04 287.22,255.16 C287.39,252.34 287.56,252.34 287.74,246.70 C287.79,244.82 287.85,234.95 287.91,229.07 C287.97,223.20 288.02,211.45 288.08,211.45 C288.25,211.45 288.43,211.45 288.60,211.45 C288.66,211.45 288.72,211.45 288.77,211.45 C288.89,211.45 289.00,223.98 289.12,230.25 C289.18,233.38 289.23,236.68 289.29,239.65 C289.41,245.59 289.52,250.22 289.64,255.51 C289.75,260.80 289.87,267.61 289.98,271.38 C290.27,280.78 290.56,285.48 290.85,285.48 C291.31,285.48 291.77,285.48 292.23,285.48 C292.41,285.48 292.58,273.14 292.75,266.97 C292.81,264.91 292.87,263.27 292.93,260.80 C293.16,250.93 293.39,211.45 293.62,211.45 C293.79,211.45 293.96,211.45 294.14,211.45 C294.42,211.45 294.71,211.45 295.00,211.45 C295.23,211.45 295.46,211.45 295.69,211.45 C295.92,211.45 296.15,211.45 296.38,211.45 C296.62,211.45 296.85,211.45 297.08,211.45 C297.31,211.45 297.54,211.45 297.77,211.45 C297.94,211.45 298.12,211.45 298.29,211.45 C298.92,211.45 299.56,211.45 300.19,211.45 C300.42,211.45 300.65,211.45 300.88,211.45 C301.11,211.45 301.34,211.45 301.57,211.45 C301.75,211.45 301.92,211.45 302.09,211.45 C302.32,211.45 302.56,211.45 302.79,211.45 C303.02,211.45 303.25,211.45 303.48,211.45 C303.71,211.45 303.94,211.45 304.17,211.45 C304.75,211.45 305.32,211.45 305.90,211.45 C306.19,211.45 306.48,216.74 306.76,222.03 C307.05,227.31 307.34,236.12 307.63,243.18 C307.92,250.23 308.21,259.29 308.50,264.32 C308.90,271.38 309.30,273.53 309.71,274.90 C310.05,276.07 310.40,276.66 310.74,276.66 C311.21,276.66 311.67,274.72 312.13,273.14 C312.76,270.97 313.40,267.43 314.03,264.32 C314.49,262.06 314.95,261.97 315.42,257.27 C315.65,254.92 315.88,246.70 316.11,246.70 C316.34,246.70 316.57,257.27 316.80,257.27 C317.20,257.27 317.61,254.36 318.01,250.22 C318.47,245.50 318.93,237.57 319.39,229.07 C319.68,223.76 319.97,211.45 320.26,211.45 C320.43,211.45 320.61,213.80 320.78,214.98 C320.95,216.15 321.12,216.15 321.30,218.50 C321.41,220.07 321.53,229.47 321.64,234.95 C321.70,237.69 321.76,240.83 321.82,243.18 C322.05,252.57 322.28,254.14 322.51,257.27 C322.85,261.97 323.20,263.15 323.55,264.32 C323.89,265.50 324.24,266.09 324.58,266.09 C324.93,266.09 325.28,266.09 325.62,266.09 C325.97,266.09 326.31,268.48 326.66,269.61 C327.24,271.50 327.81,274.06 328.39,274.90 C328.51,275.07 328.62,275.16 328.74,275.29 C329.14,275.75 329.54,276.00 329.95,276.66 C330.12,276.95 330.29,277.30 330.47,277.62 C330.93,278.48 331.39,279.40 331.85,280.19 C331.91,280.29 331.97,280.38 332.02,280.48 C332.54,281.36 333.06,282.24 333.58,283.12 C333.70,283.32 333.81,283.52 333.93,283.71 C334.33,284.37 334.73,284.86 335.14,285.44 C335.31,285.69 335.48,285.95 335.66,286.18 C336.41,287.16 337.16,287.41 337.91,287.94 C338.37,288.27 338.83,288.55 339.29,288.85 L339.29,288.85 C338.83,288.81 338.37,288.81 337.91,288.72 C337.16,288.58 336.41,287.96 335.66,287.63 C335.48,287.56 335.31,287.49 335.14,287.42 C334.73,287.26 334.33,287.12 333.93,286.99 C333.81,286.95 333.70,286.92 333.58,286.87 C333.06,286.66 332.54,286.13 332.02,285.59 C331.97,285.53 331.91,285.46 331.85,285.40 C331.39,284.91 330.93,284.61 330.47,283.93 C330.29,283.68 330.12,283.38 329.95,283.10 C329.54,282.44 329.14,281.53 328.74,281.06 C328.62,280.93 328.51,280.83 328.39,280.72 C327.81,280.15 327.24,280.10 326.66,279.31 C326.31,278.83 325.97,278.18 325.62,277.53 C325.28,276.87 324.93,276.30 324.58,275.39 C324.24,274.49 323.89,273.68 323.55,272.08 C323.20,270.48 322.85,268.27 322.51,265.81 C322.28,264.16 322.05,261.69 321.82,260.39 C321.76,260.07 321.70,259.76 321.64,259.51 C321.53,259.00 321.41,259.03 321.30,258.52 C321.12,257.74 320.95,254.91 320.78,254.91 C320.61,254.91 320.43,257.46 320.26,258.46 C319.97,260.14 319.68,260.69 319.39,262.03 C318.93,264.18 318.47,267.67 318.01,269.61 C317.61,271.31 317.20,272.34 316.80,273.37 C316.57,273.95 316.34,274.91 316.11,274.91 C315.88,274.91 315.65,274.34 315.42,274.34 C314.95,274.34 314.49,274.79 314.03,275.57 C313.40,276.64 312.76,279.42 312.13,280.89 C311.67,281.97 311.21,283.64 310.74,283.64 C310.40,283.64 310.05,283.05 309.71,281.88 C309.30,280.51 308.90,278.14 308.50,272.08 C308.21,267.75 307.92,261.21 307.63,254.81 C307.34,248.40 307.05,240.24 306.76,233.66 C306.48,227.08 306.19,216.62 305.90,215.33 C305.32,212.74 304.75,211.45 304.17,211.45 C303.94,211.45 303.71,220.50 303.48,226.96 C303.25,233.42 303.02,244.54 302.79,250.22 C302.56,255.91 302.32,261.08 302.09,261.08 C301.92,261.08 301.75,255.20 301.57,250.22 C301.34,243.59 301.11,229.54 300.88,223.08 C300.65,216.62 300.42,211.45 300.19,211.45 C299.56,211.45 298.92,211.45 298.29,211.45 C298.12,211.45 297.94,222.68 297.77,226.96 C297.54,232.67 297.31,239.37 297.08,239.37 C296.85,239.37 296.62,235.49 296.38,232.78 C296.15,230.06 295.92,225.99 295.69,223.08 C295.46,220.17 295.23,217.22 295.00,215.33 C294.71,212.96 294.42,211.45 294.14,211.45 C293.96,211.45 293.79,233.43 293.62,242.47 C293.39,254.52 293.16,261.27 292.93,271.66 C292.87,274.25 292.81,277.48 292.75,279.57 C292.58,285.86 292.41,289.00 292.23,289.00 C291.77,289.00 291.31,289.00 290.85,289.00 C290.56,289.00 290.27,289.00 289.98,289.00 C289.87,289.00 289.75,288.82 289.64,288.47 C289.52,288.12 289.41,280.85 289.29,277.13 C289.23,275.28 289.18,273.80 289.12,271.61 C289.00,267.24 288.89,260.53 288.77,254.36 C288.72,251.28 288.66,244.80 288.60,244.80 C288.43,244.80 288.25,256.59 288.08,260.50 C288.02,261.80 287.97,263.04 287.91,263.97 C287.85,264.90 287.79,265.26 287.74,266.09 C287.56,268.57 287.39,275.11 287.22,276.87 C287.10,278.05 286.99,278.04 286.87,278.64 C286.75,279.23 286.64,280.43 286.52,280.43 C286.41,280.43 286.29,280.22 286.18,280.22 C286.00,280.22 285.83,281.03 285.66,281.03 C285.49,281.03 285.31,280.74 285.14,280.61 C284.97,280.48 284.79,280.26 284.62,280.26 C284.51,280.26 284.39,281.19 284.28,281.51 C284.16,281.83 284.04,281.74 283.93,282.20 C283.76,282.88 283.58,286.88 283.41,287.59 C283.18,288.53 282.95,289.00 282.72,289.00 C282.66,289.00 282.60,289.00 282.55,289.00 C282.26,289.00 281.97,289.00 281.68,289.00 C281.05,289.00 280.41,289.00 279.78,289.00 C279.32,289.00 278.85,289.00 278.39,289.00 C278.25,289.00 278.10,278.18 277.96,278.18 C277.82,278.18 277.67,289.00 277.53,289.00 C277.18,289.00 276.84,289.00 276.49,289.00 Z" fill="#70df6c" stroke="#66c856" stroke-width="0.3"/><path d="M271.30,289.00 C273.03,289.00 274.76,289.00 276.49,289.00 C276.84,289.00 277.18,289.00 277.53,289.00 C277.67,289.00 277.82,275.96 277.96,275.96 C278.10,275.96 278.25,289.00 278.39,289.00 C278.85,289.00 279.32,289.00 279.78,289.00 C280.70,289.00 281.62,289.00 282.55,289.00 C282.83,289.00 283.12,287.75 283.41,285.48 C283.58,284.11 283.76,281.07 283.93,280.19 C284.16,279.01 284.39,278.43 284.62,278.43 C284.97,278.43 285.31,279.83 285.66,279.83 C285.95,279.83 286.24,279.60 286.52,279.13 C286.75,278.75 286.99,277.72 287.22,274.90 C287.45,272.08 287.68,266.32 287.91,260.80 C288.14,255.28 288.37,241.76 288.60,241.76 C288.77,241.76 288.95,260.56 289.12,267.85 C289.29,275.14 289.47,282.07 289.64,285.48 C289.75,287.75 289.87,289.00 289.98,289.00 C290.73,289.00 291.48,289.00 292.23,289.00 C292.41,289.00 292.58,283.54 292.75,278.43 C293.04,269.91 293.33,254.29 293.62,239.65 C293.79,230.87 293.96,211.45 294.14,211.45 C294.42,211.45 294.71,212.82 295.00,214.98 C295.23,216.70 295.46,219.38 295.69,222.03 C295.92,224.67 296.15,228.37 296.38,230.84 C296.62,233.31 296.85,236.83 297.08,236.83 C297.31,236.83 297.54,230.74 297.77,225.55 C297.94,221.66 298.12,211.45 298.29,211.45 C298.92,211.45 299.56,211.45 300.19,211.45 C300.42,211.45 300.65,216.15 300.88,222.03 C301.11,227.90 301.34,240.67 301.57,246.70 C301.75,251.22 301.92,256.57 302.09,256.57 C302.32,256.57 302.56,251.87 302.79,246.70 C303.02,241.53 303.25,231.43 303.48,225.55 C303.71,219.68 303.94,211.45 304.17,211.45 C304.75,211.45 305.32,212.62 305.90,214.98 C306.19,216.15 306.48,226.14 306.76,232.60 C307.05,239.06 307.34,247.29 307.63,253.75 C307.92,260.21 308.21,266.97 308.50,271.38 C308.90,277.54 309.30,279.87 309.71,281.25 C310.05,282.42 310.40,283.01 310.74,283.01 C311.21,283.01 311.67,281.31 312.13,280.19 C312.76,278.65 313.40,275.81 314.03,274.55 C314.49,273.63 314.95,273.23 315.42,272.79 C315.88,272.34 316.34,272.49 316.80,271.90 C317.20,271.39 317.61,269.77 318.01,267.85 C318.47,265.66 318.93,261.80 319.39,259.04 C319.86,256.28 320.32,251.28 320.78,251.28 C321.07,251.28 321.35,254.98 321.64,257.27 C321.93,259.57 322.22,262.82 322.51,265.03 C322.85,267.68 323.20,269.79 323.55,271.38 C323.89,272.96 324.24,273.63 324.58,274.55 C325.28,276.39 325.97,277.43 326.66,278.43 C327.35,279.42 328.04,279.60 328.74,280.54 C329.31,281.32 329.89,282.57 330.47,283.36 C330.99,284.07 331.50,284.59 332.02,285.12 C332.54,285.65 333.06,286.18 333.58,286.53 C334.10,286.88 334.62,286.99 335.14,287.24 C336.06,287.67 336.98,288.38 337.91,288.65 C338.71,288.88 339.52,288.88 340.33,289.00" fill="none" stroke="#0a0a0a" stroke-width="1.3" stroke-linejoin="round"/></g>
<line x1="271.3" y1="218.0" x2="271.3" y2="289.7" stroke="#111" stroke-width="1.3"/>
<line x1="270.7" y1="289.0" x2="340.7" y2="289.0" stroke="#111" stroke-width="1.4"/>
<line x1="269.1" y1="289.00" x2="271.3" y2="289.00" stroke="#111" stroke-width="1"/>
<text x="268.7" y="292.00" font-size="8.3" text-anchor="end" font-weight="bold" font-style="normal" fill="#111" stroke="#111" stroke-width="0.3">0</text>
<line x1="269.1" y1="253.75" x2="271.3" y2="253.75" stroke="#111" stroke-width="1"/>
<text x="268.7" y="256.75" font-size="8.3" text-anchor="end" font-weight="bold" font-style="normal" fill="#111" stroke="#111" stroke-width="0.3">10</text>
<line x1="269.1" y1="218.50" x2="271.3" y2="218.50" stroke="#111" stroke-width="1"/>
<text x="268.7" y="221.50" font-size="8.3" text-anchor="end" font-weight="bold" font-style="normal" fill="#111" stroke="#111" stroke-width="0.3">20</text>
<line x1="270.1" y1="271.38" x2="271.3" y2="271.38" stroke="#111" stroke-width="0.9"/>
<line x1="270.1" y1="236.12" x2="271.3" y2="236.12" stroke="#111" stroke-width="0.9"/>
<line x1="288.60" y1="289.0" x2="288.60" y2="291.4" stroke="#111" stroke-width="1"/>
<text x="288.60" y="298.6" font-size="8.0" text-anchor="middle" font-weight="bold" font-style="normal" fill="#111" textLength="11.6" lengthAdjust="spacingAndGlyphs" stroke="#111" stroke-width="0.35">100</text>
<line x1="305.90" y1="289.0" x2="305.90" y2="291.4" stroke="#111" stroke-width="1"/>
<text x="305.90" y="298.6" font-size="8.0" text-anchor="middle" font-weight="bold" font-style="normal" fill="#111" textLength="11.6" lengthAdjust="spacingAndGlyphs" stroke="#111" stroke-width="0.35">200</text>
<line x1="323.20" y1="289.0" x2="323.20" y2="291.4" stroke="#111" stroke-width="1"/>
<text x="323.20" y="298.6" font-size="8.0" text-anchor="middle" font-weight="bold" font-style="normal" fill="#111" textLength="11.6" lengthAdjust="spacingAndGlyphs" stroke="#111" stroke-width="0.35">300</text>
<text x="305.90" y="312.1" font-size="10.7" text-anchor="middle" font-weight="normal" font-style="normal" fill="#111"  stroke="#111" stroke-width="0.22">Size (nm)</text>
<clipPath id="cGm"><rect x="354.3" y="217.6" width="66.39999999999998" height="71.20000000000002"/></clipPath>
<g clip-path="url(#cGm)"><path d="M360.46,288.80 C360.75,288.45 361.05,288.11 361.34,287.74 C361.93,286.99 362.51,286.91 363.10,285.26 C363.57,283.94 364.04,281.11 364.51,279.03 C364.63,278.51 364.74,277.47 364.86,277.47 C365.09,277.47 365.33,277.72 365.56,278.18 C365.92,278.86 366.27,280.79 366.62,281.72 C366.74,282.03 366.85,282.29 366.97,282.57 C367.44,283.70 367.91,285.97 368.38,285.97 C368.50,285.97 368.61,285.87 368.73,285.83 C369.20,285.64 369.67,285.64 370.14,285.26 C370.73,284.79 371.31,281.48 371.90,278.18 C372.60,274.22 373.31,262.25 374.01,262.25 C374.36,262.25 374.72,269.48 375.07,271.10 C375.19,271.64 375.30,271.89 375.42,272.28 C375.65,273.07 375.89,274.64 376.12,274.64 C376.42,274.64 376.71,272.67 377.00,271.69 C377.06,271.49 377.12,271.30 377.18,271.10 C377.53,269.90 377.88,268.53 378.24,267.24 C378.53,266.17 378.82,264.02 379.12,264.02 C379.64,264.02 380.17,272.71 380.70,274.64 C381.35,277.00 381.99,278.18 382.64,278.18 C383.16,278.18 383.69,275.23 384.22,271.10 C384.57,268.35 384.92,265.19 385.28,260.48 C385.69,254.99 386.10,246.96 386.51,239.24 C386.86,232.63 387.21,218.00 387.56,218.00 C387.86,218.00 388.15,227.83 388.44,235.70 C388.50,237.27 388.56,239.00 388.62,240.66 C388.85,247.26 389.09,256.18 389.32,260.48 C389.44,262.63 389.56,263.63 389.68,265.20 C389.91,268.35 390.15,272.52 390.38,274.64 C390.56,276.23 390.73,276.66 390.91,277.67 C391.14,279.02 391.38,280.93 391.61,281.72 C391.96,282.90 392.32,283.49 392.67,283.49 C393.37,283.49 394.08,282.34 394.78,281.72 C395.43,281.15 396.07,281.13 396.72,279.95 C397.24,278.98 397.77,275.17 398.30,271.10 C398.89,266.58 399.47,259.99 400.06,253.40 C400.59,247.47 401.12,233.93 401.64,233.93 C402.00,233.93 402.35,248.83 402.70,253.40 C402.76,254.16 402.82,254.82 402.88,255.52 C403.40,261.90 403.93,271.37 404.46,274.64 C405.22,279.36 405.99,281.72 406.75,281.72 C407.45,281.72 408.16,281.48 408.86,281.01 C409.45,280.62 410.03,278.95 410.62,278.18 C411.21,277.41 411.79,276.41 412.38,276.41 C413.26,276.41 414.14,277.41 415.02,278.18 C415.61,278.69 416.19,279.95 416.78,279.95 C417.37,279.95 417.95,275.29 418.54,271.10 C418.95,268.17 419.36,264.61 419.77,260.48 C420.18,256.35 420.59,251.04 421.00,246.32 L421.00,277.30 C420.59,277.96 420.18,278.48 419.77,279.29 C419.36,280.10 418.95,281.30 418.54,282.16 C417.95,283.39 417.37,285.26 416.78,285.26 C416.19,285.26 415.61,285.26 415.02,285.26 C414.14,285.26 413.26,284.82 412.38,284.82 C411.79,284.82 411.21,284.82 410.62,284.82 C410.03,284.82 409.45,284.88 408.86,284.99 C408.16,285.14 407.45,286.15 406.75,286.15 C405.99,286.15 405.22,284.52 404.46,281.28 C403.93,279.03 403.40,273.93 402.88,270.57 C402.82,270.20 402.76,269.81 402.70,269.46 C402.35,267.31 402.00,264.46 401.64,264.46 C401.12,264.46 400.59,266.54 400.06,268.89 C399.47,271.50 398.89,277.17 398.30,279.95 C397.77,282.45 397.24,284.78 396.72,285.26 C396.07,285.85 395.43,285.93 394.78,286.15 C394.08,286.38 393.37,286.59 392.67,286.59 C392.32,286.59 391.96,285.97 391.61,285.97 C391.38,285.97 391.14,286.27 390.91,286.27 C390.73,286.27 390.56,284.36 390.38,283.62 C390.15,282.63 389.91,282.89 389.68,281.43 C389.56,280.69 389.44,277.64 389.32,275.97 C389.09,272.62 388.85,269.40 388.62,267.65 C388.56,267.21 388.50,266.92 388.44,266.53 C388.15,264.56 387.86,259.15 387.56,259.15 C387.21,259.15 386.86,262.96 386.51,265.79 C386.10,269.09 385.69,275.16 385.28,278.18 C384.92,280.77 384.57,282.51 384.22,283.49 C383.69,284.96 383.16,285.70 382.64,285.70 C381.99,285.70 381.35,284.22 380.70,283.49 C380.17,282.89 379.64,281.72 379.12,281.72 C378.82,281.72 378.53,281.75 378.24,281.80 C377.88,281.86 377.53,282.15 377.18,282.35 C377.12,282.39 377.06,282.46 377.00,282.46 C376.71,282.46 376.42,280.98 376.12,280.98 C375.89,280.98 375.65,280.98 375.42,280.98 C375.30,280.98 375.19,280.95 375.07,280.95 C374.72,280.95 374.36,281.74 374.01,282.16 C373.31,283.00 372.60,283.55 371.90,284.82 C371.31,285.88 370.73,288.80 370.14,288.80 C369.67,288.80 369.20,288.61 368.73,288.22 C368.61,288.12 368.50,287.76 368.38,287.56 C367.91,286.75 367.44,286.52 366.97,285.93 C366.85,285.79 366.74,285.62 366.62,285.48 C366.27,285.05 365.92,284.38 365.56,284.38 C365.33,284.38 365.09,285.49 364.86,285.73 C364.74,285.85 364.63,285.83 364.51,285.93 C364.04,286.34 363.57,288.80 363.10,288.80 C362.51,288.80 361.93,288.80 361.34,288.80 C361.05,288.80 360.75,288.80 360.46,288.80 Z" fill="#70df6c" stroke="#66c856" stroke-width="0.3"/><path d="M354.30,288.80 C356.65,288.80 358.99,288.80 361.34,288.80 C361.93,288.80 362.51,288.56 363.10,288.09 C363.57,287.71 364.04,285.42 364.51,284.55 C364.86,283.90 365.21,283.14 365.56,283.14 C366.03,283.14 366.50,284.57 366.97,285.26 C367.56,286.12 368.15,287.44 368.73,287.74 C369.20,287.97 369.67,288.09 370.14,288.09 C370.73,288.09 371.31,285.00 371.90,283.49 C372.60,281.68 373.31,278.18 374.01,278.18 C374.48,278.18 374.95,278.91 375.42,279.24 C375.95,279.62 376.48,280.30 377.00,280.30 C377.41,280.30 377.83,279.28 378.24,278.89 C378.53,278.61 378.82,278.18 379.12,278.18 C379.64,278.18 380.17,280.77 380.70,281.72 C381.35,282.88 381.99,284.20 382.64,284.20 C383.16,284.20 383.69,283.14 384.22,281.01 C384.57,279.60 384.92,277.65 385.28,274.64 C385.69,271.13 386.10,264.66 386.51,260.48 C386.86,256.90 387.21,250.92 387.56,250.92 C387.92,250.92 388.27,257.71 388.62,262.25 C388.97,266.79 389.32,274.54 389.68,278.18 C390.09,282.43 390.50,283.89 390.91,284.55 C391.49,285.50 392.08,285.97 392.67,285.97 C393.37,285.97 394.08,285.57 394.78,285.26 C395.43,284.97 396.07,284.91 396.72,284.20 C397.24,283.62 397.77,281.00 398.30,278.18 C398.89,275.05 399.47,269.20 400.06,265.79 C400.59,262.73 401.12,258.36 401.64,258.36 C402.05,258.36 402.47,264.43 402.88,267.56 C403.40,271.59 403.93,277.50 404.46,279.95 C405.22,283.49 405.99,285.26 406.75,285.26 C407.45,285.26 408.16,284.51 408.86,284.20 C409.45,283.94 410.03,283.67 410.62,283.49 C411.21,283.31 411.79,283.14 412.38,283.14 C413.26,283.14 414.14,283.64 415.02,283.84 C415.61,283.98 416.19,284.20 416.78,284.20 C417.37,284.20 417.95,281.65 418.54,279.95 C419.36,277.56 420.18,274.05 421.00,271.10" fill="none" stroke="#0a0a0a" stroke-width="1.3" stroke-linejoin="round"/></g>
<line x1="354.3" y1="217.5" x2="354.3" y2="289.5" stroke="#111" stroke-width="1.3"/>
<line x1="353.7" y1="288.8" x2="420.7" y2="288.8" stroke="#111" stroke-width="1.4"/>
<line x1="352.1" y1="288.80" x2="354.3" y2="288.80" stroke="#111" stroke-width="1"/>
<text x="351.7" y="291.80" font-size="8.3" text-anchor="end" font-weight="bold" font-style="normal" fill="#111" stroke="#111" stroke-width="0.3">0</text>
<line x1="352.1" y1="253.40" x2="354.3" y2="253.40" stroke="#111" stroke-width="1"/>
<text x="351.7" y="256.40" font-size="8.3" text-anchor="end" font-weight="bold" font-style="normal" fill="#111" stroke="#111" stroke-width="0.3">10</text>
<line x1="352.1" y1="218.00" x2="354.3" y2="218.00" stroke="#111" stroke-width="1"/>
<text x="351.7" y="221.00" font-size="8.3" text-anchor="end" font-weight="bold" font-style="normal" fill="#111" stroke="#111" stroke-width="0.3">20</text>
<line x1="353.1" y1="271.10" x2="354.3" y2="271.10" stroke="#111" stroke-width="0.9"/>
<line x1="353.1" y1="235.70" x2="354.3" y2="235.70" stroke="#111" stroke-width="0.9"/>
<line x1="371.90" y1="288.8" x2="371.90" y2="291.2" stroke="#111" stroke-width="1"/>
<text x="371.90" y="298.40000000000003" font-size="8.0" text-anchor="middle" font-weight="bold" font-style="normal" fill="#111" textLength="11.6" lengthAdjust="spacingAndGlyphs" stroke="#111" stroke-width="0.35">100</text>
<line x1="389.50" y1="288.8" x2="389.50" y2="291.2" stroke="#111" stroke-width="1"/>
<text x="389.50" y="298.40000000000003" font-size="8.0" text-anchor="middle" font-weight="bold" font-style="normal" fill="#111" textLength="11.6" lengthAdjust="spacingAndGlyphs" stroke="#111" stroke-width="0.35">200</text>
<line x1="407.10" y1="288.8" x2="407.10" y2="291.2" stroke="#111" stroke-width="1"/>
<text x="407.10" y="298.40000000000003" font-size="8.0" text-anchor="middle" font-weight="bold" font-style="normal" fill="#111" textLength="11.6" lengthAdjust="spacingAndGlyphs" stroke="#111" stroke-width="0.35">300</text>
<text x="389.50" y="311.90000000000003" font-size="10.7" text-anchor="middle" font-weight="normal" font-style="normal" fill="#111"  stroke="#111" stroke-width="0.22">Size (nm)</text>
<clipPath id="cGp"><rect x="436.0" y="218.1" width="69.30000000000001" height="70.79999999999998"/></clipPath>
<g clip-path="url(#cGp)"><path d="M445.51,288.55 C445.80,288.08 446.09,287.76 446.38,287.14 C447.07,285.65 447.76,280.10 448.46,280.10 C448.92,280.10 449.38,287.14 449.84,287.14 C450.82,287.14 451.80,286.55 452.78,285.38 C453.53,284.48 454.28,279.44 455.03,274.82 C455.66,270.91 456.30,260.74 456.93,260.74 C457.45,260.74 457.97,267.78 458.49,267.78 C458.95,267.78 459.41,258.78 459.87,257.22 C460.57,254.87 461.26,256.05 461.95,253.70 C462.47,251.94 462.99,241.38 463.51,241.38 C463.85,241.38 464.20,254.20 464.55,257.22 C464.95,260.74 465.35,260.74 465.76,262.50 C466.16,264.26 466.56,267.78 466.97,267.78 C467.37,267.78 467.77,262.55 468.18,259.94 C468.41,258.45 468.64,256.40 468.87,255.46 C469.16,254.29 469.45,253.70 469.74,253.70 C470.31,253.70 470.89,264.26 471.47,264.26 C472.04,264.26 472.62,260.74 473.19,260.74 C473.94,260.74 474.69,260.74 475.44,260.74 C475.91,260.74 476.37,256.83 476.83,254.87 C477.06,253.90 477.29,251.94 477.52,251.94 C477.75,251.94 477.98,252.74 478.21,253.70 C478.67,255.62 479.13,260.53 479.60,263.94 C479.77,265.22 479.94,267.78 480.12,267.78 C480.40,267.78 480.69,267.78 480.98,267.78 C481.27,267.78 481.56,267.78 481.85,267.78 C482.02,267.78 482.19,268.95 482.36,269.54 C482.88,271.30 483.40,274.82 483.92,274.82 C484.38,274.82 484.84,271.93 485.31,270.49 C485.59,269.59 485.88,267.78 486.17,267.78 C486.34,267.78 486.52,269.19 486.69,269.89 C487.09,271.53 487.50,274.82 487.90,274.82 C488.02,274.82 488.13,274.35 488.25,274.12 C488.71,273.18 489.17,273.18 489.63,271.30 C490.09,269.42 490.55,262.54 491.01,258.16 C491.42,254.33 491.82,250.79 492.23,246.66 C492.63,242.53 493.03,237.81 493.44,233.39 C493.78,229.60 494.13,222.02 494.47,222.02 C494.82,222.02 495.17,232.08 495.51,237.11 C495.57,237.94 495.63,238.79 495.69,239.62 C495.97,243.79 496.26,247.74 496.55,251.80 C497.01,258.30 497.47,270.20 497.93,271.30 C498.51,272.68 499.09,272.68 499.66,273.37 C500.07,273.85 500.47,274.14 500.88,274.82 C501.16,275.31 501.45,275.99 501.74,276.58 C502.61,278.34 503.47,280.89 504.33,281.86 C504.62,282.18 504.91,282.33 505.20,282.56 L505.20,286.79 C504.91,286.55 504.62,286.29 504.33,286.08 C503.47,285.47 502.61,285.51 501.74,285.03 C501.45,284.87 501.16,284.70 500.88,284.50 C500.47,284.23 500.07,283.99 499.66,283.56 C499.09,282.94 498.51,282.25 497.93,281.02 C497.47,280.03 497.01,279.30 496.55,277.31 C496.26,276.07 495.97,274.22 495.69,272.71 C495.63,272.41 495.57,272.08 495.51,271.80 C495.17,270.11 494.82,268.91 494.47,268.91 C494.13,268.91 493.78,269.13 493.44,269.59 C493.03,270.12 492.63,272.34 492.23,274.12 C491.82,275.90 491.42,278.78 491.01,280.26 C490.55,281.96 490.09,283.13 489.63,283.13 C489.17,283.13 488.71,282.99 488.25,282.99 C488.13,282.99 488.02,283.00 487.90,283.03 C487.50,283.14 487.09,284.11 486.69,284.68 C486.52,284.92 486.34,285.42 486.17,285.42 C485.88,285.42 485.59,285.41 485.31,285.40 C484.84,285.39 484.38,285.25 483.92,284.96 C483.40,284.62 482.88,283.84 482.36,282.21 C482.19,281.67 482.02,281.01 481.85,280.35 C481.56,279.24 481.27,277.57 480.98,276.65 C480.69,275.73 480.40,275.15 480.12,274.80 C479.94,274.59 479.77,274.46 479.60,274.46 C479.13,274.46 478.67,274.58 478.21,274.82 C477.98,274.94 477.75,275.59 477.52,275.59 C477.29,275.59 477.06,275.43 476.83,275.43 C476.37,275.43 475.91,275.52 475.44,275.52 C474.69,275.52 473.94,275.38 473.19,275.10 C472.62,274.88 472.04,273.55 471.47,273.55 C470.89,273.55 470.31,274.00 469.74,274.82 C469.45,275.23 469.16,275.98 468.87,276.35 C468.64,276.64 468.41,276.61 468.18,276.95 C467.77,277.55 467.37,280.03 466.97,280.03 C466.56,280.03 466.16,278.97 465.76,277.28 C465.35,275.59 464.95,271.69 464.55,269.89 C464.20,268.35 463.85,266.72 463.51,266.72 C462.99,266.72 462.47,267.41 461.95,268.48 C461.26,269.92 460.57,275.38 459.87,275.38 C459.41,275.38 458.95,274.54 458.49,274.54 C457.97,274.54 457.45,275.45 456.93,276.37 C456.30,277.50 455.66,279.36 455.03,281.16 C454.28,283.27 453.53,288.30 452.78,288.34 C451.80,288.38 450.82,288.41 449.84,288.41 C449.38,288.41 448.92,288.13 448.46,288.13 C447.76,288.13 447.07,288.30 446.38,288.41 C446.09,288.45 445.80,288.50 445.51,288.55 Z" fill="#70df6c" stroke="#66c856" stroke-width="0.3"/><path d="M436.00,288.90 C438.88,288.90 441.77,288.90 444.65,288.90 C445.23,288.90 445.80,288.50 446.38,288.20 C447.07,287.83 447.76,286.79 448.46,286.79 C448.92,286.79 449.38,288.20 449.84,288.20 C450.82,288.20 451.80,288.08 452.78,287.84 C453.53,287.66 454.28,282.64 455.03,280.10 C455.66,277.95 456.30,274.05 456.93,273.76 C457.45,273.53 457.97,273.65 458.49,273.41 C458.95,273.20 459.41,273.06 459.87,272.36 C460.57,271.30 461.26,267.82 461.95,266.02 C462.47,264.67 462.99,262.50 463.51,262.50 C463.85,262.50 464.20,265.90 464.55,267.78 C464.95,269.97 465.35,273.12 465.76,274.82 C466.16,276.52 466.56,277.99 466.97,277.99 C467.37,277.99 467.77,275.16 468.18,274.12 C468.70,272.77 469.22,271.30 469.74,271.30 C470.31,271.30 470.89,271.77 471.47,272.00 C472.04,272.24 472.62,272.54 473.19,272.71 C473.94,272.93 474.69,273.06 475.44,273.06 C475.91,273.06 476.37,272.30 476.83,272.00 C477.29,271.71 477.75,271.30 478.21,271.30 C478.67,271.30 479.13,272.06 479.60,272.71 C480.06,273.35 480.52,273.94 480.98,275.17 C481.44,276.40 481.90,278.79 482.36,280.10 C482.88,281.58 483.40,283.27 483.92,283.27 C484.38,283.27 484.84,283.09 485.31,282.92 C485.77,282.74 486.23,282.43 486.69,282.21 C487.21,281.96 487.73,281.69 488.25,281.51 C488.71,281.35 489.17,281.39 489.63,281.16 C490.09,280.92 490.55,278.72 491.01,276.58 C491.42,274.71 491.82,271.71 492.23,269.54 C492.63,267.37 493.03,264.99 493.44,263.56 C493.78,262.32 494.13,261.09 494.47,261.09 C494.82,261.09 495.17,264.03 495.51,266.02 C495.86,268.01 496.20,271.04 496.55,273.06 C497.01,275.75 497.47,278.08 497.93,279.40 C498.51,281.04 499.09,281.19 499.66,281.86 C500.36,282.66 501.05,283.09 501.74,283.62 C502.61,284.29 503.47,284.71 504.33,285.38 C504.62,285.60 504.91,285.85 505.20,286.08" fill="none" stroke="#0a0a0a" stroke-width="1.3" stroke-linejoin="round"/></g>
<line x1="436.0" y1="218.0" x2="436.0" y2="289.59999999999997" stroke="#111" stroke-width="1.3"/>
<line x1="435.4" y1="288.9" x2="505.3" y2="288.9" stroke="#111" stroke-width="1.4"/>
<line x1="433.8" y1="288.90" x2="436.0" y2="288.90" stroke="#111" stroke-width="1"/>
<text x="433.4" y="291.90" font-size="8.3" text-anchor="end" font-weight="bold" font-style="normal" fill="#111" stroke="#111" stroke-width="0.3">0</text>
<line x1="433.8" y1="253.70" x2="436.0" y2="253.70" stroke="#111" stroke-width="1"/>
<text x="433.4" y="256.70" font-size="8.3" text-anchor="end" font-weight="bold" font-style="normal" fill="#111" stroke="#111" stroke-width="0.3">10</text>
<line x1="433.8" y1="218.50" x2="436.0" y2="218.50" stroke="#111" stroke-width="1"/>
<text x="433.4" y="221.50" font-size="8.3" text-anchor="end" font-weight="bold" font-style="normal" fill="#111" stroke="#111" stroke-width="0.3">20</text>
<line x1="434.8" y1="271.30" x2="436.0" y2="271.30" stroke="#111" stroke-width="0.9"/>
<line x1="434.8" y1="236.10" x2="436.0" y2="236.10" stroke="#111" stroke-width="0.9"/>
<line x1="453.30" y1="288.9" x2="453.30" y2="291.29999999999995" stroke="#111" stroke-width="1"/>
<text x="453.30" y="298.5" font-size="8.0" text-anchor="middle" font-weight="bold" font-style="normal" fill="#111" textLength="11.6" lengthAdjust="spacingAndGlyphs" stroke="#111" stroke-width="0.35">100</text>
<line x1="470.60" y1="288.9" x2="470.60" y2="291.29999999999995" stroke="#111" stroke-width="1"/>
<text x="470.60" y="298.5" font-size="8.0" text-anchor="middle" font-weight="bold" font-style="normal" fill="#111" textLength="11.6" lengthAdjust="spacingAndGlyphs" stroke="#111" stroke-width="0.35">200</text>
<line x1="487.90" y1="288.9" x2="487.90" y2="291.29999999999995" stroke="#111" stroke-width="1"/>
<text x="487.90" y="298.5" font-size="8.0" text-anchor="middle" font-weight="bold" font-style="normal" fill="#111" textLength="11.6" lengthAdjust="spacingAndGlyphs" stroke="#111" stroke-width="0.35">300</text>
<text x="470.60" y="312.0" font-size="10.7" text-anchor="middle" font-weight="normal" font-style="normal" fill="#111"  stroke="#111" stroke-width="0.22">Size (nm)</text>
<clipPath id="cHm"><rect x="519.3" y="218.1" width="67.10000000000002" height="71.50000000000003"/></clipPath>
<g clip-path="url(#cHm)"><path d="M569.14,289.60 C570.03,289.01 570.92,288.50 571.81,287.82 C572.11,287.60 572.40,287.11 572.70,287.11 C573.00,287.11 573.29,287.57 573.59,287.82 C574.18,288.34 574.78,289.01 575.37,289.60 L575.37,289.60 C574.78,289.60 574.18,289.60 573.59,289.60 C573.29,289.60 573.00,289.60 572.70,289.60 C572.40,289.60 572.11,289.60 571.81,289.60 C570.92,289.60 570.03,289.60 569.14,289.60 Z" fill="#70df6c" stroke="#66c856" stroke-width="0.3"/></g>
<line x1="519.3" y1="218.0" x2="519.3" y2="290.3" stroke="#111" stroke-width="1.3"/>
<line x1="518.6999999999999" y1="289.6" x2="586.4" y2="289.6" stroke="#111" stroke-width="1.4"/>
<line x1="517.0999999999999" y1="289.60" x2="519.3" y2="289.60" stroke="#111" stroke-width="1"/>
<text x="516.6999999999999" y="292.60" font-size="8.3" text-anchor="end" font-weight="bold" font-style="normal" fill="#111" stroke="#111" stroke-width="0.3">0</text>
<line x1="517.0999999999999" y1="254.05" x2="519.3" y2="254.05" stroke="#111" stroke-width="1"/>
<text x="516.6999999999999" y="257.05" font-size="8.3" text-anchor="end" font-weight="bold" font-style="normal" fill="#111" stroke="#111" stroke-width="0.3">10</text>
<line x1="517.0999999999999" y1="218.50" x2="519.3" y2="218.50" stroke="#111" stroke-width="1"/>
<text x="516.6999999999999" y="221.50" font-size="8.3" text-anchor="end" font-weight="bold" font-style="normal" fill="#111" stroke="#111" stroke-width="0.3">20</text>
<line x1="518.0999999999999" y1="271.83" x2="519.3" y2="271.83" stroke="#111" stroke-width="0.9"/>
<line x1="518.0999999999999" y1="236.28" x2="519.3" y2="236.28" stroke="#111" stroke-width="0.9"/>
<line x1="537.10" y1="289.6" x2="537.10" y2="292.0" stroke="#111" stroke-width="1"/>
<text x="537.10" y="299.20000000000005" font-size="8.0" text-anchor="middle" font-weight="bold" font-style="normal" fill="#111" textLength="11.6" lengthAdjust="spacingAndGlyphs" stroke="#111" stroke-width="0.35">100</text>
<line x1="554.90" y1="289.6" x2="554.90" y2="292.0" stroke="#111" stroke-width="1"/>
<text x="554.90" y="299.20000000000005" font-size="8.0" text-anchor="middle" font-weight="bold" font-style="normal" fill="#111" textLength="11.6" lengthAdjust="spacingAndGlyphs" stroke="#111" stroke-width="0.35">200</text>
<line x1="572.70" y1="289.6" x2="572.70" y2="292.0" stroke="#111" stroke-width="1"/>
<text x="572.70" y="299.20000000000005" font-size="8.0" text-anchor="middle" font-weight="bold" font-style="normal" fill="#111" textLength="11.6" lengthAdjust="spacingAndGlyphs" stroke="#111" stroke-width="0.35">300</text>
<text x="554.90" y="312.70000000000005" font-size="10.7" text-anchor="middle" font-weight="normal" font-style="normal" fill="#111"  stroke="#111" stroke-width="0.22">Size (nm)</text>
<clipPath id="cHp"><rect x="599.7" y="219.0" width="70.29999999999995" height="71.0"/></clipPath>
<g clip-path="url(#cHp)"><path d="M607.58,290.00 C607.87,289.06 608.16,287.18 608.45,287.18 C608.74,287.18 609.03,288.94 609.33,288.94 C609.62,288.94 609.91,288.39 610.20,288.12 C610.78,287.57 611.37,287.57 611.95,286.47 C612.53,285.37 613.12,281.76 613.70,279.41 C613.99,278.23 614.28,277.90 614.58,275.88 C614.75,274.67 614.93,272.85 615.10,271.34 C615.33,269.32 615.57,269.32 615.80,265.29 C615.98,262.26 616.15,245.88 616.33,245.88 C616.50,245.88 616.68,261.43 616.85,265.29 C616.97,267.86 617.08,268.11 617.20,269.53 C617.38,271.64 617.55,274.67 617.73,275.88 C617.84,276.69 617.96,276.69 618.08,277.09 C618.37,278.10 618.66,280.12 618.95,280.12 C619.36,280.12 619.77,279.23 620.18,277.64 C620.58,276.06 620.99,273.52 621.40,270.58 C621.87,267.23 622.33,263.02 622.80,258.23 C623.21,254.04 623.62,249.61 624.03,244.11 C624.38,239.40 624.73,232.94 625.08,228.22 C625.37,224.29 625.66,217.63 625.95,217.63 C626.18,217.63 626.42,219.93 626.65,222.93 C626.83,225.18 627.00,228.22 627.18,231.75 C627.35,235.28 627.53,239.70 627.70,244.11 C627.88,248.52 628.05,254.41 628.23,258.23 C628.46,263.33 628.69,265.88 628.93,268.82 C629.16,271.76 629.39,274.54 629.62,275.88 C630.03,278.23 630.44,278.66 630.85,279.41 C631.49,280.59 632.13,280.59 632.78,281.18 C633.42,281.76 634.06,282.94 634.70,282.94 C635.34,282.94 635.98,282.94 636.62,282.94 C637.03,282.94 637.44,281.76 637.85,279.41 C638.20,277.39 638.55,252.94 638.90,252.94 C638.96,252.94 639.02,256.47 639.08,258.23 C639.19,261.76 639.31,266.14 639.43,268.82 C639.60,272.84 639.78,273.06 639.95,275.17 C640.07,276.59 640.18,278.53 640.30,279.41 C640.48,280.73 640.65,280.73 640.83,281.40 C641.12,282.50 641.41,284.20 641.70,284.70 C641.99,285.21 642.28,285.21 642.58,285.46 C642.69,285.56 642.81,285.66 642.93,285.76 C643.39,286.18 643.86,286.71 644.33,287.18 C644.91,287.76 645.49,288.47 646.08,288.94 C646.66,289.41 647.24,289.65 647.83,290.00 L647.83,290.00 C647.24,290.00 646.66,290.00 646.08,290.00 C645.49,290.00 644.91,290.00 644.33,290.00 C643.86,290.00 643.39,290.00 642.93,290.00 C642.81,290.00 642.69,290.00 642.58,290.00 C642.28,290.00 641.99,289.16 641.70,288.91 C641.41,288.66 641.12,288.77 640.83,288.50 C640.65,288.34 640.48,286.31 640.30,285.74 C640.18,285.35 640.07,285.42 639.95,285.06 C639.78,284.52 639.60,282.56 639.43,282.56 C639.31,282.56 639.19,282.85 639.08,283.43 C639.02,283.73 638.96,286.75 638.90,286.75 C638.55,286.75 638.20,283.36 637.85,283.36 C637.44,283.36 637.03,285.91 636.62,285.91 C635.98,285.91 635.34,285.62 634.70,285.41 C634.06,285.20 633.42,285.06 632.78,284.63 C632.13,284.21 631.49,284.05 630.85,282.87 C630.44,282.12 630.03,281.86 629.62,279.83 C629.39,278.68 629.16,276.37 628.93,273.76 C628.69,271.15 628.46,268.11 628.23,264.16 C628.05,261.20 627.88,258.08 627.70,253.99 C627.53,249.91 627.35,243.60 627.18,239.66 C627.00,235.72 626.83,233.16 626.65,230.34 C626.42,226.58 626.18,220.60 625.95,220.60 C625.66,220.60 625.37,230.84 625.08,235.64 C624.73,241.40 624.38,247.28 624.03,252.02 C623.62,257.54 623.21,261.67 622.80,265.64 C622.33,270.18 621.87,274.41 621.40,277.01 C620.99,279.28 620.58,279.93 620.18,281.10 C619.77,282.28 619.36,284.07 618.95,284.07 C618.66,284.07 618.37,283.65 618.08,282.81 C617.96,282.47 617.84,280.33 617.73,279.34 C617.55,277.85 617.38,276.90 617.20,275.95 C617.08,275.32 616.97,274.28 616.85,274.28 C616.68,274.28 616.50,277.01 616.33,277.01 C616.15,277.01 615.98,272.84 615.80,272.84 C615.57,272.84 615.33,274.17 615.10,275.22 C614.93,276.02 614.75,276.98 614.58,278.04 C614.28,279.81 613.99,282.82 613.70,284.35 C613.12,287.41 612.53,288.23 611.95,288.94 C611.37,289.65 610.78,290.00 610.20,290.00 C609.91,290.00 609.62,290.00 609.33,290.00 C609.03,290.00 608.74,290.00 608.45,290.00 C608.16,290.00 607.87,290.00 607.58,290.00 Z" fill="#70df6c" stroke="#66c856" stroke-width="0.3"/><path d="M599.70,290.00 C603.20,290.00 606.70,290.00 610.20,290.00 C610.78,290.00 611.37,289.41 611.95,288.24 C612.53,287.06 613.12,285.77 613.70,282.94 C614.17,280.68 614.63,276.71 615.10,274.12 C615.51,271.85 615.92,268.11 616.33,268.11 C616.62,268.11 616.91,271.94 617.20,274.12 C617.49,276.29 617.78,280.00 618.08,281.18 C618.37,282.35 618.66,282.94 618.95,282.94 C619.36,282.94 619.77,281.41 620.18,280.12 C620.58,278.82 620.99,277.64 621.40,275.17 C621.87,272.36 622.33,268.13 622.80,263.52 C623.21,259.49 623.62,255.28 624.03,249.76 C624.38,245.03 624.73,238.98 625.08,233.52 C625.37,228.97 625.66,219.75 625.95,219.75 C626.18,219.75 626.42,224.68 626.65,228.22 C626.83,230.88 627.00,233.58 627.18,237.40 C627.35,241.23 627.53,246.99 627.70,251.17 C627.88,255.35 628.05,259.26 628.23,262.47 C628.46,266.75 628.69,269.64 628.93,272.35 C629.16,275.06 629.39,277.49 629.62,278.70 C630.03,280.82 630.44,281.13 630.85,281.88 C631.49,283.06 632.13,283.18 632.78,283.65 C633.42,284.12 634.06,284.47 634.70,284.70 C635.34,284.94 635.98,285.06 636.62,285.06 C637.03,285.06 637.44,283.70 637.85,282.23 C638.26,280.76 638.67,276.23 639.08,276.23 C639.37,276.23 639.66,280.53 639.95,282.23 C640.24,283.94 640.53,285.65 640.83,286.47 C641.41,288.12 641.99,288.35 642.58,288.94 C643.16,289.53 643.74,290.00 644.33,290.00 C652.78,290.00 661.24,290.00 669.70,290.00" fill="none" stroke="#0a0a0a" stroke-width="1.3" stroke-linejoin="round"/></g>
<line x1="599.7" y1="218.9" x2="599.7" y2="290.7" stroke="#111" stroke-width="1.3"/>
<line x1="599.1" y1="290.0" x2="670.0" y2="290.0" stroke="#111" stroke-width="1.4"/>
<line x1="597.5" y1="290.00" x2="599.7" y2="290.00" stroke="#111" stroke-width="1"/>
<text x="597.1" y="293.00" font-size="8.3" text-anchor="end" font-weight="bold" font-style="normal" fill="#111" stroke="#111" stroke-width="0.3">0</text>
<line x1="597.5" y1="254.70" x2="599.7" y2="254.70" stroke="#111" stroke-width="1"/>
<text x="597.1" y="257.70" font-size="8.3" text-anchor="end" font-weight="bold" font-style="normal" fill="#111" stroke="#111" stroke-width="0.3">10</text>
<line x1="597.5" y1="219.40" x2="599.7" y2="219.40" stroke="#111" stroke-width="1"/>
<text x="597.1" y="222.40" font-size="8.3" text-anchor="end" font-weight="bold" font-style="normal" fill="#111" stroke="#111" stroke-width="0.3">20</text>
<line x1="598.5" y1="272.35" x2="599.7" y2="272.35" stroke="#111" stroke-width="0.9"/>
<line x1="598.5" y1="237.05" x2="599.7" y2="237.05" stroke="#111" stroke-width="0.9"/>
<line x1="617.20" y1="290.0" x2="617.20" y2="292.4" stroke="#111" stroke-width="1"/>
<text x="617.20" y="299.6" font-size="8.0" text-anchor="middle" font-weight="bold" font-style="normal" fill="#111" textLength="11.6" lengthAdjust="spacingAndGlyphs" stroke="#111" stroke-width="0.35">100</text>
<line x1="634.70" y1="290.0" x2="634.70" y2="292.4" stroke="#111" stroke-width="1"/>
<text x="634.70" y="299.6" font-size="8.0" text-anchor="middle" font-weight="bold" font-style="normal" fill="#111" textLength="11.6" lengthAdjust="spacingAndGlyphs" stroke="#111" stroke-width="0.35">200</text>
<line x1="652.20" y1="290.0" x2="652.20" y2="292.4" stroke="#111" stroke-width="1"/>
<text x="652.20" y="299.6" font-size="8.0" text-anchor="middle" font-weight="bold" font-style="normal" fill="#111" textLength="11.6" lengthAdjust="spacingAndGlyphs" stroke="#111" stroke-width="0.35">300</text>
<text x="634.70" y="313.1" font-size="10.7" text-anchor="middle" font-weight="normal" font-style="normal" fill="#111"  stroke="#111" stroke-width="0.22">Size (nm)</text>
<text x="63.7" y="253.6" font-size="10.6" text-anchor="middle" font-weight="normal" font-style="normal" fill="#111"  stroke="#111" stroke-width="0.22">Not</text>
<text x="63.3" y="265.6" font-size="10.7" text-anchor="middle" font-weight="normal" font-style="normal" fill="#111"  stroke="#111" stroke-width="0.22">detected</text>
<text transform="translate(12.2,288.9) rotate(-90)" font-size="10.6" fill="#111">Particles x 10<tspan font-size="6.5" dy="-4">6</tspan><tspan dy="4">/ ml</tspan></text>
</svg>
</body></html>
